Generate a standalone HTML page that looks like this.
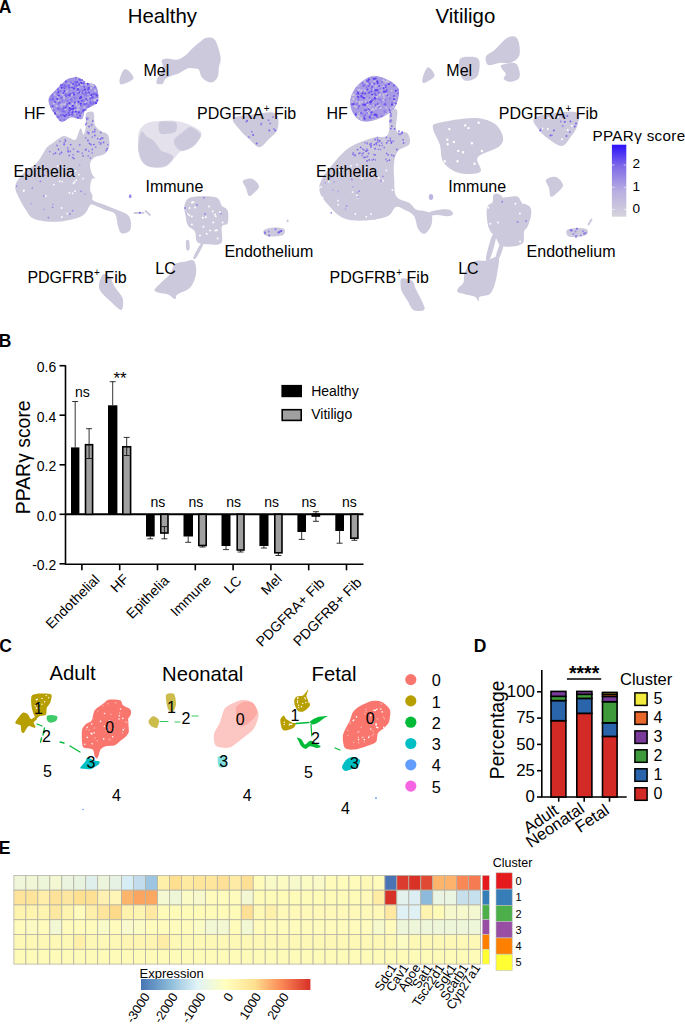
<!DOCTYPE html>
<html><head><meta charset="utf-8"><style>
html,body{margin:0;padding:0;background:#fff;width:685px;height:1025px;overflow:hidden;}
svg{display:block;font-family:"Liberation Sans",sans-serif;}
</style></head><body>
<svg width="685" height="1025" viewBox="0 0 685 1025" font-family="Liberation Sans, sans-serif"><text x="-1.2" y="12.9" font-size="17.5" font-weight="bold" fill="#000" >A</text>
<text x="127.8" y="22.8" font-size="20.4" fill="#000" >Healthy</text>
<text x="435.6" y="22.9" font-size="20.4" fill="#000" >Vitiligo</text>
<path d="M138.4,134.0 C139.5,128.3 142.7,125.8 146.3,123.6 C149.9,121.4 155.1,121.4 160.0,121.0 C164.9,120.6 171.0,120.3 176.0,121.0 C181.0,121.7 185.9,123.2 190.0,125.0 C194.1,126.8 199.0,129.3 200.7,131.5 C202.4,133.7 201.3,135.4 200.0,138.0 C198.7,140.6 196.3,144.7 193.0,147.0 C189.7,149.3 183.3,149.8 180.0,152.0 C176.7,154.2 175.5,157.5 173.0,160.0 C170.5,162.5 168.8,165.8 165.0,167.0 C161.2,168.2 154.2,168.5 150.0,167.0 C145.8,165.5 141.9,163.5 140.0,158.0 C138.1,152.5 137.3,139.7 138.4,134.0Z" fill="#e4e1ec"/>
<path d="M73.9,77.4 C71.9,77.7 69.8,77.6 66.9,79.6 C64.0,81.6 59.4,86.2 56.4,89.3 C53.4,92.4 49.9,95.1 48.9,98.0 C47.9,100.9 49.3,104.2 50.3,106.8 C51.2,109.4 53.3,111.8 54.6,113.8 C55.9,115.8 56.8,117.7 58.1,119.0 C59.4,120.3 60.3,122.0 62.5,121.7 C64.7,121.4 68.7,117.8 71.3,117.3 C73.9,116.8 76.4,118.8 78.3,119.0 C80.2,119.2 81.7,119.5 82.7,118.2 C83.7,116.9 83.4,113.0 84.4,111.2 C85.4,109.5 86.8,109.0 88.8,107.7 C90.8,106.4 95.1,105.2 96.7,103.3 C98.3,101.4 98.4,98.9 98.4,96.3 C98.4,93.7 97.6,89.5 96.7,87.5 C95.8,85.5 95.1,84.7 93.2,84.0 C91.3,83.3 86.9,83.7 85.3,83.1 C83.7,82.5 84.5,81.4 83.5,80.5 C82.5,79.6 80.8,78.4 79.2,77.9 C77.6,77.4 76.0,77.1 73.9,77.4Z" fill="#cdc9dc"/>
<path d="M15.4,189.2 C15.0,186.2 15.4,184.1 17.0,181.2 C18.6,178.3 21.9,174.8 25.0,172.0 C28.1,169.2 32.7,167.1 35.5,164.3 C38.3,161.6 40.0,158.3 41.9,155.5 C43.8,152.7 44.9,149.6 46.8,147.5 C48.7,145.4 50.5,144.6 53.2,142.7 C55.9,140.8 60.1,137.0 62.8,136.2 C65.5,135.4 67.0,137.2 69.2,137.8 C71.4,138.4 73.8,141.1 75.7,139.5 C77.6,137.9 79.2,129.0 80.5,128.2 C81.8,127.4 82.8,135.1 83.7,134.6 C84.6,134.1 85.6,128.5 86.0,125.0 C86.4,121.5 84.8,115.6 86.0,113.5 C87.2,111.4 92.0,110.6 93.5,112.5 C95.0,114.4 93.6,121.8 94.9,125.0 C96.2,128.2 99.2,129.8 101.4,131.4 C103.6,133.0 106.5,132.2 107.8,134.6 C109.1,137.0 109.9,142.7 109.4,145.9 C108.9,149.1 107.0,152.0 104.6,153.9 C102.2,155.8 97.3,155.5 94.9,157.1 C92.5,158.7 90.6,160.8 90.1,163.5 C89.6,166.2 90.9,170.8 91.7,173.2 C92.5,175.6 94.9,176.9 94.9,178.0 C94.9,179.1 92.5,177.7 91.7,179.6 C90.9,181.5 90.0,186.5 90.1,189.2 C90.2,191.9 92.0,193.8 92.5,195.7 C93.0,197.6 91.2,198.9 93.3,200.5 C95.4,202.1 101.1,203.4 105.0,205.0 C108.9,206.6 113.1,208.2 116.8,209.8 C120.5,211.4 125.0,212.6 127.3,214.5 C129.6,216.4 130.4,218.8 130.8,221.5 C131.2,224.2 131.2,228.9 129.7,230.8 C128.1,232.8 123.5,234.0 121.5,233.2 C119.5,232.4 119.1,229.4 118.0,226.2 C116.9,223.0 117.2,216.7 115.0,214.0 C112.8,211.3 108.6,211.3 105.0,209.8 C101.4,208.3 96.0,205.8 93.5,205.0 C91.0,204.2 91.5,203.9 90.1,205.3 C88.7,206.7 87.4,211.2 85.3,213.3 C83.2,215.4 81.3,216.8 77.3,218.1 C73.3,219.4 66.6,220.8 61.2,221.4 C55.8,222.0 49.9,222.0 45.1,221.4 C40.3,220.8 35.5,220.0 32.3,218.1 C29.1,216.2 28.0,213.3 25.9,210.1 C23.8,206.9 21.2,202.4 19.5,198.9 C17.8,195.4 15.8,192.1 15.4,189.2Z" fill="#cdc9dc"/>
<path d="M125.3,69.0 C127.5,69.0 134.2,75.6 133.5,78.2 C132.8,80.8 123.5,84.4 121.2,84.4 C119.0,84.4 119.3,80.6 120.0,78.0 C120.7,75.4 123.0,69.0 125.3,69.0Z" fill="#cdc9dc"/>
<path d="M161.7,60.4 C162.5,59.1 165.0,58.7 167.5,58.6 C170.0,58.5 174.0,60.3 176.9,59.8 C179.8,59.3 182.5,57.6 185.0,55.7 C187.5,53.9 189.7,50.9 192.0,48.7 C194.3,46.6 196.8,44.5 199.0,42.8 C201.2,41.0 203.0,39.1 204.9,38.2 C206.8,37.3 208.9,37.2 210.7,37.6 C212.4,38.0 214.0,38.5 215.4,40.5 C216.8,42.5 218.0,46.8 218.9,49.9 C219.8,53.0 220.7,56.3 220.7,59.2 C220.7,62.1 219.4,64.5 218.9,67.4 C218.4,70.3 218.7,74.3 217.7,76.7 C216.7,79.1 214.8,81.2 213.1,82.0 C211.3,82.8 209.1,82.3 207.2,81.4 C205.2,80.5 202.8,78.7 201.4,76.7 C200.0,74.8 200.2,71.1 199.0,69.7 C197.8,68.3 196.3,68.7 194.4,68.5 C192.5,68.3 189.9,67.7 187.4,68.5 C184.9,69.3 181.7,72.0 179.2,73.2 C176.7,74.4 174.5,74.5 172.2,75.5 C169.9,76.5 166.8,77.6 165.2,79.0 C163.6,80.4 164.2,82.9 162.8,83.7 C161.4,84.5 158.0,84.5 157.0,83.7 C156.0,82.9 156.4,80.8 157.0,79.0 C157.6,77.2 159.5,75.3 160.5,73.2 C161.5,71.1 162.6,68.3 162.8,66.2 C163.0,64.1 160.9,61.7 161.7,60.4Z" fill="#cdc9dc"/>
<path d="M233.0,118.4 C234.7,115.9 243.0,115.9 250.0,115.0 C257.0,114.1 270.4,110.7 275.0,113.0 C279.6,115.3 278.8,124.5 277.6,129.0 C276.4,133.5 271.1,136.9 268.0,140.0 C264.9,143.1 262.3,147.3 259.3,147.3 C256.3,147.3 253.2,142.9 250.0,140.0 C246.8,137.1 242.8,133.6 240.0,130.0 C237.2,126.4 231.3,120.9 233.0,118.4Z" fill="#cdc9dc"/>
<path d="M140.5,133.4 C139.7,136.1 138.0,144.0 138.2,148.5 C138.4,153.0 140.1,157.3 141.7,160.2 C143.2,163.1 145.0,164.8 147.5,166.0 C150.0,167.2 154.0,167.2 156.9,167.2 C159.8,167.2 162.7,167.0 165.0,166.0 C167.3,165.0 169.5,163.0 170.9,161.4 C172.3,159.8 173.6,158.1 173.2,156.7 C172.8,155.3 170.4,154.2 168.5,153.2 C166.6,152.2 163.4,152.3 161.5,150.9 C159.6,149.5 158.2,146.8 156.9,145.0 C155.6,143.2 155.0,141.8 153.4,140.4 C151.8,139.1 149.3,138.3 147.5,136.9 C145.7,135.5 144.0,132.8 142.8,132.2 C141.6,131.6 141.3,130.7 140.5,133.4Z" fill="#cdc9dc"/>
<path d="M159.2,122.5 C160.4,120.6 164.2,121.5 167.0,121.5 C169.8,121.5 174.6,120.9 176.1,122.5 C177.6,124.1 177.0,129.2 176.0,131.0 C175.0,132.8 172.7,133.1 170.0,133.4 C167.3,133.7 161.8,134.8 160.0,133.0 C158.2,131.2 158.0,124.4 159.2,122.5Z" fill="#cdc9dc"/>
<path d="M174.4,139.2 C175.6,136.9 179.9,134.2 182.6,132.2 C185.3,130.1 187.8,126.7 190.7,126.9 C193.6,127.1 198.4,131.6 200.0,133.4 C201.6,135.2 201.2,135.9 200.0,138.0 C198.8,140.1 195.9,144.0 193.0,146.2 C190.1,148.3 185.5,150.9 182.6,150.9 C179.7,150.9 176.9,148.1 175.5,146.2 C174.1,144.2 173.2,141.5 174.4,139.2Z" fill="#cdc9dc"/>
<path d="M243.0,181.0 C244.0,179.5 249.3,178.0 252.0,178.8 C254.7,179.6 258.5,183.8 259.0,186.0 C259.5,188.2 256.7,190.3 255.0,192.0 C253.3,193.7 250.5,196.7 249.0,196.0 C247.5,195.3 247.0,190.5 246.0,188.0 C245.0,185.5 242.0,182.5 243.0,181.0Z" fill="#cdc9dc"/>
<path d="M190.2,197.5 C194.5,195.9 205.4,196.2 210.1,196.4 C214.8,196.6 216.4,197.1 218.3,198.7 C220.2,200.2 220.2,203.8 221.8,205.7 C223.4,207.6 226.6,207.5 227.6,210.4 C228.6,213.3 228.6,220.5 227.6,223.2 C226.6,225.9 222.9,223.4 221.8,226.7 C220.8,230.0 223.7,240.2 221.3,243.1 C219.0,246.0 211.7,244.4 207.7,244.2 C203.7,244.0 199.3,244.0 197.2,241.9 C195.1,239.8 196.4,234.1 194.9,231.4 C193.4,228.7 189.5,228.2 187.9,225.5 C186.3,222.8 186.1,218.3 185.5,215.0 C184.9,211.7 183.6,208.6 184.4,205.7 C185.2,202.8 185.9,199.1 190.2,197.5Z" fill="#cdc9dc"/>
<path d="M193.7,260.6 C195.6,262.5 196.7,268.9 196.1,273.4 C195.5,277.9 193.3,284.0 190.2,287.5 C187.1,291.0 179.9,292.6 177.4,294.5 C174.9,296.4 176.6,299.1 175.0,299.1 C173.4,299.1 171.1,295.7 168.0,294.5 C164.9,293.3 158.5,293.1 156.4,292.1 C154.3,291.1 154.0,290.6 155.2,288.6 C156.4,286.7 160.9,282.9 163.4,280.4 C165.9,277.9 168.5,276.1 170.4,273.4 C172.3,270.7 172.7,266.0 175.0,264.1 C177.3,262.2 181.3,262.4 184.4,261.8 C187.5,261.2 191.8,258.7 193.7,260.6Z" fill="#cdc9dc"/>
<path d="M200.5,244.0 C202.1,242.0 203.8,242.7 203.0,245.0 C202.2,247.3 197.6,256.0 196.0,258.0 C194.4,260.0 192.8,259.3 193.5,257.0 C194.2,254.7 198.9,246.0 200.5,244.0Z" fill="#cdc9dc"/>
<path d="M186.0,241.0 C186.4,239.4 188.4,239.2 189.0,240.5 C189.6,241.8 189.9,247.4 189.5,249.0 C189.1,250.6 187.1,251.3 186.5,250.0 C185.9,248.7 185.6,242.6 186.0,241.0Z" fill="#cdc9dc"/>
<path d="M264.0,230.0 C265.5,228.8 270.7,227.7 274.0,227.5 C277.3,227.3 282.5,227.8 284.0,229.0 C285.5,230.2 285.0,233.8 283.0,235.0 C281.0,236.2 275.0,236.5 272.0,236.5 C269.0,236.5 266.3,236.1 265.0,235.0 C263.7,233.9 262.5,231.2 264.0,230.0Z" fill="#cdc9dc"/>
<path d="M102.8,274.8 C104.5,272.8 107.8,275.1 109.8,277.0 C111.8,278.9 112.4,282.9 114.5,286.4 C116.6,289.9 121.4,294.1 122.6,298.0 C123.8,301.9 123.3,309.0 121.5,309.8 C119.7,310.6 115.7,306.3 112.0,302.8 C108.3,299.3 100.8,293.5 99.3,288.8 C97.8,284.1 101.0,276.8 102.8,274.8Z" fill="#cdc9dc"/>
<path d="M373.0,76.0 C378.2,75.3 385.1,78.4 389.4,80.7 C393.7,83.0 397.7,86.0 398.8,90.0 C399.9,94.0 397.5,101.3 396.0,105.0 C394.5,108.7 392.7,109.8 390.0,112.0 C387.3,114.2 384.0,116.4 380.0,118.0 C376.0,119.6 369.9,121.6 366.0,121.6 C362.1,121.6 359.2,120.3 356.7,118.0 C354.2,115.7 351.9,111.5 351.0,108.0 C350.1,104.5 349.8,100.8 351.0,97.0 C352.2,93.2 354.3,88.5 358.0,85.0 C361.7,81.5 367.8,76.7 373.0,76.0Z" fill="#cdc9dc"/>
<path d="M389.8,111.0 C391.3,107.1 396.1,107.7 397.2,111.0 C398.3,114.3 394.7,127.0 396.4,130.7 C398.1,134.4 405.1,130.8 407.3,133.0 C409.5,135.2 410.9,141.0 409.5,143.9 C408.1,146.8 401.2,147.6 398.6,150.5 C396.1,153.4 394.9,156.7 394.2,161.4 C393.5,166.1 393.8,173.1 394.2,178.9 C394.6,184.7 393.8,192.4 396.4,196.4 C398.9,200.4 406.2,200.8 409.5,203.0 C412.8,205.2 413.6,208.3 416.0,209.6 C418.4,210.9 421.4,210.3 424.0,211.0 C426.6,211.7 430.2,211.7 431.4,214.0 C432.6,216.3 432.5,221.7 431.4,225.0 C430.3,228.3 427.0,233.0 424.8,233.7 C422.6,234.4 420.1,232.2 418.3,229.3 C416.5,226.4 416.2,219.2 414.0,216.0 C411.8,212.8 408.0,211.5 405.0,210.0 C402.0,208.5 398.9,206.0 396.0,207.0 C393.1,208.0 392.7,213.9 387.6,216.2 C382.6,218.4 373.0,220.2 365.7,220.5 C358.4,220.8 350.0,220.9 343.8,218.3 C337.6,215.8 332.5,209.6 328.5,205.2 C324.5,200.8 320.8,196.4 319.7,192.0 C318.6,187.6 319.3,184.0 321.9,178.9 C324.4,173.8 330.6,166.5 335.0,161.4 C339.4,156.3 343.8,151.6 348.2,148.3 C352.6,145.0 356.9,143.5 361.3,141.7 C365.7,139.9 370.1,138.5 374.5,137.3 C378.9,136.1 385.4,138.9 388.0,134.5 C390.6,130.1 388.3,114.9 389.8,111.0Z" fill="#cdc9dc"/>
<path d="M430.0,212.0 C431.8,211.0 437.7,209.8 441.0,209.5 C444.3,209.2 448.0,209.2 450.0,210.0 C452.0,210.8 453.3,213.0 453.0,214.0 C452.7,215.0 450.5,216.0 448.0,216.2 C445.5,216.4 441.0,215.1 438.0,215.0 C435.0,214.9 431.3,216.0 430.0,215.5 C428.7,215.0 428.2,213.0 430.0,212.0Z" fill="#cdc9dc"/>
<path d="M422.6,78.0 C423.3,75.4 426.0,67.6 428.0,67.3 C430.0,67.0 435.2,73.4 434.5,76.0 C433.8,78.6 426.0,82.7 424.0,83.0 C422.0,83.3 421.9,80.6 422.6,78.0Z" fill="#cdc9dc"/>
<path d="M459.4,60.0 C460.7,56.5 466.7,56.8 470.0,56.8 C473.3,56.8 477.7,57.0 479.0,60.0 C480.3,63.0 479.5,71.6 478.0,75.0 C476.5,78.4 472.7,79.9 470.0,80.4 C467.3,80.9 463.8,81.4 462.0,78.0 C460.2,74.6 458.1,63.5 459.4,60.0Z" fill="#cdc9dc"/>
<path d="M486.0,56.3 C487.1,53.8 491.6,52.6 494.9,49.7 C498.2,46.8 502.6,41.0 505.9,38.8 C509.2,36.6 512.4,35.9 514.6,36.6 C516.8,37.3 518.3,39.8 519.0,43.1 C519.7,46.4 520.5,53.0 519.0,56.3 C517.5,59.6 513.5,61.8 510.2,62.9 C506.9,64.0 502.9,62.5 499.3,62.9 C495.7,63.2 490.5,66.1 488.3,65.0 C486.1,63.9 484.9,58.8 486.0,56.3Z" fill="#cdc9dc"/>
<path d="M501.5,65.0 C503.5,63.9 511.7,62.2 514.6,62.9 C517.5,63.6 518.3,66.9 519.0,69.4 C519.7,72.0 520.5,76.2 519.0,78.2 C517.5,80.2 512.8,81.6 510.2,81.7 C507.6,81.8 504.4,80.3 503.7,79.0 C503.0,77.7 506.1,75.4 505.9,73.8 C505.7,72.2 503.1,70.9 502.4,69.4 C501.7,67.9 499.5,66.1 501.5,65.0Z" fill="#cdc9dc"/>
<path d="M535.6,117.2 C541.5,114.1 568.0,110.7 575.0,112.0 C582.0,113.3 578.4,120.7 577.6,125.0 C576.8,129.3 572.6,134.5 570.0,138.0 C567.4,141.5 565.2,145.7 561.9,146.0 C558.6,146.3 553.7,142.6 550.0,140.0 C546.3,137.4 541.9,134.2 539.5,130.4 C537.1,126.6 529.7,120.3 535.6,117.2Z" fill="#cdc9dc"/>
<path d="M433.0,128.4 C432.8,124.9 431.8,124.7 438.4,123.0 C445.0,121.3 463.3,118.0 472.5,118.0 C481.7,118.0 488.6,120.0 493.6,123.0 C498.7,126.0 501.9,132.3 502.8,136.3 C503.7,140.3 503.0,143.3 498.8,146.8 C494.6,150.3 480.9,153.2 477.8,157.3 C474.7,161.5 483.5,169.1 480.4,171.7 C477.3,174.3 465.5,174.5 459.4,173.0 C453.3,171.5 446.9,167.3 443.6,162.5 C440.3,157.7 441.5,149.9 439.7,144.2 C437.9,138.5 433.2,131.9 433.0,128.4Z" fill="#cdc9dc"/>
<path d="M546.0,180.0 C547.2,178.2 553.2,176.2 556.0,177.0 C558.8,177.8 562.7,182.5 563.0,185.0 C563.3,187.5 560.0,190.1 558.0,192.0 C556.0,193.9 552.5,197.4 551.0,196.7 C549.5,196.0 549.8,190.8 549.0,188.0 C548.2,185.2 544.8,181.8 546.0,180.0Z" fill="#cdc9dc"/>
<path d="M493.3,195.2 C494.0,193.8 495.6,193.4 497.0,193.5 C498.4,193.6 500.9,195.3 501.9,196.0 C502.9,196.7 500.6,197.4 503.1,197.5 C505.6,197.6 514.0,195.6 517.1,196.4 C520.2,197.2 519.6,200.4 521.8,202.2 C523.9,203.9 528.5,204.8 530.0,206.9 C531.5,209.0 531.5,211.7 531.1,215.0 C530.7,218.3 528.8,224.0 527.6,226.7 C526.4,229.4 524.9,228.7 524.1,231.4 C523.3,234.1 524.9,240.6 522.9,243.1 C520.9,245.6 516.1,246.2 512.4,246.6 C508.7,247.0 503.4,246.8 500.7,245.4 C498.0,244.0 498.0,241.1 496.1,238.4 C494.2,235.7 490.7,233.0 489.1,229.1 C487.5,225.2 486.9,218.9 486.7,215.0 C486.5,211.1 486.9,207.8 487.9,205.7 C488.9,203.6 491.7,203.9 492.6,202.2 C493.5,200.4 492.6,196.6 493.3,195.2Z" fill="#cdc9dc"/>
<path d="M486.7,260.6 C490.2,260.0 496.6,254.9 498.4,257.0 C500.1,259.1 498.0,268.3 497.2,273.4 C496.4,278.5 495.0,284.0 493.7,287.5 C492.4,291.0 491.4,292.9 489.1,294.5 C486.8,296.1 481.5,295.6 479.7,296.8 C477.9,298.0 479.3,301.5 478.5,301.5 C477.7,301.5 477.1,298.0 475.0,296.8 C472.9,295.6 468.6,295.3 465.7,294.5 C462.8,293.7 458.7,293.3 457.5,292.1 C456.3,290.9 457.7,289.1 458.7,287.5 C459.7,285.9 462.4,285.2 463.4,282.8 C464.4,280.4 463.3,276.5 464.5,273.4 C465.7,270.3 468.2,266.2 470.4,264.1 C472.5,262.0 474.7,261.2 477.4,260.6 C480.1,260.0 483.2,261.2 486.7,260.6Z" fill="#cdc9dc"/>
<path d="M500.0,244.0 C501.3,241.9 503.7,243.1 503.5,245.5 C503.3,247.9 500.3,256.4 499.0,258.5 C497.7,260.6 495.3,260.4 495.5,258.0 C495.7,255.6 498.7,246.1 500.0,244.0Z" fill="#cdc9dc"/>
<path d="M492.0,236.0 C493.7,232.6 496.3,233.7 496.0,237.5 C495.7,241.3 491.7,255.6 490.0,259.0 C488.3,262.4 485.7,261.8 486.0,258.0 C486.3,254.2 490.3,239.4 492.0,236.0Z" fill="#cdc9dc"/>
<path d="M567.0,230.0 C568.5,228.7 573.7,228.1 577.0,228.0 C580.3,227.9 585.5,228.3 587.0,229.5 C588.5,230.7 587.8,233.8 586.0,235.0 C584.2,236.2 579.0,236.8 576.0,237.0 C573.0,237.2 569.5,237.2 568.0,236.0 C566.5,234.8 565.5,231.3 567.0,230.0Z" fill="#cdc9dc"/>
<path d="M401.8,278.5 C403.8,277.9 410.0,279.2 412.3,281.0 C414.6,282.8 414.1,285.3 415.8,289.0 C417.6,292.7 421.4,299.5 422.8,303.0 C424.2,306.5 425.6,308.8 424.0,310.0 C422.4,311.2 416.1,311.6 413.4,310.0 C410.7,308.4 409.5,303.8 407.6,300.7 C405.7,297.6 403.0,294.1 401.8,291.4 C400.6,288.7 400.6,286.5 400.6,284.4 C400.6,282.2 399.9,279.1 401.8,278.5Z" fill="#cdc9dc"/>
<ellipse cx="130.2" cy="196.2" rx="1.3" ry="2" fill="#9a88e6"/>
<path d="M134.5,213 L143.5,212.8" stroke="#cdc9dc" stroke-width="1.8" stroke-linecap="round"/>
<circle cx="139.8" cy="212.8" r="1" fill="#7a64ea"/>
<path d="M145.5,211 L150,215" stroke="#cdc9dc" stroke-width="1.8" stroke-linecap="round"/>
<ellipse cx="431" cy="197" rx="2.2" ry="3" fill="#bdb5e0"/>
<ellipse cx="287.6" cy="220.7" rx="1" ry="1.5" fill="#cdc9dc"/>
<path d="M588.5,224.5 L591.5,219.5" stroke="#cdc9dc" stroke-width="2" stroke-linecap="round"/>
<path d="M73.9,77.4 C71.9,77.7 69.8,77.6 66.9,79.6 C64.0,81.6 59.4,86.2 56.4,89.3 C53.4,92.4 49.9,95.1 48.9,98.0 C47.9,100.9 49.3,104.2 50.3,106.8 C51.2,109.4 53.3,111.8 54.6,113.8 C55.9,115.8 56.8,117.7 58.1,119.0 C59.4,120.3 60.3,122.0 62.5,121.7 C64.7,121.4 68.7,117.8 71.3,117.3 C73.9,116.8 76.4,118.8 78.3,119.0 C80.2,119.2 81.7,119.5 82.7,118.2 C83.7,116.9 83.4,113.0 84.4,111.2 C85.4,109.5 86.8,109.0 88.8,107.7 C90.8,106.4 95.1,105.2 96.7,103.3 C98.3,101.4 98.4,98.9 98.4,96.3 C98.4,93.7 97.6,89.5 96.7,87.5 C95.8,85.5 95.1,84.7 93.2,84.0 C91.3,83.3 86.9,83.7 85.3,83.1 C83.7,82.5 84.5,81.4 83.5,80.5 C82.5,79.6 80.8,78.4 79.2,77.9 C77.6,77.4 76.0,77.1 73.9,77.4Z" fill="#a093e6"/>
<path d="M373.0,76.0 C378.2,75.3 385.1,78.4 389.4,80.7 C393.7,83.0 397.7,86.0 398.8,90.0 C399.9,94.0 397.5,101.3 396.0,105.0 C394.5,108.7 392.7,109.8 390.0,112.0 C387.3,114.2 384.0,116.4 380.0,118.0 C376.0,119.6 369.9,121.6 366.0,121.6 C362.1,121.6 359.2,120.3 356.7,118.0 C354.2,115.7 351.9,111.5 351.0,108.0 C350.1,104.5 349.8,100.8 351.0,97.0 C352.2,93.2 354.3,88.5 358.0,85.0 C361.7,81.5 367.8,76.7 373.0,76.0Z" fill="#a89be4"/>
<path d="M59.6,101.5a1.1,1.1 0 1,0 2.2,0a1.1,1.1 0 1,0 -2.2,0M66.1,104.2a1.1,1.1 0 1,0 2.2,0a1.1,1.1 0 1,0 -2.2,0M78.8,80.3a1.1,1.1 0 1,0 2.2,0a1.1,1.1 0 1,0 -2.2,0M79.4,84.1a1.1,1.1 0 1,0 2.2,0a1.1,1.1 0 1,0 -2.2,0M73.7,110.2a1.1,1.1 0 1,0 2.2,0a1.1,1.1 0 1,0 -2.2,0M65.2,103.3a1.1,1.1 0 1,0 2.2,0a1.1,1.1 0 1,0 -2.2,0M81.0,84.6a1.1,1.1 0 1,0 2.2,0a1.1,1.1 0 1,0 -2.2,0M68.1,84.1a1.1,1.1 0 1,0 2.2,0a1.1,1.1 0 1,0 -2.2,0M83.4,92.1a1.1,1.1 0 1,0 2.2,0a1.1,1.1 0 1,0 -2.2,0M77.5,78.8a1.1,1.1 0 1,0 2.2,0a1.1,1.1 0 1,0 -2.2,0M75.5,104.9a1.1,1.1 0 1,0 2.2,0a1.1,1.1 0 1,0 -2.2,0M94.4,99.9a1.1,1.1 0 1,0 2.2,0a1.1,1.1 0 1,0 -2.2,0M77.1,91.6a1.1,1.1 0 1,0 2.2,0a1.1,1.1 0 1,0 -2.2,0M65.8,91.3a1.1,1.1 0 1,0 2.2,0a1.1,1.1 0 1,0 -2.2,0M62.7,94.1a1.1,1.1 0 1,0 2.2,0a1.1,1.1 0 1,0 -2.2,0M76.0,110.0a1.1,1.1 0 1,0 2.2,0a1.1,1.1 0 1,0 -2.2,0M57.1,96.7a1.1,1.1 0 1,0 2.2,0a1.1,1.1 0 1,0 -2.2,0M82.4,81.9a1.1,1.1 0 1,0 2.2,0a1.1,1.1 0 1,0 -2.2,0M63.7,92.2a1.1,1.1 0 1,0 2.2,0a1.1,1.1 0 1,0 -2.2,0M89.1,96.8a1.1,1.1 0 1,0 2.2,0a1.1,1.1 0 1,0 -2.2,0M90.1,84.9a1.1,1.1 0 1,0 2.2,0a1.1,1.1 0 1,0 -2.2,0M64.5,106.2a1.1,1.1 0 1,0 2.2,0a1.1,1.1 0 1,0 -2.2,0M80.6,100.4a1.1,1.1 0 1,0 2.2,0a1.1,1.1 0 1,0 -2.2,0M62.1,92.5a1.1,1.1 0 1,0 2.2,0a1.1,1.1 0 1,0 -2.2,0M56.3,90.7a1.1,1.1 0 1,0 2.2,0a1.1,1.1 0 1,0 -2.2,0M74.3,113.6a1.1,1.1 0 1,0 2.2,0a1.1,1.1 0 1,0 -2.2,0M56.3,112.5a1.1,1.1 0 1,0 2.2,0a1.1,1.1 0 1,0 -2.2,0M68.7,98.3a1.1,1.1 0 1,0 2.2,0a1.1,1.1 0 1,0 -2.2,0M83.2,94.2a1.1,1.1 0 1,0 2.2,0a1.1,1.1 0 1,0 -2.2,0M86.5,94.2a1.1,1.1 0 1,0 2.2,0a1.1,1.1 0 1,0 -2.2,0M87.5,105.0a1.1,1.1 0 1,0 2.2,0a1.1,1.1 0 1,0 -2.2,0M70.6,88.3a1.1,1.1 0 1,0 2.2,0a1.1,1.1 0 1,0 -2.2,0M68.9,116.4a1.1,1.1 0 1,0 2.2,0a1.1,1.1 0 1,0 -2.2,0M80.6,116.7a1.1,1.1 0 1,0 2.2,0a1.1,1.1 0 1,0 -2.2,0M84.1,102.4a1.1,1.1 0 1,0 2.2,0a1.1,1.1 0 1,0 -2.2,0M52.9,103.4a1.1,1.1 0 1,0 2.2,0a1.1,1.1 0 1,0 -2.2,0M91.4,85.3a1.1,1.1 0 1,0 2.2,0a1.1,1.1 0 1,0 -2.2,0M81.1,114.4a1.1,1.1 0 1,0 2.2,0a1.1,1.1 0 1,0 -2.2,0M60.2,104.7a1.1,1.1 0 1,0 2.2,0a1.1,1.1 0 1,0 -2.2,0M84.8,84.5a1.1,1.1 0 1,0 2.2,0a1.1,1.1 0 1,0 -2.2,0M93.2,100.3a1.1,1.1 0 1,0 2.2,0a1.1,1.1 0 1,0 -2.2,0M57.0,89.2a1.1,1.1 0 1,0 2.2,0a1.1,1.1 0 1,0 -2.2,0M71.5,94.4a1.1,1.1 0 1,0 2.2,0a1.1,1.1 0 1,0 -2.2,0M71.5,103.9a1.1,1.1 0 1,0 2.2,0a1.1,1.1 0 1,0 -2.2,0M88.5,102.1a1.1,1.1 0 1,0 2.2,0a1.1,1.1 0 1,0 -2.2,0M90.1,88.1a1.1,1.1 0 1,0 2.2,0a1.1,1.1 0 1,0 -2.2,0M60.4,115.7a1.1,1.1 0 1,0 2.2,0a1.1,1.1 0 1,0 -2.2,0M63.3,96.2a1.1,1.1 0 1,0 2.2,0a1.1,1.1 0 1,0 -2.2,0M76.5,107.3a1.1,1.1 0 1,0 2.2,0a1.1,1.1 0 1,0 -2.2,0M61.4,106.9a1.1,1.1 0 1,0 2.2,0a1.1,1.1 0 1,0 -2.2,0M94.4,94.0a1.1,1.1 0 1,0 2.2,0a1.1,1.1 0 1,0 -2.2,0M83.3,107.5a1.1,1.1 0 1,0 2.2,0a1.1,1.1 0 1,0 -2.2,0M64.2,109.3a1.1,1.1 0 1,0 2.2,0a1.1,1.1 0 1,0 -2.2,0M51.2,109.1a1.1,1.1 0 1,0 2.2,0a1.1,1.1 0 1,0 -2.2,0M85.1,101.5a1.1,1.1 0 1,0 2.2,0a1.1,1.1 0 1,0 -2.2,0M61.0,94.4a1.1,1.1 0 1,0 2.2,0a1.1,1.1 0 1,0 -2.2,0M77.1,83.9a1.1,1.1 0 1,0 2.2,0a1.1,1.1 0 1,0 -2.2,0M57.8,88.5a1.1,1.1 0 1,0 2.2,0a1.1,1.1 0 1,0 -2.2,0M94.8,94.4a1.1,1.1 0 1,0 2.2,0a1.1,1.1 0 1,0 -2.2,0M75.2,103.2a1.1,1.1 0 1,0 2.2,0a1.1,1.1 0 1,0 -2.2,0M90.4,98.8a1.1,1.1 0 1,0 2.2,0a1.1,1.1 0 1,0 -2.2,0M77.6,109.6a1.1,1.1 0 1,0 2.2,0a1.1,1.1 0 1,0 -2.2,0M80.6,99.2a1.1,1.1 0 1,0 2.2,0a1.1,1.1 0 1,0 -2.2,0M57.4,100.9a1.1,1.1 0 1,0 2.2,0a1.1,1.1 0 1,0 -2.2,0M90.4,96.8a1.1,1.1 0 1,0 2.2,0a1.1,1.1 0 1,0 -2.2,0M55.8,99.4a1.1,1.1 0 1,0 2.2,0a1.1,1.1 0 1,0 -2.2,0M68.7,106.2a1.1,1.1 0 1,0 2.2,0a1.1,1.1 0 1,0 -2.2,0M62.9,98.0a1.1,1.1 0 1,0 2.2,0a1.1,1.1 0 1,0 -2.2,0M83.4,93.7a1.1,1.1 0 1,0 2.2,0a1.1,1.1 0 1,0 -2.2,0M77.3,87.3a1.1,1.1 0 1,0 2.2,0a1.1,1.1 0 1,0 -2.2,0M70.6,86.1a1.1,1.1 0 1,0 2.2,0a1.1,1.1 0 1,0 -2.2,0M70.0,95.5a1.1,1.1 0 1,0 2.2,0a1.1,1.1 0 1,0 -2.2,0M71.3,84.7a1.1,1.1 0 1,0 2.2,0a1.1,1.1 0 1,0 -2.2,0M78.6,92.7a1.1,1.1 0 1,0 2.2,0a1.1,1.1 0 1,0 -2.2,0M86.8,98.0a1.1,1.1 0 1,0 2.2,0a1.1,1.1 0 1,0 -2.2,0M94.0,90.7a1.1,1.1 0 1,0 2.2,0a1.1,1.1 0 1,0 -2.2,0M60.2,89.2a1.1,1.1 0 1,0 2.2,0a1.1,1.1 0 1,0 -2.2,0M92.4,86.3a1.1,1.1 0 1,0 2.2,0a1.1,1.1 0 1,0 -2.2,0M96.0,98.5a1.1,1.1 0 1,0 2.2,0a1.1,1.1 0 1,0 -2.2,0M62.9,104.3a1.1,1.1 0 1,0 2.2,0a1.1,1.1 0 1,0 -2.2,0M53.5,94.7a1.1,1.1 0 1,0 2.2,0a1.1,1.1 0 1,0 -2.2,0M86.4,98.7a1.1,1.1 0 1,0 2.2,0a1.1,1.1 0 1,0 -2.2,0M70.9,111.0a1.1,1.1 0 1,0 2.2,0a1.1,1.1 0 1,0 -2.2,0M81.3,81.7a1.1,1.1 0 1,0 2.2,0a1.1,1.1 0 1,0 -2.2,0M79.6,116.3a1.1,1.1 0 1,0 2.2,0a1.1,1.1 0 1,0 -2.2,0M55.4,106.0a1.1,1.1 0 1,0 2.2,0a1.1,1.1 0 1,0 -2.2,0M76.8,77.9a1.1,1.1 0 1,0 2.2,0a1.1,1.1 0 1,0 -2.2,0M58.8,114.1a1.1,1.1 0 1,0 2.2,0a1.1,1.1 0 1,0 -2.2,0M78.3,105.8a1.1,1.1 0 1,0 2.2,0a1.1,1.1 0 1,0 -2.2,0M64.9,104.1a1.1,1.1 0 1,0 2.2,0a1.1,1.1 0 1,0 -2.2,0" fill="#c9c3df"/>
<path d="M60.6,87.8a1.1,1.1 0 1,0 2.2,0a1.1,1.1 0 1,0 -2.2,0M72.9,94.5a1.1,1.1 0 1,0 2.2,0a1.1,1.1 0 1,0 -2.2,0M57.6,95.5a1.1,1.1 0 1,0 2.2,0a1.1,1.1 0 1,0 -2.2,0M78.0,84.3a1.1,1.1 0 1,0 2.2,0a1.1,1.1 0 1,0 -2.2,0M79.7,103.8a1.1,1.1 0 1,0 2.2,0a1.1,1.1 0 1,0 -2.2,0M96.2,100.5a1.1,1.1 0 1,0 2.2,0a1.1,1.1 0 1,0 -2.2,0M68.4,103.1a1.1,1.1 0 1,0 2.2,0a1.1,1.1 0 1,0 -2.2,0M78.9,98.1a1.1,1.1 0 1,0 2.2,0a1.1,1.1 0 1,0 -2.2,0M82.8,110.1a1.1,1.1 0 1,0 2.2,0a1.1,1.1 0 1,0 -2.2,0M87.6,88.0a1.1,1.1 0 1,0 2.2,0a1.1,1.1 0 1,0 -2.2,0M87.8,105.8a1.1,1.1 0 1,0 2.2,0a1.1,1.1 0 1,0 -2.2,0M68.6,95.5a1.1,1.1 0 1,0 2.2,0a1.1,1.1 0 1,0 -2.2,0M78.1,92.5a1.1,1.1 0 1,0 2.2,0a1.1,1.1 0 1,0 -2.2,0M71.4,112.1a1.1,1.1 0 1,0 2.2,0a1.1,1.1 0 1,0 -2.2,0M63.4,91.3a1.1,1.1 0 1,0 2.2,0a1.1,1.1 0 1,0 -2.2,0M57.3,92.0a1.1,1.1 0 1,0 2.2,0a1.1,1.1 0 1,0 -2.2,0M72.4,108.5a1.1,1.1 0 1,0 2.2,0a1.1,1.1 0 1,0 -2.2,0M68.6,108.1a1.1,1.1 0 1,0 2.2,0a1.1,1.1 0 1,0 -2.2,0M53.9,113.4a1.1,1.1 0 1,0 2.2,0a1.1,1.1 0 1,0 -2.2,0M94.9,103.1a1.1,1.1 0 1,0 2.2,0a1.1,1.1 0 1,0 -2.2,0M96.0,95.7a1.1,1.1 0 1,0 2.2,0a1.1,1.1 0 1,0 -2.2,0M71.7,105.9a1.1,1.1 0 1,0 2.2,0a1.1,1.1 0 1,0 -2.2,0M69.7,109.2a1.1,1.1 0 1,0 2.2,0a1.1,1.1 0 1,0 -2.2,0M63.4,87.7a1.1,1.1 0 1,0 2.2,0a1.1,1.1 0 1,0 -2.2,0M76.7,89.2a1.1,1.1 0 1,0 2.2,0a1.1,1.1 0 1,0 -2.2,0M71.6,109.3a1.1,1.1 0 1,0 2.2,0a1.1,1.1 0 1,0 -2.2,0M90.2,95.1a1.1,1.1 0 1,0 2.2,0a1.1,1.1 0 1,0 -2.2,0M95.1,94.7a1.1,1.1 0 1,0 2.2,0a1.1,1.1 0 1,0 -2.2,0M80.2,82.9a1.1,1.1 0 1,0 2.2,0a1.1,1.1 0 1,0 -2.2,0M77.4,102.0a1.1,1.1 0 1,0 2.2,0a1.1,1.1 0 1,0 -2.2,0M79.9,97.7a1.1,1.1 0 1,0 2.2,0a1.1,1.1 0 1,0 -2.2,0M72.8,88.4a1.1,1.1 0 1,0 2.2,0a1.1,1.1 0 1,0 -2.2,0M74.6,111.6a1.1,1.1 0 1,0 2.2,0a1.1,1.1 0 1,0 -2.2,0M79.8,97.1a1.1,1.1 0 1,0 2.2,0a1.1,1.1 0 1,0 -2.2,0M63.8,116.0a1.1,1.1 0 1,0 2.2,0a1.1,1.1 0 1,0 -2.2,0M84.4,92.6a1.1,1.1 0 1,0 2.2,0a1.1,1.1 0 1,0 -2.2,0M86.6,83.8a1.1,1.1 0 1,0 2.2,0a1.1,1.1 0 1,0 -2.2,0M56.1,99.1a1.1,1.1 0 1,0 2.2,0a1.1,1.1 0 1,0 -2.2,0M83.8,89.6a1.1,1.1 0 1,0 2.2,0a1.1,1.1 0 1,0 -2.2,0M64.3,107.5a1.1,1.1 0 1,0 2.2,0a1.1,1.1 0 1,0 -2.2,0M91.0,97.3a1.1,1.1 0 1,0 2.2,0a1.1,1.1 0 1,0 -2.2,0M76.0,82.3a1.1,1.1 0 1,0 2.2,0a1.1,1.1 0 1,0 -2.2,0M77.7,112.3a1.1,1.1 0 1,0 2.2,0a1.1,1.1 0 1,0 -2.2,0" fill="#5a3ef2"/>
<path d="M89.2,98.5a1.1,1.1 0 1,0 2.2,0a1.1,1.1 0 1,0 -2.2,0M79.2,115.9a1.1,1.1 0 1,0 2.2,0a1.1,1.1 0 1,0 -2.2,0M67.4,112.9a1.1,1.1 0 1,0 2.2,0a1.1,1.1 0 1,0 -2.2,0M76.7,117.5a1.1,1.1 0 1,0 2.2,0a1.1,1.1 0 1,0 -2.2,0M78.2,79.4a1.1,1.1 0 1,0 2.2,0a1.1,1.1 0 1,0 -2.2,0M92.2,94.1a1.1,1.1 0 1,0 2.2,0a1.1,1.1 0 1,0 -2.2,0M69.1,109.3a1.1,1.1 0 1,0 2.2,0a1.1,1.1 0 1,0 -2.2,0M91.6,97.4a1.1,1.1 0 1,0 2.2,0a1.1,1.1 0 1,0 -2.2,0M56.9,89.7a1.1,1.1 0 1,0 2.2,0a1.1,1.1 0 1,0 -2.2,0M87.7,92.7a1.1,1.1 0 1,0 2.2,0a1.1,1.1 0 1,0 -2.2,0M87.1,89.4a1.1,1.1 0 1,0 2.2,0a1.1,1.1 0 1,0 -2.2,0M76.9,90.1a1.1,1.1 0 1,0 2.2,0a1.1,1.1 0 1,0 -2.2,0M80.6,100.7a1.1,1.1 0 1,0 2.2,0a1.1,1.1 0 1,0 -2.2,0M78.9,115.6a1.1,1.1 0 1,0 2.2,0a1.1,1.1 0 1,0 -2.2,0M53.9,102.0a1.1,1.1 0 1,0 2.2,0a1.1,1.1 0 1,0 -2.2,0M69.2,93.9a1.1,1.1 0 1,0 2.2,0a1.1,1.1 0 1,0 -2.2,0M59.8,85.4a1.1,1.1 0 1,0 2.2,0a1.1,1.1 0 1,0 -2.2,0M82.0,110.9a1.1,1.1 0 1,0 2.2,0a1.1,1.1 0 1,0 -2.2,0M81.2,100.3a1.1,1.1 0 1,0 2.2,0a1.1,1.1 0 1,0 -2.2,0M57.7,103.3a1.1,1.1 0 1,0 2.2,0a1.1,1.1 0 1,0 -2.2,0M62.4,108.6a1.1,1.1 0 1,0 2.2,0a1.1,1.1 0 1,0 -2.2,0M68.3,115.2a1.1,1.1 0 1,0 2.2,0a1.1,1.1 0 1,0 -2.2,0M71.0,114.4a1.1,1.1 0 1,0 2.2,0a1.1,1.1 0 1,0 -2.2,0M70.9,87.6a1.1,1.1 0 1,0 2.2,0a1.1,1.1 0 1,0 -2.2,0M57.1,108.6a1.1,1.1 0 1,0 2.2,0a1.1,1.1 0 1,0 -2.2,0M62.2,93.2a1.1,1.1 0 1,0 2.2,0a1.1,1.1 0 1,0 -2.2,0M74.3,82.4a1.1,1.1 0 1,0 2.2,0a1.1,1.1 0 1,0 -2.2,0M72.2,93.0a1.1,1.1 0 1,0 2.2,0a1.1,1.1 0 1,0 -2.2,0M75.8,85.5a1.1,1.1 0 1,0 2.2,0a1.1,1.1 0 1,0 -2.2,0M64.3,95.3a1.1,1.1 0 1,0 2.2,0a1.1,1.1 0 1,0 -2.2,0M65.3,114.9a1.1,1.1 0 1,0 2.2,0a1.1,1.1 0 1,0 -2.2,0M68.4,110.3a1.1,1.1 0 1,0 2.2,0a1.1,1.1 0 1,0 -2.2,0M73.9,102.6a1.1,1.1 0 1,0 2.2,0a1.1,1.1 0 1,0 -2.2,0M82.2,83.4a1.1,1.1 0 1,0 2.2,0a1.1,1.1 0 1,0 -2.2,0M85.3,98.9a1.1,1.1 0 1,0 2.2,0a1.1,1.1 0 1,0 -2.2,0M67.8,95.0a1.1,1.1 0 1,0 2.2,0a1.1,1.1 0 1,0 -2.2,0M64.9,81.6a1.1,1.1 0 1,0 2.2,0a1.1,1.1 0 1,0 -2.2,0M62.3,115.1a1.1,1.1 0 1,0 2.2,0a1.1,1.1 0 1,0 -2.2,0M68.3,87.6a1.1,1.1 0 1,0 2.2,0a1.1,1.1 0 1,0 -2.2,0M83.5,104.2a1.1,1.1 0 1,0 2.2,0a1.1,1.1 0 1,0 -2.2,0M71.9,84.2a1.1,1.1 0 1,0 2.2,0a1.1,1.1 0 1,0 -2.2,0M58.7,102.3a1.1,1.1 0 1,0 2.2,0a1.1,1.1 0 1,0 -2.2,0M74.3,85.7a1.1,1.1 0 1,0 2.2,0a1.1,1.1 0 1,0 -2.2,0" fill="#6f55ee"/>
<path d="M81.0,80.2a1.1,1.1 0 1,0 2.2,0a1.1,1.1 0 1,0 -2.2,0M95.6,96.7a1.1,1.1 0 1,0 2.2,0a1.1,1.1 0 1,0 -2.2,0M78.8,90.7a1.1,1.1 0 1,0 2.2,0a1.1,1.1 0 1,0 -2.2,0M89.0,102.8a1.1,1.1 0 1,0 2.2,0a1.1,1.1 0 1,0 -2.2,0M63.3,119.9a1.1,1.1 0 1,0 2.2,0a1.1,1.1 0 1,0 -2.2,0M70.6,100.4a1.1,1.1 0 1,0 2.2,0a1.1,1.1 0 1,0 -2.2,0M59.6,90.7a1.1,1.1 0 1,0 2.2,0a1.1,1.1 0 1,0 -2.2,0M74.9,77.9a1.1,1.1 0 1,0 2.2,0a1.1,1.1 0 1,0 -2.2,0M63.1,87.3a1.1,1.1 0 1,0 2.2,0a1.1,1.1 0 1,0 -2.2,0M74.0,85.9a1.1,1.1 0 1,0 2.2,0a1.1,1.1 0 1,0 -2.2,0M93.7,87.2a1.1,1.1 0 1,0 2.2,0a1.1,1.1 0 1,0 -2.2,0M65.2,86.1a1.1,1.1 0 1,0 2.2,0a1.1,1.1 0 1,0 -2.2,0M61.1,100.8a1.1,1.1 0 1,0 2.2,0a1.1,1.1 0 1,0 -2.2,0M76.8,93.4a1.1,1.1 0 1,0 2.2,0a1.1,1.1 0 1,0 -2.2,0M66.3,104.2a1.1,1.1 0 1,0 2.2,0a1.1,1.1 0 1,0 -2.2,0M51.3,96.2a1.1,1.1 0 1,0 2.2,0a1.1,1.1 0 1,0 -2.2,0M60.8,98.0a1.1,1.1 0 1,0 2.2,0a1.1,1.1 0 1,0 -2.2,0M87.0,107.0a1.1,1.1 0 1,0 2.2,0a1.1,1.1 0 1,0 -2.2,0M85.8,100.1a1.1,1.1 0 1,0 2.2,0a1.1,1.1 0 1,0 -2.2,0M83.2,82.1a1.1,1.1 0 1,0 2.2,0a1.1,1.1 0 1,0 -2.2,0M75.7,114.1a1.1,1.1 0 1,0 2.2,0a1.1,1.1 0 1,0 -2.2,0M85.1,94.8a1.1,1.1 0 1,0 2.2,0a1.1,1.1 0 1,0 -2.2,0M66.0,95.0a1.1,1.1 0 1,0 2.2,0a1.1,1.1 0 1,0 -2.2,0M65.1,95.9a1.1,1.1 0 1,0 2.2,0a1.1,1.1 0 1,0 -2.2,0M56.3,93.4a1.1,1.1 0 1,0 2.2,0a1.1,1.1 0 1,0 -2.2,0M63.7,111.7a1.1,1.1 0 1,0 2.2,0a1.1,1.1 0 1,0 -2.2,0M59.4,109.2a1.1,1.1 0 1,0 2.2,0a1.1,1.1 0 1,0 -2.2,0M57.2,88.9a1.1,1.1 0 1,0 2.2,0a1.1,1.1 0 1,0 -2.2,0M69.4,98.9a1.1,1.1 0 1,0 2.2,0a1.1,1.1 0 1,0 -2.2,0M58.2,103.3a1.1,1.1 0 1,0 2.2,0a1.1,1.1 0 1,0 -2.2,0M80.2,113.1a1.1,1.1 0 1,0 2.2,0a1.1,1.1 0 1,0 -2.2,0M60.9,110.8a1.1,1.1 0 1,0 2.2,0a1.1,1.1 0 1,0 -2.2,0M84.4,93.3a1.1,1.1 0 1,0 2.2,0a1.1,1.1 0 1,0 -2.2,0M85.9,93.1a1.1,1.1 0 1,0 2.2,0a1.1,1.1 0 1,0 -2.2,0M73.7,97.8a1.1,1.1 0 1,0 2.2,0a1.1,1.1 0 1,0 -2.2,0M87.0,105.0a1.1,1.1 0 1,0 2.2,0a1.1,1.1 0 1,0 -2.2,0M82.4,101.2a1.1,1.1 0 1,0 2.2,0a1.1,1.1 0 1,0 -2.2,0M85.3,95.2a1.1,1.1 0 1,0 2.2,0a1.1,1.1 0 1,0 -2.2,0M56.7,117.2a1.1,1.1 0 1,0 2.2,0a1.1,1.1 0 1,0 -2.2,0M66.2,100.8a1.1,1.1 0 1,0 2.2,0a1.1,1.1 0 1,0 -2.2,0M67.8,84.9a1.1,1.1 0 1,0 2.2,0a1.1,1.1 0 1,0 -2.2,0M88.1,105.3a1.1,1.1 0 1,0 2.2,0a1.1,1.1 0 1,0 -2.2,0M50.5,106.4a1.1,1.1 0 1,0 2.2,0a1.1,1.1 0 1,0 -2.2,0M84.4,109.9a1.1,1.1 0 1,0 2.2,0a1.1,1.1 0 1,0 -2.2,0M93.5,93.5a1.1,1.1 0 1,0 2.2,0a1.1,1.1 0 1,0 -2.2,0M83.0,94.5a1.1,1.1 0 1,0 2.2,0a1.1,1.1 0 1,0 -2.2,0M64.3,93.8a1.1,1.1 0 1,0 2.2,0a1.1,1.1 0 1,0 -2.2,0M51.4,95.1a1.1,1.1 0 1,0 2.2,0a1.1,1.1 0 1,0 -2.2,0M59.2,120.2a1.1,1.1 0 1,0 2.2,0a1.1,1.1 0 1,0 -2.2,0M68.6,112.0a1.1,1.1 0 1,0 2.2,0a1.1,1.1 0 1,0 -2.2,0M57.7,117.0a1.1,1.1 0 1,0 2.2,0a1.1,1.1 0 1,0 -2.2,0M52.0,98.0a1.1,1.1 0 1,0 2.2,0a1.1,1.1 0 1,0 -2.2,0M69.9,82.3a1.1,1.1 0 1,0 2.2,0a1.1,1.1 0 1,0 -2.2,0" fill="#8874ea"/>
<path d="M85.3,103.6a1.1,1.1 0 1,0 2.2,0a1.1,1.1 0 1,0 -2.2,0M90.6,98.3a1.1,1.1 0 1,0 2.2,0a1.1,1.1 0 1,0 -2.2,0M92.6,102.6a1.1,1.1 0 1,0 2.2,0a1.1,1.1 0 1,0 -2.2,0M83.1,86.8a1.1,1.1 0 1,0 2.2,0a1.1,1.1 0 1,0 -2.2,0M62.3,111.5a1.1,1.1 0 1,0 2.2,0a1.1,1.1 0 1,0 -2.2,0M79.1,80.1a1.1,1.1 0 1,0 2.2,0a1.1,1.1 0 1,0 -2.2,0M81.4,93.0a1.1,1.1 0 1,0 2.2,0a1.1,1.1 0 1,0 -2.2,0M60.2,97.6a1.1,1.1 0 1,0 2.2,0a1.1,1.1 0 1,0 -2.2,0M66.1,103.8a1.1,1.1 0 1,0 2.2,0a1.1,1.1 0 1,0 -2.2,0M64.9,95.9a1.1,1.1 0 1,0 2.2,0a1.1,1.1 0 1,0 -2.2,0M92.3,103.0a1.1,1.1 0 1,0 2.2,0a1.1,1.1 0 1,0 -2.2,0M60.3,115.6a1.1,1.1 0 1,0 2.2,0a1.1,1.1 0 1,0 -2.2,0M52.1,99.6a1.1,1.1 0 1,0 2.2,0a1.1,1.1 0 1,0 -2.2,0M65.2,106.1a1.1,1.1 0 1,0 2.2,0a1.1,1.1 0 1,0 -2.2,0M74.3,108.2a1.1,1.1 0 1,0 2.2,0a1.1,1.1 0 1,0 -2.2,0M94.2,94.0a1.1,1.1 0 1,0 2.2,0a1.1,1.1 0 1,0 -2.2,0M51.9,99.6a1.1,1.1 0 1,0 2.2,0a1.1,1.1 0 1,0 -2.2,0M52.5,110.5a1.1,1.1 0 1,0 2.2,0a1.1,1.1 0 1,0 -2.2,0M74.7,82.7a1.1,1.1 0 1,0 2.2,0a1.1,1.1 0 1,0 -2.2,0M62.4,107.3a1.1,1.1 0 1,0 2.2,0a1.1,1.1 0 1,0 -2.2,0M79.8,105.3a1.1,1.1 0 1,0 2.2,0a1.1,1.1 0 1,0 -2.2,0M56.7,116.8a1.1,1.1 0 1,0 2.2,0a1.1,1.1 0 1,0 -2.2,0M63.3,85.2a1.1,1.1 0 1,0 2.2,0a1.1,1.1 0 1,0 -2.2,0M67.5,86.0a1.1,1.1 0 1,0 2.2,0a1.1,1.1 0 1,0 -2.2,0M81.8,90.7a1.1,1.1 0 1,0 2.2,0a1.1,1.1 0 1,0 -2.2,0M49.6,99.6a1.1,1.1 0 1,0 2.2,0a1.1,1.1 0 1,0 -2.2,0M90.3,104.0a1.1,1.1 0 1,0 2.2,0a1.1,1.1 0 1,0 -2.2,0M89.2,101.9a1.1,1.1 0 1,0 2.2,0a1.1,1.1 0 1,0 -2.2,0M61.1,84.9a1.1,1.1 0 1,0 2.2,0a1.1,1.1 0 1,0 -2.2,0M59.5,114.8a1.1,1.1 0 1,0 2.2,0a1.1,1.1 0 1,0 -2.2,0M51.8,106.2a1.1,1.1 0 1,0 2.2,0a1.1,1.1 0 1,0 -2.2,0" fill="#7d66ec"/>
<path d="M351.6,95.0a1.1,1.1 0 1,0 2.2,0a1.1,1.1 0 1,0 -2.2,0M369.7,117.0a1.1,1.1 0 1,0 2.2,0a1.1,1.1 0 1,0 -2.2,0M385.2,107.8a1.1,1.1 0 1,0 2.2,0a1.1,1.1 0 1,0 -2.2,0M355.8,114.2a1.1,1.1 0 1,0 2.2,0a1.1,1.1 0 1,0 -2.2,0M372.0,89.2a1.1,1.1 0 1,0 2.2,0a1.1,1.1 0 1,0 -2.2,0M376.6,84.0a1.1,1.1 0 1,0 2.2,0a1.1,1.1 0 1,0 -2.2,0M382.9,97.3a1.1,1.1 0 1,0 2.2,0a1.1,1.1 0 1,0 -2.2,0M379.9,90.2a1.1,1.1 0 1,0 2.2,0a1.1,1.1 0 1,0 -2.2,0M357.2,85.8a1.1,1.1 0 1,0 2.2,0a1.1,1.1 0 1,0 -2.2,0M387.1,95.8a1.1,1.1 0 1,0 2.2,0a1.1,1.1 0 1,0 -2.2,0M372.5,109.7a1.1,1.1 0 1,0 2.2,0a1.1,1.1 0 1,0 -2.2,0M368.3,110.5a1.1,1.1 0 1,0 2.2,0a1.1,1.1 0 1,0 -2.2,0M365.0,114.3a1.1,1.1 0 1,0 2.2,0a1.1,1.1 0 1,0 -2.2,0M358.4,102.1a1.1,1.1 0 1,0 2.2,0a1.1,1.1 0 1,0 -2.2,0M367.8,107.8a1.1,1.1 0 1,0 2.2,0a1.1,1.1 0 1,0 -2.2,0M363.1,97.1a1.1,1.1 0 1,0 2.2,0a1.1,1.1 0 1,0 -2.2,0M377.7,90.9a1.1,1.1 0 1,0 2.2,0a1.1,1.1 0 1,0 -2.2,0M371.7,101.7a1.1,1.1 0 1,0 2.2,0a1.1,1.1 0 1,0 -2.2,0M380.3,103.0a1.1,1.1 0 1,0 2.2,0a1.1,1.1 0 1,0 -2.2,0M358.6,103.5a1.1,1.1 0 1,0 2.2,0a1.1,1.1 0 1,0 -2.2,0M373.5,81.4a1.1,1.1 0 1,0 2.2,0a1.1,1.1 0 1,0 -2.2,0M384.9,93.8a1.1,1.1 0 1,0 2.2,0a1.1,1.1 0 1,0 -2.2,0M370.9,117.4a1.1,1.1 0 1,0 2.2,0a1.1,1.1 0 1,0 -2.2,0M382.7,80.8a1.1,1.1 0 1,0 2.2,0a1.1,1.1 0 1,0 -2.2,0M384.9,90.3a1.1,1.1 0 1,0 2.2,0a1.1,1.1 0 1,0 -2.2,0M371.1,92.6a1.1,1.1 0 1,0 2.2,0a1.1,1.1 0 1,0 -2.2,0M360.1,91.5a1.1,1.1 0 1,0 2.2,0a1.1,1.1 0 1,0 -2.2,0M356.5,90.0a1.1,1.1 0 1,0 2.2,0a1.1,1.1 0 1,0 -2.2,0M358.2,116.2a1.1,1.1 0 1,0 2.2,0a1.1,1.1 0 1,0 -2.2,0M395.3,89.6a1.1,1.1 0 1,0 2.2,0a1.1,1.1 0 1,0 -2.2,0M390.5,90.8a1.1,1.1 0 1,0 2.2,0a1.1,1.1 0 1,0 -2.2,0M393.5,104.8a1.1,1.1 0 1,0 2.2,0a1.1,1.1 0 1,0 -2.2,0M354.4,106.1a1.1,1.1 0 1,0 2.2,0a1.1,1.1 0 1,0 -2.2,0M360.7,90.7a1.1,1.1 0 1,0 2.2,0a1.1,1.1 0 1,0 -2.2,0M352.4,99.6a1.1,1.1 0 1,0 2.2,0a1.1,1.1 0 1,0 -2.2,0M358.5,113.4a1.1,1.1 0 1,0 2.2,0a1.1,1.1 0 1,0 -2.2,0M371.7,119.8a1.1,1.1 0 1,0 2.2,0a1.1,1.1 0 1,0 -2.2,0M360.7,102.1a1.1,1.1 0 1,0 2.2,0a1.1,1.1 0 1,0 -2.2,0M371.3,108.9a1.1,1.1 0 1,0 2.2,0a1.1,1.1 0 1,0 -2.2,0M392.0,107.0a1.1,1.1 0 1,0 2.2,0a1.1,1.1 0 1,0 -2.2,0M384.8,86.8a1.1,1.1 0 1,0 2.2,0a1.1,1.1 0 1,0 -2.2,0M363.5,91.8a1.1,1.1 0 1,0 2.2,0a1.1,1.1 0 1,0 -2.2,0M364.4,83.9a1.1,1.1 0 1,0 2.2,0a1.1,1.1 0 1,0 -2.2,0M367.3,86.6a1.1,1.1 0 1,0 2.2,0a1.1,1.1 0 1,0 -2.2,0M382.6,100.2a1.1,1.1 0 1,0 2.2,0a1.1,1.1 0 1,0 -2.2,0M378.5,95.4a1.1,1.1 0 1,0 2.2,0a1.1,1.1 0 1,0 -2.2,0M358.4,89.8a1.1,1.1 0 1,0 2.2,0a1.1,1.1 0 1,0 -2.2,0M375.5,96.8a1.1,1.1 0 1,0 2.2,0a1.1,1.1 0 1,0 -2.2,0M386.1,81.2a1.1,1.1 0 1,0 2.2,0a1.1,1.1 0 1,0 -2.2,0M356.8,90.7a1.1,1.1 0 1,0 2.2,0a1.1,1.1 0 1,0 -2.2,0M366.6,82.7a1.1,1.1 0 1,0 2.2,0a1.1,1.1 0 1,0 -2.2,0M357.2,118.0a1.1,1.1 0 1,0 2.2,0a1.1,1.1 0 1,0 -2.2,0M366.5,104.9a1.1,1.1 0 1,0 2.2,0a1.1,1.1 0 1,0 -2.2,0M379.7,108.0a1.1,1.1 0 1,0 2.2,0a1.1,1.1 0 1,0 -2.2,0M363.7,90.7a1.1,1.1 0 1,0 2.2,0a1.1,1.1 0 1,0 -2.2,0M370.1,101.5a1.1,1.1 0 1,0 2.2,0a1.1,1.1 0 1,0 -2.2,0M367.6,84.3a1.1,1.1 0 1,0 2.2,0a1.1,1.1 0 1,0 -2.2,0M389.8,108.5a1.1,1.1 0 1,0 2.2,0a1.1,1.1 0 1,0 -2.2,0M365.4,83.4a1.1,1.1 0 1,0 2.2,0a1.1,1.1 0 1,0 -2.2,0M393.6,98.2a1.1,1.1 0 1,0 2.2,0a1.1,1.1 0 1,0 -2.2,0M375.8,97.2a1.1,1.1 0 1,0 2.2,0a1.1,1.1 0 1,0 -2.2,0M393.3,101.2a1.1,1.1 0 1,0 2.2,0a1.1,1.1 0 1,0 -2.2,0M378.9,108.0a1.1,1.1 0 1,0 2.2,0a1.1,1.1 0 1,0 -2.2,0M355.6,101.2a1.1,1.1 0 1,0 2.2,0a1.1,1.1 0 1,0 -2.2,0M382.6,86.5a1.1,1.1 0 1,0 2.2,0a1.1,1.1 0 1,0 -2.2,0M355.2,92.9a1.1,1.1 0 1,0 2.2,0a1.1,1.1 0 1,0 -2.2,0M381.8,87.3a1.1,1.1 0 1,0 2.2,0a1.1,1.1 0 1,0 -2.2,0M351.9,98.4a1.1,1.1 0 1,0 2.2,0a1.1,1.1 0 1,0 -2.2,0M387.7,82.0a1.1,1.1 0 1,0 2.2,0a1.1,1.1 0 1,0 -2.2,0M383.3,105.4a1.1,1.1 0 1,0 2.2,0a1.1,1.1 0 1,0 -2.2,0M360.3,119.6a1.1,1.1 0 1,0 2.2,0a1.1,1.1 0 1,0 -2.2,0M353.4,95.5a1.1,1.1 0 1,0 2.2,0a1.1,1.1 0 1,0 -2.2,0M363.7,81.3a1.1,1.1 0 1,0 2.2,0a1.1,1.1 0 1,0 -2.2,0M384.8,87.8a1.1,1.1 0 1,0 2.2,0a1.1,1.1 0 1,0 -2.2,0M382.4,80.3a1.1,1.1 0 1,0 2.2,0a1.1,1.1 0 1,0 -2.2,0M374.7,108.3a1.1,1.1 0 1,0 2.2,0a1.1,1.1 0 1,0 -2.2,0M376.3,106.2a1.1,1.1 0 1,0 2.2,0a1.1,1.1 0 1,0 -2.2,0M371.1,84.0a1.1,1.1 0 1,0 2.2,0a1.1,1.1 0 1,0 -2.2,0M382.5,94.9a1.1,1.1 0 1,0 2.2,0a1.1,1.1 0 1,0 -2.2,0M384.6,114.0a1.1,1.1 0 1,0 2.2,0a1.1,1.1 0 1,0 -2.2,0M375.5,118.7a1.1,1.1 0 1,0 2.2,0a1.1,1.1 0 1,0 -2.2,0M355.4,106.4a1.1,1.1 0 1,0 2.2,0a1.1,1.1 0 1,0 -2.2,0M377.9,105.0a1.1,1.1 0 1,0 2.2,0a1.1,1.1 0 1,0 -2.2,0M374.8,86.3a1.1,1.1 0 1,0 2.2,0a1.1,1.1 0 1,0 -2.2,0M375.0,89.5a1.1,1.1 0 1,0 2.2,0a1.1,1.1 0 1,0 -2.2,0M352.7,99.2a1.1,1.1 0 1,0 2.2,0a1.1,1.1 0 1,0 -2.2,0M372.8,76.6a1.1,1.1 0 1,0 2.2,0a1.1,1.1 0 1,0 -2.2,0M387.1,112.6a1.1,1.1 0 1,0 2.2,0a1.1,1.1 0 1,0 -2.2,0M364.7,101.7a1.1,1.1 0 1,0 2.2,0a1.1,1.1 0 1,0 -2.2,0M369.3,105.6a1.1,1.1 0 1,0 2.2,0a1.1,1.1 0 1,0 -2.2,0M355.3,107.0a1.1,1.1 0 1,0 2.2,0a1.1,1.1 0 1,0 -2.2,0M384.4,82.3a1.1,1.1 0 1,0 2.2,0a1.1,1.1 0 1,0 -2.2,0M367.2,98.8a1.1,1.1 0 1,0 2.2,0a1.1,1.1 0 1,0 -2.2,0M354.0,106.4a1.1,1.1 0 1,0 2.2,0a1.1,1.1 0 1,0 -2.2,0M365.8,111.7a1.1,1.1 0 1,0 2.2,0a1.1,1.1 0 1,0 -2.2,0M372.9,105.0a1.1,1.1 0 1,0 2.2,0a1.1,1.1 0 1,0 -2.2,0M387.5,110.1a1.1,1.1 0 1,0 2.2,0a1.1,1.1 0 1,0 -2.2,0M370.0,110.3a1.1,1.1 0 1,0 2.2,0a1.1,1.1 0 1,0 -2.2,0M352.2,94.3a1.1,1.1 0 1,0 2.2,0a1.1,1.1 0 1,0 -2.2,0M368.3,90.6a1.1,1.1 0 1,0 2.2,0a1.1,1.1 0 1,0 -2.2,0M371.5,95.7a1.1,1.1 0 1,0 2.2,0a1.1,1.1 0 1,0 -2.2,0M370.0,102.3a1.1,1.1 0 1,0 2.2,0a1.1,1.1 0 1,0 -2.2,0M367.9,113.3a1.1,1.1 0 1,0 2.2,0a1.1,1.1 0 1,0 -2.2,0M367.3,113.2a1.1,1.1 0 1,0 2.2,0a1.1,1.1 0 1,0 -2.2,0M368.6,100.0a1.1,1.1 0 1,0 2.2,0a1.1,1.1 0 1,0 -2.2,0M356.5,116.1a1.1,1.1 0 1,0 2.2,0a1.1,1.1 0 1,0 -2.2,0M378.8,94.3a1.1,1.1 0 1,0 2.2,0a1.1,1.1 0 1,0 -2.2,0M350.9,101.8a1.1,1.1 0 1,0 2.2,0a1.1,1.1 0 1,0 -2.2,0M368.8,99.4a1.1,1.1 0 1,0 2.2,0a1.1,1.1 0 1,0 -2.2,0M360.2,117.9a1.1,1.1 0 1,0 2.2,0a1.1,1.1 0 1,0 -2.2,0M357.4,107.5a1.1,1.1 0 1,0 2.2,0a1.1,1.1 0 1,0 -2.2,0" fill="#c9c3df"/>
<path d="M355.4,104.8a1.1,1.1 0 1,0 2.2,0a1.1,1.1 0 1,0 -2.2,0M357.1,108.2a1.1,1.1 0 1,0 2.2,0a1.1,1.1 0 1,0 -2.2,0M380.9,82.0a1.1,1.1 0 1,0 2.2,0a1.1,1.1 0 1,0 -2.2,0M356.9,99.9a1.1,1.1 0 1,0 2.2,0a1.1,1.1 0 1,0 -2.2,0M367.6,82.5a1.1,1.1 0 1,0 2.2,0a1.1,1.1 0 1,0 -2.2,0M375.6,89.9a1.1,1.1 0 1,0 2.2,0a1.1,1.1 0 1,0 -2.2,0M385.6,89.7a1.1,1.1 0 1,0 2.2,0a1.1,1.1 0 1,0 -2.2,0M356.1,103.5a1.1,1.1 0 1,0 2.2,0a1.1,1.1 0 1,0 -2.2,0M383.5,111.2a1.1,1.1 0 1,0 2.2,0a1.1,1.1 0 1,0 -2.2,0M396.6,89.6a1.1,1.1 0 1,0 2.2,0a1.1,1.1 0 1,0 -2.2,0M370.7,88.2a1.1,1.1 0 1,0 2.2,0a1.1,1.1 0 1,0 -2.2,0M356.1,91.3a1.1,1.1 0 1,0 2.2,0a1.1,1.1 0 1,0 -2.2,0M379.6,99.8a1.1,1.1 0 1,0 2.2,0a1.1,1.1 0 1,0 -2.2,0M379.1,89.3a1.1,1.1 0 1,0 2.2,0a1.1,1.1 0 1,0 -2.2,0M373.6,90.7a1.1,1.1 0 1,0 2.2,0a1.1,1.1 0 1,0 -2.2,0M384.4,112.5a1.1,1.1 0 1,0 2.2,0a1.1,1.1 0 1,0 -2.2,0M377.8,99.2a1.1,1.1 0 1,0 2.2,0a1.1,1.1 0 1,0 -2.2,0M368.2,98.4a1.1,1.1 0 1,0 2.2,0a1.1,1.1 0 1,0 -2.2,0M380.3,102.7a1.1,1.1 0 1,0 2.2,0a1.1,1.1 0 1,0 -2.2,0M380.7,116.2a1.1,1.1 0 1,0 2.2,0a1.1,1.1 0 1,0 -2.2,0M361.3,113.8a1.1,1.1 0 1,0 2.2,0a1.1,1.1 0 1,0 -2.2,0M391.0,102.7a1.1,1.1 0 1,0 2.2,0a1.1,1.1 0 1,0 -2.2,0M384.4,100.0a1.1,1.1 0 1,0 2.2,0a1.1,1.1 0 1,0 -2.2,0M371.7,118.3a1.1,1.1 0 1,0 2.2,0a1.1,1.1 0 1,0 -2.2,0M365.5,87.3a1.1,1.1 0 1,0 2.2,0a1.1,1.1 0 1,0 -2.2,0M384.9,85.5a1.1,1.1 0 1,0 2.2,0a1.1,1.1 0 1,0 -2.2,0M357.9,98.0a1.1,1.1 0 1,0 2.2,0a1.1,1.1 0 1,0 -2.2,0M369.3,104.2a1.1,1.1 0 1,0 2.2,0a1.1,1.1 0 1,0 -2.2,0M369.9,115.4a1.1,1.1 0 1,0 2.2,0a1.1,1.1 0 1,0 -2.2,0M377.8,106.9a1.1,1.1 0 1,0 2.2,0a1.1,1.1 0 1,0 -2.2,0M369.5,118.1a1.1,1.1 0 1,0 2.2,0a1.1,1.1 0 1,0 -2.2,0M364.0,84.6a1.1,1.1 0 1,0 2.2,0a1.1,1.1 0 1,0 -2.2,0M355.5,93.7a1.1,1.1 0 1,0 2.2,0a1.1,1.1 0 1,0 -2.2,0M362.2,91.9a1.1,1.1 0 1,0 2.2,0a1.1,1.1 0 1,0 -2.2,0M366.3,80.9a1.1,1.1 0 1,0 2.2,0a1.1,1.1 0 1,0 -2.2,0M389.5,82.5a1.1,1.1 0 1,0 2.2,0a1.1,1.1 0 1,0 -2.2,0M370.5,89.5a1.1,1.1 0 1,0 2.2,0a1.1,1.1 0 1,0 -2.2,0M366.0,113.2a1.1,1.1 0 1,0 2.2,0a1.1,1.1 0 1,0 -2.2,0M397.0,93.4a1.1,1.1 0 1,0 2.2,0a1.1,1.1 0 1,0 -2.2,0M388.1,84.1a1.1,1.1 0 1,0 2.2,0a1.1,1.1 0 1,0 -2.2,0M388.9,98.4a1.1,1.1 0 1,0 2.2,0a1.1,1.1 0 1,0 -2.2,0M361.3,83.2a1.1,1.1 0 1,0 2.2,0a1.1,1.1 0 1,0 -2.2,0M368.6,110.1a1.1,1.1 0 1,0 2.2,0a1.1,1.1 0 1,0 -2.2,0M384.3,103.4a1.1,1.1 0 1,0 2.2,0a1.1,1.1 0 1,0 -2.2,0M369.7,114.5a1.1,1.1 0 1,0 2.2,0a1.1,1.1 0 1,0 -2.2,0M372.8,98.9a1.1,1.1 0 1,0 2.2,0a1.1,1.1 0 1,0 -2.2,0M354.6,113.2a1.1,1.1 0 1,0 2.2,0a1.1,1.1 0 1,0 -2.2,0" fill="#8e7cea"/>
<path d="M373.2,83.7a1.1,1.1 0 1,0 2.2,0a1.1,1.1 0 1,0 -2.2,0M368.6,84.2a1.1,1.1 0 1,0 2.2,0a1.1,1.1 0 1,0 -2.2,0M394.7,103.5a1.1,1.1 0 1,0 2.2,0a1.1,1.1 0 1,0 -2.2,0M376.0,116.8a1.1,1.1 0 1,0 2.2,0a1.1,1.1 0 1,0 -2.2,0M364.0,110.2a1.1,1.1 0 1,0 2.2,0a1.1,1.1 0 1,0 -2.2,0M378.1,86.0a1.1,1.1 0 1,0 2.2,0a1.1,1.1 0 1,0 -2.2,0M384.7,87.3a1.1,1.1 0 1,0 2.2,0a1.1,1.1 0 1,0 -2.2,0M367.7,92.9a1.1,1.1 0 1,0 2.2,0a1.1,1.1 0 1,0 -2.2,0M359.9,95.8a1.1,1.1 0 1,0 2.2,0a1.1,1.1 0 1,0 -2.2,0M363.6,105.2a1.1,1.1 0 1,0 2.2,0a1.1,1.1 0 1,0 -2.2,0M385.6,90.6a1.1,1.1 0 1,0 2.2,0a1.1,1.1 0 1,0 -2.2,0M368.8,91.7a1.1,1.1 0 1,0 2.2,0a1.1,1.1 0 1,0 -2.2,0M366.3,102.8a1.1,1.1 0 1,0 2.2,0a1.1,1.1 0 1,0 -2.2,0M377.7,92.6a1.1,1.1 0 1,0 2.2,0a1.1,1.1 0 1,0 -2.2,0M373.9,114.4a1.1,1.1 0 1,0 2.2,0a1.1,1.1 0 1,0 -2.2,0M365.0,110.4a1.1,1.1 0 1,0 2.2,0a1.1,1.1 0 1,0 -2.2,0M367.4,86.2a1.1,1.1 0 1,0 2.2,0a1.1,1.1 0 1,0 -2.2,0M359.9,113.0a1.1,1.1 0 1,0 2.2,0a1.1,1.1 0 1,0 -2.2,0M374.7,95.1a1.1,1.1 0 1,0 2.2,0a1.1,1.1 0 1,0 -2.2,0M373.6,93.7a1.1,1.1 0 1,0 2.2,0a1.1,1.1 0 1,0 -2.2,0M386.4,95.3a1.1,1.1 0 1,0 2.2,0a1.1,1.1 0 1,0 -2.2,0M367.4,109.0a1.1,1.1 0 1,0 2.2,0a1.1,1.1 0 1,0 -2.2,0M357.8,106.3a1.1,1.1 0 1,0 2.2,0a1.1,1.1 0 1,0 -2.2,0M362.4,85.7a1.1,1.1 0 1,0 2.2,0a1.1,1.1 0 1,0 -2.2,0M365.9,81.2a1.1,1.1 0 1,0 2.2,0a1.1,1.1 0 1,0 -2.2,0M392.9,96.1a1.1,1.1 0 1,0 2.2,0a1.1,1.1 0 1,0 -2.2,0M362.9,117.1a1.1,1.1 0 1,0 2.2,0a1.1,1.1 0 1,0 -2.2,0M384.7,85.5a1.1,1.1 0 1,0 2.2,0a1.1,1.1 0 1,0 -2.2,0M367.0,81.4a1.1,1.1 0 1,0 2.2,0a1.1,1.1 0 1,0 -2.2,0M383.3,104.7a1.1,1.1 0 1,0 2.2,0a1.1,1.1 0 1,0 -2.2,0M384.4,104.6a1.1,1.1 0 1,0 2.2,0a1.1,1.1 0 1,0 -2.2,0M371.0,86.8a1.1,1.1 0 1,0 2.2,0a1.1,1.1 0 1,0 -2.2,0M357.4,93.9a1.1,1.1 0 1,0 2.2,0a1.1,1.1 0 1,0 -2.2,0M369.3,102.8a1.1,1.1 0 1,0 2.2,0a1.1,1.1 0 1,0 -2.2,0M374.3,105.2a1.1,1.1 0 1,0 2.2,0a1.1,1.1 0 1,0 -2.2,0M392.8,85.5a1.1,1.1 0 1,0 2.2,0a1.1,1.1 0 1,0 -2.2,0M371.5,100.2a1.1,1.1 0 1,0 2.2,0a1.1,1.1 0 1,0 -2.2,0M374.7,90.1a1.1,1.1 0 1,0 2.2,0a1.1,1.1 0 1,0 -2.2,0M388.3,109.8a1.1,1.1 0 1,0 2.2,0a1.1,1.1 0 1,0 -2.2,0M351.0,104.3a1.1,1.1 0 1,0 2.2,0a1.1,1.1 0 1,0 -2.2,0M364.3,115.0a1.1,1.1 0 1,0 2.2,0a1.1,1.1 0 1,0 -2.2,0M370.6,91.7a1.1,1.1 0 1,0 2.2,0a1.1,1.1 0 1,0 -2.2,0M376.6,103.9a1.1,1.1 0 1,0 2.2,0a1.1,1.1 0 1,0 -2.2,0" fill="#7760ee"/>
<path d="M364.0,93.5a1.1,1.1 0 1,0 2.2,0a1.1,1.1 0 1,0 -2.2,0M372.8,78.9a1.1,1.1 0 1,0 2.2,0a1.1,1.1 0 1,0 -2.2,0M354.9,114.6a1.1,1.1 0 1,0 2.2,0a1.1,1.1 0 1,0 -2.2,0M375.3,114.9a1.1,1.1 0 1,0 2.2,0a1.1,1.1 0 1,0 -2.2,0M371.0,94.6a1.1,1.1 0 1,0 2.2,0a1.1,1.1 0 1,0 -2.2,0M357.0,96.8a1.1,1.1 0 1,0 2.2,0a1.1,1.1 0 1,0 -2.2,0M352.6,104.0a1.1,1.1 0 1,0 2.2,0a1.1,1.1 0 1,0 -2.2,0M369.2,101.9a1.1,1.1 0 1,0 2.2,0a1.1,1.1 0 1,0 -2.2,0M384.5,91.7a1.1,1.1 0 1,0 2.2,0a1.1,1.1 0 1,0 -2.2,0M382.9,91.6a1.1,1.1 0 1,0 2.2,0a1.1,1.1 0 1,0 -2.2,0M387.6,84.0a1.1,1.1 0 1,0 2.2,0a1.1,1.1 0 1,0 -2.2,0M369.9,101.1a1.1,1.1 0 1,0 2.2,0a1.1,1.1 0 1,0 -2.2,0M361.2,93.4a1.1,1.1 0 1,0 2.2,0a1.1,1.1 0 1,0 -2.2,0M374.5,78.5a1.1,1.1 0 1,0 2.2,0a1.1,1.1 0 1,0 -2.2,0M376.3,81.4a1.1,1.1 0 1,0 2.2,0a1.1,1.1 0 1,0 -2.2,0M370.5,112.3a1.1,1.1 0 1,0 2.2,0a1.1,1.1 0 1,0 -2.2,0M393.1,99.2a1.1,1.1 0 1,0 2.2,0a1.1,1.1 0 1,0 -2.2,0M374.7,90.4a1.1,1.1 0 1,0 2.2,0a1.1,1.1 0 1,0 -2.2,0M390.9,104.7a1.1,1.1 0 1,0 2.2,0a1.1,1.1 0 1,0 -2.2,0M373.5,114.9a1.1,1.1 0 1,0 2.2,0a1.1,1.1 0 1,0 -2.2,0M367.8,79.6a1.1,1.1 0 1,0 2.2,0a1.1,1.1 0 1,0 -2.2,0M373.8,98.1a1.1,1.1 0 1,0 2.2,0a1.1,1.1 0 1,0 -2.2,0M364.1,104.7a1.1,1.1 0 1,0 2.2,0a1.1,1.1 0 1,0 -2.2,0M376.5,90.4a1.1,1.1 0 1,0 2.2,0a1.1,1.1 0 1,0 -2.2,0M363.0,97.9a1.1,1.1 0 1,0 2.2,0a1.1,1.1 0 1,0 -2.2,0M356.9,92.8a1.1,1.1 0 1,0 2.2,0a1.1,1.1 0 1,0 -2.2,0M382.5,88.1a1.1,1.1 0 1,0 2.2,0a1.1,1.1 0 1,0 -2.2,0M370.4,101.8a1.1,1.1 0 1,0 2.2,0a1.1,1.1 0 1,0 -2.2,0M362.2,104.6a1.1,1.1 0 1,0 2.2,0a1.1,1.1 0 1,0 -2.2,0M360.6,96.7a1.1,1.1 0 1,0 2.2,0a1.1,1.1 0 1,0 -2.2,0M363.5,118.8a1.1,1.1 0 1,0 2.2,0a1.1,1.1 0 1,0 -2.2,0M366.4,89.5a1.1,1.1 0 1,0 2.2,0a1.1,1.1 0 1,0 -2.2,0M374.3,98.6a1.1,1.1 0 1,0 2.2,0a1.1,1.1 0 1,0 -2.2,0M394.7,90.7a1.1,1.1 0 1,0 2.2,0a1.1,1.1 0 1,0 -2.2,0M362.4,97.8a1.1,1.1 0 1,0 2.2,0a1.1,1.1 0 1,0 -2.2,0M368.7,117.2a1.1,1.1 0 1,0 2.2,0a1.1,1.1 0 1,0 -2.2,0M372.6,78.7a1.1,1.1 0 1,0 2.2,0a1.1,1.1 0 1,0 -2.2,0M376.7,83.4a1.1,1.1 0 1,0 2.2,0a1.1,1.1 0 1,0 -2.2,0M376.2,81.9a1.1,1.1 0 1,0 2.2,0a1.1,1.1 0 1,0 -2.2,0" fill="#5f44f0"/>
<path d="M101.8,138.1a0.9,0.9 0 1,0 1.8,0a0.9,0.9 0 1,0 -1.8,0M76.6,151.6a0.9,0.9 0 1,0 1.8,0a0.9,0.9 0 1,0 -1.8,0M102.7,142.4a0.9,0.9 0 1,0 1.8,0a0.9,0.9 0 1,0 -1.8,0M54.6,153.1a0.9,0.9 0 1,0 1.8,0a0.9,0.9 0 1,0 -1.8,0M84.6,149.8a0.9,0.9 0 1,0 1.8,0a0.9,0.9 0 1,0 -1.8,0M67.3,151.7a0.9,0.9 0 1,0 1.8,0a0.9,0.9 0 1,0 -1.8,0M88.2,126.5a0.9,0.9 0 1,0 1.8,0a0.9,0.9 0 1,0 -1.8,0M106.4,148.7a0.9,0.9 0 1,0 1.8,0a0.9,0.9 0 1,0 -1.8,0M60.6,152.5a0.9,0.9 0 1,0 1.8,0a0.9,0.9 0 1,0 -1.8,0M88.6,143.4a0.9,0.9 0 1,0 1.8,0a0.9,0.9 0 1,0 -1.8,0M93.0,144.6a0.9,0.9 0 1,0 1.8,0a0.9,0.9 0 1,0 -1.8,0M87.1,140.5a0.9,0.9 0 1,0 1.8,0a0.9,0.9 0 1,0 -1.8,0M93.9,135.5a0.9,0.9 0 1,0 1.8,0a0.9,0.9 0 1,0 -1.8,0M99.5,139.2a0.9,0.9 0 1,0 1.8,0a0.9,0.9 0 1,0 -1.8,0M87.5,133.5a0.9,0.9 0 1,0 1.8,0a0.9,0.9 0 1,0 -1.8,0M90.0,144.6a0.9,0.9 0 1,0 1.8,0a0.9,0.9 0 1,0 -1.8,0M69.8,144.6a0.9,0.9 0 1,0 1.8,0a0.9,0.9 0 1,0 -1.8,0M63.2,144.6a0.9,0.9 0 1,0 1.8,0a0.9,0.9 0 1,0 -1.8,0M57.6,149.4a0.9,0.9 0 1,0 1.8,0a0.9,0.9 0 1,0 -1.8,0" fill="#7a64ea"/>
<path d="M91.9,121.0a0.9,0.9 0 1,0 1.8,0a0.9,0.9 0 1,0 -1.8,0M73.1,158.4a0.9,0.9 0 1,0 1.8,0a0.9,0.9 0 1,0 -1.8,0M100.7,138.1a0.9,0.9 0 1,0 1.8,0a0.9,0.9 0 1,0 -1.8,0M91.4,149.5a0.9,0.9 0 1,0 1.8,0a0.9,0.9 0 1,0 -1.8,0M93.9,131.5a0.9,0.9 0 1,0 1.8,0a0.9,0.9 0 1,0 -1.8,0M87.0,118.5a0.9,0.9 0 1,0 1.8,0a0.9,0.9 0 1,0 -1.8,0M82.2,155.9a0.9,0.9 0 1,0 1.8,0a0.9,0.9 0 1,0 -1.8,0M78.8,144.9a0.9,0.9 0 1,0 1.8,0a0.9,0.9 0 1,0 -1.8,0M64.4,139.8a0.9,0.9 0 1,0 1.8,0a0.9,0.9 0 1,0 -1.8,0M94.0,129.3a0.9,0.9 0 1,0 1.8,0a0.9,0.9 0 1,0 -1.8,0M105.4,150.5a0.9,0.9 0 1,0 1.8,0a0.9,0.9 0 1,0 -1.8,0M87.9,132.8a0.9,0.9 0 1,0 1.8,0a0.9,0.9 0 1,0 -1.8,0M71.7,157.6a0.9,0.9 0 1,0 1.8,0a0.9,0.9 0 1,0 -1.8,0M91.9,132.0a0.9,0.9 0 1,0 1.8,0a0.9,0.9 0 1,0 -1.8,0M99.6,144.1a0.9,0.9 0 1,0 1.8,0a0.9,0.9 0 1,0 -1.8,0M85.1,149.3a0.9,0.9 0 1,0 1.8,0a0.9,0.9 0 1,0 -1.8,0M64.6,141.2a0.9,0.9 0 1,0 1.8,0a0.9,0.9 0 1,0 -1.8,0M69.4,151.5a0.9,0.9 0 1,0 1.8,0a0.9,0.9 0 1,0 -1.8,0M85.5,123.1a0.9,0.9 0 1,0 1.8,0a0.9,0.9 0 1,0 -1.8,0M58.9,153.9a0.9,0.9 0 1,0 1.8,0a0.9,0.9 0 1,0 -1.8,0M99.9,132.4a0.9,0.9 0 1,0 1.8,0a0.9,0.9 0 1,0 -1.8,0M96.8,138.7a0.9,0.9 0 1,0 1.8,0a0.9,0.9 0 1,0 -1.8,0M63.3,142.9a0.9,0.9 0 1,0 1.8,0a0.9,0.9 0 1,0 -1.8,0M84.8,124.6a0.9,0.9 0 1,0 1.8,0a0.9,0.9 0 1,0 -1.8,0M68.4,155.4a0.9,0.9 0 1,0 1.8,0a0.9,0.9 0 1,0 -1.8,0M86.0,119.6a0.9,0.9 0 1,0 1.8,0a0.9,0.9 0 1,0 -1.8,0M100.1,143.1a0.9,0.9 0 1,0 1.8,0a0.9,0.9 0 1,0 -1.8,0" fill="#8a76e8"/>
<path d="M84.8,137.9a0.9,0.9 0 1,0 1.8,0a0.9,0.9 0 1,0 -1.8,0M91.3,152.8a0.9,0.9 0 1,0 1.8,0a0.9,0.9 0 1,0 -1.8,0M88.0,151.2a0.9,0.9 0 1,0 1.8,0a0.9,0.9 0 1,0 -1.8,0M89.5,158.1a0.9,0.9 0 1,0 1.8,0a0.9,0.9 0 1,0 -1.8,0M48.8,151.6a0.9,0.9 0 1,0 1.8,0a0.9,0.9 0 1,0 -1.8,0M86.7,132.0a0.9,0.9 0 1,0 1.8,0a0.9,0.9 0 1,0 -1.8,0M59.0,141.1a0.9,0.9 0 1,0 1.8,0a0.9,0.9 0 1,0 -1.8,0M90.9,124.4a0.9,0.9 0 1,0 1.8,0a0.9,0.9 0 1,0 -1.8,0M52.8,154.0a0.9,0.9 0 1,0 1.8,0a0.9,0.9 0 1,0 -1.8,0M77.8,151.7a0.9,0.9 0 1,0 1.8,0a0.9,0.9 0 1,0 -1.8,0M72.2,154.7a0.9,0.9 0 1,0 1.8,0a0.9,0.9 0 1,0 -1.8,0M67.1,150.2a0.9,0.9 0 1,0 1.8,0a0.9,0.9 0 1,0 -1.8,0M94.8,147.2a0.9,0.9 0 1,0 1.8,0a0.9,0.9 0 1,0 -1.8,0M56.4,145.6a0.9,0.9 0 1,0 1.8,0a0.9,0.9 0 1,0 -1.8,0M91.5,137.1a0.9,0.9 0 1,0 1.8,0a0.9,0.9 0 1,0 -1.8,0M66.8,147.9a0.9,0.9 0 1,0 1.8,0a0.9,0.9 0 1,0 -1.8,0M106.9,144.6a0.9,0.9 0 1,0 1.8,0a0.9,0.9 0 1,0 -1.8,0M81.4,153.2a0.9,0.9 0 1,0 1.8,0a0.9,0.9 0 1,0 -1.8,0M90.6,125.4a0.9,0.9 0 1,0 1.8,0a0.9,0.9 0 1,0 -1.8,0M87.3,155.9a0.9,0.9 0 1,0 1.8,0a0.9,0.9 0 1,0 -1.8,0M85.7,117.9a0.9,0.9 0 1,0 1.8,0a0.9,0.9 0 1,0 -1.8,0M55.8,145.4a0.9,0.9 0 1,0 1.8,0a0.9,0.9 0 1,0 -1.8,0M72.6,149.2a0.9,0.9 0 1,0 1.8,0a0.9,0.9 0 1,0 -1.8,0M98.4,142.4a0.9,0.9 0 1,0 1.8,0a0.9,0.9 0 1,0 -1.8,0" fill="#9a88e6"/>
<path d="M380.8,143.0a0.9,0.9 0 1,0 1.8,0a0.9,0.9 0 1,0 -1.8,0M371.2,160.0a0.9,0.9 0 1,0 1.8,0a0.9,0.9 0 1,0 -1.8,0M385.0,159.2a0.9,0.9 0 1,0 1.8,0a0.9,0.9 0 1,0 -1.8,0M379.6,149.4a0.9,0.9 0 1,0 1.8,0a0.9,0.9 0 1,0 -1.8,0M375.7,144.7a0.9,0.9 0 1,0 1.8,0a0.9,0.9 0 1,0 -1.8,0M392.5,140.8a0.9,0.9 0 1,0 1.8,0a0.9,0.9 0 1,0 -1.8,0M376.6,137.5a0.9,0.9 0 1,0 1.8,0a0.9,0.9 0 1,0 -1.8,0M390.2,120.0a0.9,0.9 0 1,0 1.8,0a0.9,0.9 0 1,0 -1.8,0M366.3,143.7a0.9,0.9 0 1,0 1.8,0a0.9,0.9 0 1,0 -1.8,0M377.4,149.3a0.9,0.9 0 1,0 1.8,0a0.9,0.9 0 1,0 -1.8,0M352.4,152.7a0.9,0.9 0 1,0 1.8,0a0.9,0.9 0 1,0 -1.8,0M354.4,154.8a0.9,0.9 0 1,0 1.8,0a0.9,0.9 0 1,0 -1.8,0M374.7,139.1a0.9,0.9 0 1,0 1.8,0a0.9,0.9 0 1,0 -1.8,0M366.7,156.5a0.9,0.9 0 1,0 1.8,0a0.9,0.9 0 1,0 -1.8,0M361.1,155.6a0.9,0.9 0 1,0 1.8,0a0.9,0.9 0 1,0 -1.8,0M362.7,157.5a0.9,0.9 0 1,0 1.8,0a0.9,0.9 0 1,0 -1.8,0M351.9,154.4a0.9,0.9 0 1,0 1.8,0a0.9,0.9 0 1,0 -1.8,0M390.6,120.9a0.9,0.9 0 1,0 1.8,0a0.9,0.9 0 1,0 -1.8,0M366.0,156.7a0.9,0.9 0 1,0 1.8,0a0.9,0.9 0 1,0 -1.8,0M372.8,154.6a0.9,0.9 0 1,0 1.8,0a0.9,0.9 0 1,0 -1.8,0M399.5,134.1a0.9,0.9 0 1,0 1.8,0a0.9,0.9 0 1,0 -1.8,0M364.1,142.8a0.9,0.9 0 1,0 1.8,0a0.9,0.9 0 1,0 -1.8,0M374.5,159.9a0.9,0.9 0 1,0 1.8,0a0.9,0.9 0 1,0 -1.8,0M399.0,134.6a0.9,0.9 0 1,0 1.8,0a0.9,0.9 0 1,0 -1.8,0M362.9,149.9a0.9,0.9 0 1,0 1.8,0a0.9,0.9 0 1,0 -1.8,0M397.9,133.8a0.9,0.9 0 1,0 1.8,0a0.9,0.9 0 1,0 -1.8,0M362.5,153.0a0.9,0.9 0 1,0 1.8,0a0.9,0.9 0 1,0 -1.8,0M386.3,160.9a0.9,0.9 0 1,0 1.8,0a0.9,0.9 0 1,0 -1.8,0M381.4,145.5a0.9,0.9 0 1,0 1.8,0a0.9,0.9 0 1,0 -1.8,0M389.9,121.0a0.9,0.9 0 1,0 1.8,0a0.9,0.9 0 1,0 -1.8,0M401.0,132.9a0.9,0.9 0 1,0 1.8,0a0.9,0.9 0 1,0 -1.8,0M366.8,150.3a0.9,0.9 0 1,0 1.8,0a0.9,0.9 0 1,0 -1.8,0M366.3,142.9a0.9,0.9 0 1,0 1.8,0a0.9,0.9 0 1,0 -1.8,0M365.9,149.2a0.9,0.9 0 1,0 1.8,0a0.9,0.9 0 1,0 -1.8,0" fill="#9a88e6"/>
<path d="M389.5,121.9a0.9,0.9 0 1,0 1.8,0a0.9,0.9 0 1,0 -1.8,0M389.1,121.0a0.9,0.9 0 1,0 1.8,0a0.9,0.9 0 1,0 -1.8,0M370.1,147.0a0.9,0.9 0 1,0 1.8,0a0.9,0.9 0 1,0 -1.8,0M374.2,139.7a0.9,0.9 0 1,0 1.8,0a0.9,0.9 0 1,0 -1.8,0M392.9,155.9a0.9,0.9 0 1,0 1.8,0a0.9,0.9 0 1,0 -1.8,0M361.5,153.7a0.9,0.9 0 1,0 1.8,0a0.9,0.9 0 1,0 -1.8,0M390.9,155.2a0.9,0.9 0 1,0 1.8,0a0.9,0.9 0 1,0 -1.8,0M368.9,144.3a0.9,0.9 0 1,0 1.8,0a0.9,0.9 0 1,0 -1.8,0M387.1,140.9a0.9,0.9 0 1,0 1.8,0a0.9,0.9 0 1,0 -1.8,0M372.6,159.3a0.9,0.9 0 1,0 1.8,0a0.9,0.9 0 1,0 -1.8,0M358.0,153.6a0.9,0.9 0 1,0 1.8,0a0.9,0.9 0 1,0 -1.8,0M400.8,133.6a0.9,0.9 0 1,0 1.8,0a0.9,0.9 0 1,0 -1.8,0M385.6,137.5a0.9,0.9 0 1,0 1.8,0a0.9,0.9 0 1,0 -1.8,0M359.0,152.9a0.9,0.9 0 1,0 1.8,0a0.9,0.9 0 1,0 -1.8,0M385.7,153.4a0.9,0.9 0 1,0 1.8,0a0.9,0.9 0 1,0 -1.8,0M365.9,150.7a0.9,0.9 0 1,0 1.8,0a0.9,0.9 0 1,0 -1.8,0M378.6,145.5a0.9,0.9 0 1,0 1.8,0a0.9,0.9 0 1,0 -1.8,0M367.7,153.5a0.9,0.9 0 1,0 1.8,0a0.9,0.9 0 1,0 -1.8,0M390.2,113.9a0.9,0.9 0 1,0 1.8,0a0.9,0.9 0 1,0 -1.8,0M362.1,149.2a0.9,0.9 0 1,0 1.8,0a0.9,0.9 0 1,0 -1.8,0M376.2,142.3a0.9,0.9 0 1,0 1.8,0a0.9,0.9 0 1,0 -1.8,0M370.2,143.5a0.9,0.9 0 1,0 1.8,0a0.9,0.9 0 1,0 -1.8,0M398.0,131.2a0.9,0.9 0 1,0 1.8,0a0.9,0.9 0 1,0 -1.8,0M354.1,155.7a0.9,0.9 0 1,0 1.8,0a0.9,0.9 0 1,0 -1.8,0M389.4,138.3a0.9,0.9 0 1,0 1.8,0a0.9,0.9 0 1,0 -1.8,0M352.6,154.3a0.9,0.9 0 1,0 1.8,0a0.9,0.9 0 1,0 -1.8,0M383.3,147.6a0.9,0.9 0 1,0 1.8,0a0.9,0.9 0 1,0 -1.8,0" fill="#8a76e8"/>
<path d="M388.5,160.2a0.9,0.9 0 1,0 1.8,0a0.9,0.9 0 1,0 -1.8,0M379.0,140.6a0.9,0.9 0 1,0 1.8,0a0.9,0.9 0 1,0 -1.8,0M390.4,143.0a0.9,0.9 0 1,0 1.8,0a0.9,0.9 0 1,0 -1.8,0M390.9,141.8a0.9,0.9 0 1,0 1.8,0a0.9,0.9 0 1,0 -1.8,0M390.9,126.2a0.9,0.9 0 1,0 1.8,0a0.9,0.9 0 1,0 -1.8,0M365.0,151.2a0.9,0.9 0 1,0 1.8,0a0.9,0.9 0 1,0 -1.8,0M370.2,145.5a0.9,0.9 0 1,0 1.8,0a0.9,0.9 0 1,0 -1.8,0M385.8,142.9a0.9,0.9 0 1,0 1.8,0a0.9,0.9 0 1,0 -1.8,0M359.8,147.4a0.9,0.9 0 1,0 1.8,0a0.9,0.9 0 1,0 -1.8,0M356.6,149.6a0.9,0.9 0 1,0 1.8,0a0.9,0.9 0 1,0 -1.8,0M402.3,139.8a0.9,0.9 0 1,0 1.8,0a0.9,0.9 0 1,0 -1.8,0M395.9,149.5a0.9,0.9 0 1,0 1.8,0a0.9,0.9 0 1,0 -1.8,0M389.4,140.5a0.9,0.9 0 1,0 1.8,0a0.9,0.9 0 1,0 -1.8,0M376.9,139.9a0.9,0.9 0 1,0 1.8,0a0.9,0.9 0 1,0 -1.8,0M364.1,157.5a0.9,0.9 0 1,0 1.8,0a0.9,0.9 0 1,0 -1.8,0M374.2,154.8a0.9,0.9 0 1,0 1.8,0a0.9,0.9 0 1,0 -1.8,0M401.4,132.2a0.9,0.9 0 1,0 1.8,0a0.9,0.9 0 1,0 -1.8,0M389.3,112.2a0.9,0.9 0 1,0 1.8,0a0.9,0.9 0 1,0 -1.8,0M368.3,159.9a0.9,0.9 0 1,0 1.8,0a0.9,0.9 0 1,0 -1.8,0M393.7,128.9a0.9,0.9 0 1,0 1.8,0a0.9,0.9 0 1,0 -1.8,0M373.4,144.7a0.9,0.9 0 1,0 1.8,0a0.9,0.9 0 1,0 -1.8,0M375.2,143.4a0.9,0.9 0 1,0 1.8,0a0.9,0.9 0 1,0 -1.8,0M378.2,141.6a0.9,0.9 0 1,0 1.8,0a0.9,0.9 0 1,0 -1.8,0M366.2,160.9a0.9,0.9 0 1,0 1.8,0a0.9,0.9 0 1,0 -1.8,0M390.0,128.6a0.9,0.9 0 1,0 1.8,0a0.9,0.9 0 1,0 -1.8,0M387.3,154.8a0.9,0.9 0 1,0 1.8,0a0.9,0.9 0 1,0 -1.8,0M402.7,142.9a0.9,0.9 0 1,0 1.8,0a0.9,0.9 0 1,0 -1.8,0M390.0,116.0a0.9,0.9 0 1,0 1.8,0a0.9,0.9 0 1,0 -1.8,0M374.3,148.7a0.9,0.9 0 1,0 1.8,0a0.9,0.9 0 1,0 -1.8,0" fill="#7a64ea"/>
<path d="M82.1,178.6a0.9,0.9 0 1,0 1.8,0a0.9,0.9 0 1,0 -1.8,0M23.1,190.2a0.9,0.9 0 1,0 1.8,0a0.9,0.9 0 1,0 -1.8,0M78.0,174.6a0.9,0.9 0 1,0 1.8,0a0.9,0.9 0 1,0 -1.8,0M58.7,181.3a0.9,0.9 0 1,0 1.8,0a0.9,0.9 0 1,0 -1.8,0M74.7,171.1a0.9,0.9 0 1,0 1.8,0a0.9,0.9 0 1,0 -1.8,0M74.1,191.2a0.9,0.9 0 1,0 1.8,0a0.9,0.9 0 1,0 -1.8,0M71.7,193.3a0.9,0.9 0 1,0 1.8,0a0.9,0.9 0 1,0 -1.8,0M45.0,196.0a0.9,0.9 0 1,0 1.8,0a0.9,0.9 0 1,0 -1.8,0M68.5,192.9a0.9,0.9 0 1,0 1.8,0a0.9,0.9 0 1,0 -1.8,0M52.9,184.6a0.9,0.9 0 1,0 1.8,0a0.9,0.9 0 1,0 -1.8,0M61.3,181.6a0.9,0.9 0 1,0 1.8,0a0.9,0.9 0 1,0 -1.8,0M73.7,182.0a0.9,0.9 0 1,0 1.8,0a0.9,0.9 0 1,0 -1.8,0M75.4,180.2a0.9,0.9 0 1,0 1.8,0a0.9,0.9 0 1,0 -1.8,0M22.8,191.0a0.9,0.9 0 1,0 1.8,0a0.9,0.9 0 1,0 -1.8,0M66.3,213.6a0.9,0.9 0 1,0 1.8,0a0.9,0.9 0 1,0 -1.8,0M61.0,217.0a0.9,0.9 0 1,0 1.8,0a0.9,0.9 0 1,0 -1.8,0M72.6,183.4a0.9,0.9 0 1,0 1.8,0a0.9,0.9 0 1,0 -1.8,0M57.1,166.0a0.9,0.9 0 1,0 1.8,0a0.9,0.9 0 1,0 -1.8,0M52.7,175.2a0.9,0.9 0 1,0 1.8,0a0.9,0.9 0 1,0 -1.8,0M60.7,208.0a0.9,0.9 0 1,0 1.8,0a0.9,0.9 0 1,0 -1.8,0M90.2,189.8a0.9,0.9 0 1,0 1.8,0a0.9,0.9 0 1,0 -1.8,0" fill="#ffffff"/>
<path d="M61.1,168.2a0.9,0.9 0 1,0 1.8,0a0.9,0.9 0 1,0 -1.8,0M78.8,165.1a0.9,0.9 0 1,0 1.8,0a0.9,0.9 0 1,0 -1.8,0M30.5,203.6a0.9,0.9 0 1,0 1.8,0a0.9,0.9 0 1,0 -1.8,0M84.1,193.9a0.9,0.9 0 1,0 1.8,0a0.9,0.9 0 1,0 -1.8,0M43.3,209.5a0.9,0.9 0 1,0 1.8,0a0.9,0.9 0 1,0 -1.8,0M50.7,175.9a0.9,0.9 0 1,0 1.8,0a0.9,0.9 0 1,0 -1.8,0M58.5,165.8a0.9,0.9 0 1,0 1.8,0a0.9,0.9 0 1,0 -1.8,0M52.1,204.3a0.9,0.9 0 1,0 1.8,0a0.9,0.9 0 1,0 -1.8,0" fill="#b0a4e4"/>
<path d="M43.0,196.1a0.9,0.9 0 1,0 1.8,0a0.9,0.9 0 1,0 -1.8,0M80.2,191.3a0.9,0.9 0 1,0 1.8,0a0.9,0.9 0 1,0 -1.8,0M71.7,210.7a0.9,0.9 0 1,0 1.8,0a0.9,0.9 0 1,0 -1.8,0M46.2,171.7a0.9,0.9 0 1,0 1.8,0a0.9,0.9 0 1,0 -1.8,0M31.4,188.1a0.9,0.9 0 1,0 1.8,0a0.9,0.9 0 1,0 -1.8,0M39.5,181.4a0.9,0.9 0 1,0 1.8,0a0.9,0.9 0 1,0 -1.8,0M47.5,217.6a0.9,0.9 0 1,0 1.8,0a0.9,0.9 0 1,0 -1.8,0M43.7,175.3a0.9,0.9 0 1,0 1.8,0a0.9,0.9 0 1,0 -1.8,0M69.0,213.9a0.9,0.9 0 1,0 1.8,0a0.9,0.9 0 1,0 -1.8,0M15.8,186.1a0.9,0.9 0 1,0 1.8,0a0.9,0.9 0 1,0 -1.8,0M51.7,207.3a0.9,0.9 0 1,0 1.8,0a0.9,0.9 0 1,0 -1.8,0" fill="#9a88e6"/>
<path d="M356.1,164.6a0.9,0.9 0 1,0 1.8,0a0.9,0.9 0 1,0 -1.8,0M322.0,197.6a0.9,0.9 0 1,0 1.8,0a0.9,0.9 0 1,0 -1.8,0M318.4,188.1a0.9,0.9 0 1,0 1.8,0a0.9,0.9 0 1,0 -1.8,0M356.6,197.8a0.9,0.9 0 1,0 1.8,0a0.9,0.9 0 1,0 -1.8,0M320.3,187.0a0.9,0.9 0 1,0 1.8,0a0.9,0.9 0 1,0 -1.8,0M337.4,204.8a0.9,0.9 0 1,0 1.8,0a0.9,0.9 0 1,0 -1.8,0M337.1,200.8a0.9,0.9 0 1,0 1.8,0a0.9,0.9 0 1,0 -1.8,0M370.6,174.3a0.9,0.9 0 1,0 1.8,0a0.9,0.9 0 1,0 -1.8,0M365.4,216.7a0.9,0.9 0 1,0 1.8,0a0.9,0.9 0 1,0 -1.8,0M338.5,170.3a0.9,0.9 0 1,0 1.8,0a0.9,0.9 0 1,0 -1.8,0M356.0,195.3a0.9,0.9 0 1,0 1.8,0a0.9,0.9 0 1,0 -1.8,0M354.4,214.0a0.9,0.9 0 1,0 1.8,0a0.9,0.9 0 1,0 -1.8,0M353.2,171.7a0.9,0.9 0 1,0 1.8,0a0.9,0.9 0 1,0 -1.8,0M391.5,189.9a0.9,0.9 0 1,0 1.8,0a0.9,0.9 0 1,0 -1.8,0M350.2,165.8a0.9,0.9 0 1,0 1.8,0a0.9,0.9 0 1,0 -1.8,0M370.2,214.0a0.9,0.9 0 1,0 1.8,0a0.9,0.9 0 1,0 -1.8,0M360.8,178.4a0.9,0.9 0 1,0 1.8,0a0.9,0.9 0 1,0 -1.8,0M328.0,181.8a0.9,0.9 0 1,0 1.8,0a0.9,0.9 0 1,0 -1.8,0M351.6,192.1a0.9,0.9 0 1,0 1.8,0a0.9,0.9 0 1,0 -1.8,0M377.9,178.0a0.9,0.9 0 1,0 1.8,0a0.9,0.9 0 1,0 -1.8,0M382.2,180.7a0.9,0.9 0 1,0 1.8,0a0.9,0.9 0 1,0 -1.8,0M385.5,170.4a0.9,0.9 0 1,0 1.8,0a0.9,0.9 0 1,0 -1.8,0M365.3,167.8a0.9,0.9 0 1,0 1.8,0a0.9,0.9 0 1,0 -1.8,0" fill="#ffffff"/>
<path d="M331.9,169.4a0.9,0.9 0 1,0 1.8,0a0.9,0.9 0 1,0 -1.8,0M358.4,191.2a0.9,0.9 0 1,0 1.8,0a0.9,0.9 0 1,0 -1.8,0M350.9,179.4a0.9,0.9 0 1,0 1.8,0a0.9,0.9 0 1,0 -1.8,0M382.1,176.3a0.9,0.9 0 1,0 1.8,0a0.9,0.9 0 1,0 -1.8,0M330.4,212.8a0.9,0.9 0 1,0 1.8,0a0.9,0.9 0 1,0 -1.8,0M345.7,205.8a0.9,0.9 0 1,0 1.8,0a0.9,0.9 0 1,0 -1.8,0M380.1,180.8a0.9,0.9 0 1,0 1.8,0a0.9,0.9 0 1,0 -1.8,0" fill="#9a88e6"/>
<path d="M324.3,182.8a0.9,0.9 0 1,0 1.8,0a0.9,0.9 0 1,0 -1.8,0M344.6,209.1a0.9,0.9 0 1,0 1.8,0a0.9,0.9 0 1,0 -1.8,0M345.2,167.6a0.9,0.9 0 1,0 1.8,0a0.9,0.9 0 1,0 -1.8,0M356.9,197.2a0.9,0.9 0 1,0 1.8,0a0.9,0.9 0 1,0 -1.8,0M337.4,191.5a0.9,0.9 0 1,0 1.8,0a0.9,0.9 0 1,0 -1.8,0M332.1,190.1a0.9,0.9 0 1,0 1.8,0a0.9,0.9 0 1,0 -1.8,0M351.9,186.8a0.9,0.9 0 1,0 1.8,0a0.9,0.9 0 1,0 -1.8,0M333.4,182.0a0.9,0.9 0 1,0 1.8,0a0.9,0.9 0 1,0 -1.8,0M330.3,178.0a0.9,0.9 0 1,0 1.8,0a0.9,0.9 0 1,0 -1.8,0M356.4,192.5a0.9,0.9 0 1,0 1.8,0a0.9,0.9 0 1,0 -1.8,0" fill="#b0a4e4"/>
<path d="M268.3,130.6a1.0,1.0 0 1,0 2.0,0a1.0,1.0 0 1,0 -2.0,0M255.7,143.6a1.0,1.0 0 1,0 2.0,0a1.0,1.0 0 1,0 -2.0,0M246.2,120.8a1.0,1.0 0 1,0 2.0,0a1.0,1.0 0 1,0 -2.0,0M252.1,135.1a1.0,1.0 0 1,0 2.0,0a1.0,1.0 0 1,0 -2.0,0M274.2,130.4a1.0,1.0 0 1,0 2.0,0a1.0,1.0 0 1,0 -2.0,0" fill="#7a64ea"/>
<path d="M250.8,131.7a1.0,1.0 0 1,0 2.0,0a1.0,1.0 0 1,0 -2.0,0M248.0,137.1a1.0,1.0 0 1,0 2.0,0a1.0,1.0 0 1,0 -2.0,0M245.3,121.8a1.0,1.0 0 1,0 2.0,0a1.0,1.0 0 1,0 -2.0,0M272.8,128.9a1.0,1.0 0 1,0 2.0,0a1.0,1.0 0 1,0 -2.0,0M272.0,116.9a1.0,1.0 0 1,0 2.0,0a1.0,1.0 0 1,0 -2.0,0M260.0,124.6a1.0,1.0 0 1,0 2.0,0a1.0,1.0 0 1,0 -2.0,0M260.5,123.5a1.0,1.0 0 1,0 2.0,0a1.0,1.0 0 1,0 -2.0,0M267.5,120.2a1.0,1.0 0 1,0 2.0,0a1.0,1.0 0 1,0 -2.0,0M269.2,123.5a1.0,1.0 0 1,0 2.0,0a1.0,1.0 0 1,0 -2.0,0" fill="#9a88e6"/>
<path d="M550.8,135.2a1.0,1.0 0 1,0 2.0,0a1.0,1.0 0 1,0 -2.0,0M559.8,121.6a1.0,1.0 0 1,0 2.0,0a1.0,1.0 0 1,0 -2.0,0M568.9,132.1a1.0,1.0 0 1,0 2.0,0a1.0,1.0 0 1,0 -2.0,0M561.7,126.1a1.0,1.0 0 1,0 2.0,0a1.0,1.0 0 1,0 -2.0,0M540.3,128.8a1.0,1.0 0 1,0 2.0,0a1.0,1.0 0 1,0 -2.0,0" fill="#9a88e6"/>
<path d="M565.5,135.9a1.0,1.0 0 1,0 2.0,0a1.0,1.0 0 1,0 -2.0,0M569.4,121.5a1.0,1.0 0 1,0 2.0,0a1.0,1.0 0 1,0 -2.0,0M566.3,116.0a1.0,1.0 0 1,0 2.0,0a1.0,1.0 0 1,0 -2.0,0M575.0,123.5a1.0,1.0 0 1,0 2.0,0a1.0,1.0 0 1,0 -2.0,0M539.2,130.6a1.0,1.0 0 1,0 2.0,0a1.0,1.0 0 1,0 -2.0,0M573.8,126.6a1.0,1.0 0 1,0 2.0,0a1.0,1.0 0 1,0 -2.0,0M563.8,121.9a1.0,1.0 0 1,0 2.0,0a1.0,1.0 0 1,0 -2.0,0M562.0,116.8a1.0,1.0 0 1,0 2.0,0a1.0,1.0 0 1,0 -2.0,0M552.9,130.5a1.0,1.0 0 1,0 2.0,0a1.0,1.0 0 1,0 -2.0,0M549.4,135.4a1.0,1.0 0 1,0 2.0,0a1.0,1.0 0 1,0 -2.0,0" fill="#7a64ea"/>
<path d="M547.5,118.3a1.0,1.0 0 1,0 2.0,0a1.0,1.0 0 1,0 -2.0,0M561.0,139.2a1.0,1.0 0 1,0 2.0,0a1.0,1.0 0 1,0 -2.0,0M541.4,128.6a1.0,1.0 0 1,0 2.0,0a1.0,1.0 0 1,0 -2.0,0M570.9,125.8a1.0,1.0 0 1,0 2.0,0a1.0,1.0 0 1,0 -2.0,0M566.7,129.9a1.0,1.0 0 1,0 2.0,0a1.0,1.0 0 1,0 -2.0,0M546.8,128.9a1.0,1.0 0 1,0 2.0,0a1.0,1.0 0 1,0 -2.0,0M557.2,116.8a1.0,1.0 0 1,0 2.0,0a1.0,1.0 0 1,0 -2.0,0" fill="#ffffff"/>
<path d="M280.4,230.9a1.0,1.0 0 1,0 2.0,0a1.0,1.0 0 1,0 -2.0,0M279.3,231.2a1.0,1.0 0 1,0 2.0,0a1.0,1.0 0 1,0 -2.0,0M277.3,232.4a1.0,1.0 0 1,0 2.0,0a1.0,1.0 0 1,0 -2.0,0M278.3,232.3a1.0,1.0 0 1,0 2.0,0a1.0,1.0 0 1,0 -2.0,0M263.9,232.6a1.0,1.0 0 1,0 2.0,0a1.0,1.0 0 1,0 -2.0,0M268.2,235.5a1.0,1.0 0 1,0 2.0,0a1.0,1.0 0 1,0 -2.0,0" fill="#7a64ea"/>
<path d="M274.3,229.3a1.0,1.0 0 1,0 2.0,0a1.0,1.0 0 1,0 -2.0,0M274.7,229.3a1.0,1.0 0 1,0 2.0,0a1.0,1.0 0 1,0 -2.0,0M267.7,231.6a1.0,1.0 0 1,0 2.0,0a1.0,1.0 0 1,0 -2.0,0M263.9,233.5a1.0,1.0 0 1,0 2.0,0a1.0,1.0 0 1,0 -2.0,0" fill="#9a88e6"/>
<path d="M575.4,235.8a1.0,1.0 0 1,0 2.0,0a1.0,1.0 0 1,0 -2.0,0M581.9,231.3a1.0,1.0 0 1,0 2.0,0a1.0,1.0 0 1,0 -2.0,0M572.4,234.1a1.0,1.0 0 1,0 2.0,0a1.0,1.0 0 1,0 -2.0,0M574.9,235.9a1.0,1.0 0 1,0 2.0,0a1.0,1.0 0 1,0 -2.0,0M579.9,235.5a1.0,1.0 0 1,0 2.0,0a1.0,1.0 0 1,0 -2.0,0M574.5,231.6a1.0,1.0 0 1,0 2.0,0a1.0,1.0 0 1,0 -2.0,0M575.0,236.9a1.0,1.0 0 1,0 2.0,0a1.0,1.0 0 1,0 -2.0,0M584.9,233.1a1.0,1.0 0 1,0 2.0,0a1.0,1.0 0 1,0 -2.0,0" fill="#9a88e6"/>
<path d="M569.7,230.3a1.0,1.0 0 1,0 2.0,0a1.0,1.0 0 1,0 -2.0,0M570.7,230.6a1.0,1.0 0 1,0 2.0,0a1.0,1.0 0 1,0 -2.0,0M575.9,228.7a1.0,1.0 0 1,0 2.0,0a1.0,1.0 0 1,0 -2.0,0M583.2,233.5a1.0,1.0 0 1,0 2.0,0a1.0,1.0 0 1,0 -2.0,0" fill="#7a64ea"/>
<path d="M186.1,214.3a1.0,1.0 0 1,0 2.0,0a1.0,1.0 0 1,0 -2.0,0M184.1,208.0a1.0,1.0 0 1,0 2.0,0a1.0,1.0 0 1,0 -2.0,0M195.9,205.0a1.0,1.0 0 1,0 2.0,0a1.0,1.0 0 1,0 -2.0,0M204.0,214.0a1.0,1.0 0 1,0 2.0,0a1.0,1.0 0 1,0 -2.0,0M219.7,213.4a1.0,1.0 0 1,0 2.0,0a1.0,1.0 0 1,0 -2.0,0M202.8,197.7a1.0,1.0 0 1,0 2.0,0a1.0,1.0 0 1,0 -2.0,0" fill="#9a88e6"/>
<path d="M214.0,214.6a1.0,1.0 0 1,0 2.0,0a1.0,1.0 0 1,0 -2.0,0M205.7,233.7a1.0,1.0 0 1,0 2.0,0a1.0,1.0 0 1,0 -2.0,0M212.3,222.4a1.0,1.0 0 1,0 2.0,0a1.0,1.0 0 1,0 -2.0,0M194.1,207.6a1.0,1.0 0 1,0 2.0,0a1.0,1.0 0 1,0 -2.0,0M190.9,224.5a1.0,1.0 0 1,0 2.0,0a1.0,1.0 0 1,0 -2.0,0M211.7,211.5a1.0,1.0 0 1,0 2.0,0a1.0,1.0 0 1,0 -2.0,0M209.1,230.4a1.0,1.0 0 1,0 2.0,0a1.0,1.0 0 1,0 -2.0,0M188.6,207.9a1.0,1.0 0 1,0 2.0,0a1.0,1.0 0 1,0 -2.0,0M215.9,230.3a1.0,1.0 0 1,0 2.0,0a1.0,1.0 0 1,0 -2.0,0M214.4,230.6a1.0,1.0 0 1,0 2.0,0a1.0,1.0 0 1,0 -2.0,0M202.5,226.8a1.0,1.0 0 1,0 2.0,0a1.0,1.0 0 1,0 -2.0,0M191.0,202.6a1.0,1.0 0 1,0 2.0,0a1.0,1.0 0 1,0 -2.0,0M192.4,202.1a1.0,1.0 0 1,0 2.0,0a1.0,1.0 0 1,0 -2.0,0M221.6,222.4a1.0,1.0 0 1,0 2.0,0a1.0,1.0 0 1,0 -2.0,0M204.9,217.3a1.0,1.0 0 1,0 2.0,0a1.0,1.0 0 1,0 -2.0,0M214.7,216.3a1.0,1.0 0 1,0 2.0,0a1.0,1.0 0 1,0 -2.0,0M190.8,216.5a1.0,1.0 0 1,0 2.0,0a1.0,1.0 0 1,0 -2.0,0M208.1,206.5a1.0,1.0 0 1,0 2.0,0a1.0,1.0 0 1,0 -2.0,0M219.0,212.3a1.0,1.0 0 1,0 2.0,0a1.0,1.0 0 1,0 -2.0,0M199.0,235.5a1.0,1.0 0 1,0 2.0,0a1.0,1.0 0 1,0 -2.0,0M201.7,217.7a1.0,1.0 0 1,0 2.0,0a1.0,1.0 0 1,0 -2.0,0M188.3,215.2a1.0,1.0 0 1,0 2.0,0a1.0,1.0 0 1,0 -2.0,0M216.6,238.6a1.0,1.0 0 1,0 2.0,0a1.0,1.0 0 1,0 -2.0,0M186.6,213.9a1.0,1.0 0 1,0 2.0,0a1.0,1.0 0 1,0 -2.0,0" fill="#ffffff"/>
<path d="M519.1,241.6a1.0,1.0 0 1,0 2.0,0a1.0,1.0 0 1,0 -2.0,0M497.1,222.4a1.0,1.0 0 1,0 2.0,0a1.0,1.0 0 1,0 -2.0,0M521.7,203.1a1.0,1.0 0 1,0 2.0,0a1.0,1.0 0 1,0 -2.0,0M514.4,203.7a1.0,1.0 0 1,0 2.0,0a1.0,1.0 0 1,0 -2.0,0M518.9,213.5a1.0,1.0 0 1,0 2.0,0a1.0,1.0 0 1,0 -2.0,0M489.4,223.7a1.0,1.0 0 1,0 2.0,0a1.0,1.0 0 1,0 -2.0,0M487.3,207.8a1.0,1.0 0 1,0 2.0,0a1.0,1.0 0 1,0 -2.0,0" fill="#ffffff"/>
<path d="M525.1,221.1a1.0,1.0 0 1,0 2.0,0a1.0,1.0 0 1,0 -2.0,0M501.2,201.8a1.0,1.0 0 1,0 2.0,0a1.0,1.0 0 1,0 -2.0,0M516.6,221.9a1.0,1.0 0 1,0 2.0,0a1.0,1.0 0 1,0 -2.0,0" fill="#9a88e6"/>
<path d="M446.1,139.8a1.2,1.2 0 1,0 2.4,0a1.2,1.2 0 1,0 -2.4,0M477.4,122.7a1.2,1.2 0 1,0 2.4,0a1.2,1.2 0 1,0 -2.4,0M464.0,125.4a1.2,1.2 0 1,0 2.4,0a1.2,1.2 0 1,0 -2.4,0M470.7,143.3a1.2,1.2 0 1,0 2.4,0a1.2,1.2 0 1,0 -2.4,0M457.0,150.9a1.2,1.2 0 1,0 2.4,0a1.2,1.2 0 1,0 -2.4,0M448.1,129.1a1.2,1.2 0 1,0 2.4,0a1.2,1.2 0 1,0 -2.4,0M446.5,144.2a1.2,1.2 0 1,0 2.4,0a1.2,1.2 0 1,0 -2.4,0M467.3,128.1a1.2,1.2 0 1,0 2.4,0a1.2,1.2 0 1,0 -2.4,0M456.3,161.2a1.2,1.2 0 1,0 2.4,0a1.2,1.2 0 1,0 -2.4,0M480.7,151.0a1.2,1.2 0 1,0 2.4,0a1.2,1.2 0 1,0 -2.4,0M452.7,141.9a1.2,1.2 0 1,0 2.4,0a1.2,1.2 0 1,0 -2.4,0M443.6,161.3a1.2,1.2 0 1,0 2.4,0a1.2,1.2 0 1,0 -2.4,0M473.3,163.8a1.2,1.2 0 1,0 2.4,0a1.2,1.2 0 1,0 -2.4,0M461.9,152.2a1.2,1.2 0 1,0 2.4,0a1.2,1.2 0 1,0 -2.4,0" fill="#ffffff"/>
<text x="143.5" y="75.6" font-size="16" fill="#000" >Mel</text>
<text x="446.3" y="75.6" font-size="16" fill="#000" >Mel</text>
<text x="24" y="119.3" font-size="16" fill="#000" >HF</text>
<text x="326.5" y="119.3" font-size="16" fill="#000" >HF</text>
<text x="197" y="118.9" font-size="16" font-family="Liberation Sans, sans-serif">PDGFRA<tspan font-size="10" dy="-7">+</tspan><tspan dy="7"> Fib</tspan></text>
<text x="498.8" y="119.3" font-size="16" font-family="Liberation Sans, sans-serif">PDGFRA<tspan font-size="10" dy="-7">+</tspan><tspan dy="7"> Fib</tspan></text>
<text x="13.5" y="177.1" font-size="16" fill="#000" >Epithelia</text>
<text x="316" y="177.1" font-size="16" fill="#000" >Epithelia</text>
<text x="145.5" y="192" font-size="16" fill="#000" >Immune</text>
<text x="448.3" y="192" font-size="16" fill="#000" >Immune</text>
<text x="224.4" y="256.7" font-size="16" fill="#000" >Endothelium</text>
<text x="526.6" y="256.8" font-size="16" fill="#000" >Endothelium</text>
<text x="155.3" y="274" font-size="16" fill="#000" >LC</text>
<text x="458.2" y="274" font-size="16" fill="#000" >LC</text>
<text x="27.4" y="283" font-size="16" font-family="Liberation Sans, sans-serif">PDGFRB<tspan font-size="10" dy="-7">+</tspan><tspan dy="7"> Fib</tspan></text>
<text x="329.6" y="282.7" font-size="16" font-family="Liberation Sans, sans-serif">PDGFRB<tspan font-size="10" dy="-7">+</tspan><tspan dy="7"> Fib</tspan></text>
<defs><linearGradient id="pg" x1="0" y1="1" x2="0" y2="0"><stop offset="0" stop-color="#d6d3dc"/><stop offset="0.35" stop-color="#b9afe0"/><stop offset="0.7" stop-color="#7f6ae8"/><stop offset="1" stop-color="#2a10fa"/></linearGradient></defs>
<text x="592.5" y="141.1" font-size="15.2" fill="#000" letter-spacing="0.35">PPAR&#947; score</text>
<rect x="611.9" y="144.7" width="14.4" height="72" fill="url(#pg)"/>
<line x1="611.9" y1="165" x2="614.5" y2="165" stroke="#fff" stroke-width="0.6"/>
<line x1="623.7" y1="165" x2="626.3" y2="165" stroke="#fff" stroke-width="0.6"/>
<line x1="611.9" y1="187.3" x2="614.5" y2="187.3" stroke="#fff" stroke-width="0.6"/>
<line x1="623.7" y1="187.3" x2="626.3" y2="187.3" stroke="#fff" stroke-width="0.6"/>
<line x1="611.9" y1="209.5" x2="614.5" y2="209.5" stroke="#fff" stroke-width="0.6"/>
<line x1="623.7" y1="209.5" x2="626.3" y2="209.5" stroke="#fff" stroke-width="0.6"/>
<text x="632.6" y="168.2" font-size="13.6" fill="#000" >2</text>
<text x="632.6" y="190.6" font-size="13.6" fill="#000" >1</text>
<text x="632.6" y="213.0" font-size="13.6" fill="#000" >0</text>
<text x="-1.2" y="346.5" font-size="17.5" font-weight="bold" fill="#000" >B</text>
<g stroke="#000" stroke-width="1.6" fill="none">
<path d="M65.5,365.3 V564.3 H363.5"/>
<path d="M59.5,365.7 H65.5"/>
<path d="M59.5,415.2 H65.5"/>
<path d="M59.5,464.8 H65.5"/>
<path d="M59.5,514.3 H65.5"/>
<path d="M59.5,563.8 H65.5"/>
<path d="M65.5,514.3 H363.5" stroke-width="2"/>
<path d="M81.9,564.3 V570.3"/>
<path d="M119.7,564.3 V570.3"/>
<path d="M157.5,564.3 V570.3"/>
<path d="M195.3,564.3 V570.3"/>
<path d="M233.1,564.3 V570.3"/>
<path d="M270.9,564.3 V570.3"/>
<path d="M308.7,564.3 V570.3"/>
<path d="M346.5,564.3 V570.3"/>
</g>
<text x="56.3" y="371.97999999999996" font-size="14" text-anchor="end" fill="#000" >0.6</text>
<text x="56.3" y="421.52" font-size="14" text-anchor="end" fill="#000" >0.4</text>
<text x="56.3" y="471.05999999999995" font-size="14" text-anchor="end" fill="#000" >0.2</text>
<text x="56.3" y="520.5999999999999" font-size="14" text-anchor="end" fill="#000" >0.0</text>
<text x="56.3" y="570.1399999999999" font-size="14" text-anchor="end" fill="#000" >-0.2</text>
<text transform="translate(29.6,457.3) rotate(-90)" font-size="19.4" text-anchor="middle" font-family="Liberation Sans, sans-serif">PPAR&#947; score</text>
<path d="M75.2,447.4 V401.5 M72.2,401.5 H78.2" stroke="#000" stroke-width="0.8" fill="none"/>
<rect x="71" y="447.4" width="8.4" height="66.9" fill="#000"/>
<path d="M89.1,444.7 V428.7 M86.1,428.7 H92.1" stroke="#000" stroke-width="0.8" fill="none"/>
<rect x="85.5" y="444.7" width="7.1" height="69.6" fill="#a0a0a0" stroke="#000" stroke-width="1.6"/>
<path d="M89.1,444.7 V458.5 M86.1,458.5 H92.1" stroke="#000" stroke-width="0.8" fill="none"/>
<path d="M112.7,405.3 V381.7 M109.7,381.7 H115.7" stroke="#000" stroke-width="0.8" fill="none"/>
<rect x="108" y="405.3" width="9.4" height="109.0" fill="#000"/>
<path d="M126.7,446.8 V437.4 M123.7,437.4 H129.7" stroke="#000" stroke-width="0.8" fill="none"/>
<rect x="122.8" y="446.8" width="7.8" height="67.5" fill="#a0a0a0" stroke="#000" stroke-width="1.6"/>
<path d="M126.7,446.8 V455.5 M123.7,455.5 H129.7" stroke="#000" stroke-width="0.8" fill="none"/>
<path d="M150.3,536.5 V538.8 M147.3,538.8 H153.3" stroke="#000" stroke-width="0.8" fill="none"/>
<rect x="146" y="514.3" width="8.7" height="22.2" fill="#000"/>
<path d="M164.4,533.0 V538.8 M161.4,538.8 H167.4" stroke="#000" stroke-width="0.8" fill="none"/>
<rect x="160.8" y="514.3" width="7.2" height="18.7" fill="#a0a0a0" stroke="#000" stroke-width="1.6"/>
<path d="M164.4,533.0 V526.6 M161.4,526.6 H167.4" stroke="#000" stroke-width="0.8" fill="none"/>
<path d="M188.2,536.5 V542.3 M185.2,542.3 H191.2" stroke="#000" stroke-width="0.8" fill="none"/>
<rect x="183.5" y="514.3" width="9.5" height="22.2" fill="#000"/>
<path d="M202.5,545.5 V547.0 M199.5,547.0 H205.5" stroke="#000" stroke-width="0.8" fill="none"/>
<rect x="198.8" y="514.3" width="7.4" height="31.2" fill="#a0a0a0" stroke="#000" stroke-width="1.6"/>
<path d="M226.0,546.0 V549.6 M223.0,549.6 H229.0" stroke="#000" stroke-width="0.8" fill="none"/>
<rect x="221.5" y="514.3" width="9.0" height="31.7" fill="#000"/>
<path d="M240.6,550.0 V552.0 M237.6,552.0 H243.6" stroke="#000" stroke-width="0.8" fill="none"/>
<rect x="237.2" y="514.3" width="6.8" height="35.7" fill="#a0a0a0" stroke="#000" stroke-width="1.6"/>
<path d="M263.9,546.0 V548.0 M260.9,548.0 H266.9" stroke="#000" stroke-width="0.8" fill="none"/>
<rect x="259.4" y="514.3" width="9.1" height="31.7" fill="#000"/>
<path d="M278.4,552.8 V555.5 M275.4,555.5 H281.4" stroke="#000" stroke-width="0.8" fill="none"/>
<rect x="274.8" y="514.3" width="7.2" height="38.5" fill="#a0a0a0" stroke="#000" stroke-width="1.6"/>
<path d="M301.7,532.0 V539.4 M298.7,539.4 H304.7" stroke="#000" stroke-width="0.8" fill="none"/>
<rect x="297.4" y="514.3" width="8.6" height="17.7" fill="#000"/>
<path d="M315.9,516.0 V521.3 M312.9,521.3 H318.9" stroke="#000" stroke-width="0.8" fill="none"/>
<rect x="312.3" y="514.3" width="7.1" height="1.7" fill="#a0a0a0" stroke="#000" stroke-width="1.6"/>
<path d="M315.9,516.0 V511.7 M312.9,511.7 H318.9" stroke="#000" stroke-width="0.8" fill="none"/>
<path d="M339.6,531.0 V543.2 M336.6,543.2 H342.6" stroke="#000" stroke-width="0.8" fill="none"/>
<rect x="335.3" y="514.3" width="8.7" height="16.7" fill="#000"/>
<path d="M354.4,538.2 V540.3 M351.4,540.3 H357.4" stroke="#000" stroke-width="0.8" fill="none"/>
<rect x="350.8" y="514.3" width="7.1" height="23.9" fill="#a0a0a0" stroke="#000" stroke-width="1.6"/>
<text x="82.3" y="397.4" font-size="14" text-anchor="middle" fill="#000" >ns</text>
<text x="120" y="383.8" font-size="17" text-anchor="middle" fill="#000" >**</text>
<text x="157.9" y="507" font-size="14" text-anchor="middle" fill="#000" >ns</text>
<text x="195.8" y="507" font-size="14" text-anchor="middle" fill="#000" >ns</text>
<text x="233.7" y="507" font-size="14" text-anchor="middle" fill="#000" >ns</text>
<text x="271.7" y="507" font-size="14" text-anchor="middle" fill="#000" >ns</text>
<text x="308.9" y="507" font-size="14" text-anchor="middle" fill="#000" >ns</text>
<text x="349.3" y="507" font-size="14" text-anchor="middle" fill="#000" >ns</text>
<rect x="281.4" y="384.9" width="20.6" height="12.3" fill="#000"/>
<text x="311.2" y="396.3" font-size="14" fill="#000" >Healthy</text>
<rect x="282.2" y="409.7" width="19" height="10.7" fill="#a0a0a0" stroke="#000" stroke-width="1.6"/>
<text x="311.2" y="419.2" font-size="14" fill="#000" >Vitiligo</text>
<text transform="translate(100.5,580.5) rotate(-45)" font-size="14" text-anchor="end" font-family="Liberation Sans, sans-serif">Endothelial</text>
<text transform="translate(129.5,580.0) rotate(-45)" font-size="14" text-anchor="end" font-family="Liberation Sans, sans-serif">HF</text>
<text transform="translate(170.0,581.5) rotate(-45)" font-size="14" text-anchor="end" font-family="Liberation Sans, sans-serif">Epithelia</text>
<text transform="translate(212.0,581.5) rotate(-45)" font-size="14" text-anchor="end" font-family="Liberation Sans, sans-serif">Immune</text>
<text transform="translate(242.5,581.8) rotate(-45)" font-size="14" text-anchor="end" font-family="Liberation Sans, sans-serif">LC</text>
<text transform="translate(282.8,579.8) rotate(-45)" font-size="14" text-anchor="end" font-family="Liberation Sans, sans-serif">Mel</text>
<text transform="translate(325.4,584.0) rotate(-45)" font-size="14" text-anchor="end" font-family="Liberation Sans, sans-serif">PDGFRA+ Fib</text>
<text transform="translate(362.5,583.5) rotate(-45)" font-size="14" text-anchor="end" font-family="Liberation Sans, sans-serif">PDGFRB+ Fib</text>
<text x="-0.8" y="652.2" font-size="17.5" font-weight="bold" fill="#000" >C</text>
<text x="49.5" y="680.3" font-size="20.3" fill="#000" >Adult</text>
<text x="162" y="680.5" font-size="20.3" fill="#000" >Neonatal</text>
<text x="311.5" y="680.5" font-size="20.3" fill="#000" >Fetal</text>
<path d="M108.8,699.7 C111.0,699.3 118.2,699.5 120.1,700.2 C122.0,700.9 121.7,704.1 123.1,705.3 C124.5,706.5 129.3,708.2 130.3,709.4 C131.3,710.6 131.1,713.1 130.8,714.5 C130.5,715.9 128.5,717.3 128.2,719.6 C127.9,721.9 129.3,729.4 128.8,731.9 C128.3,734.4 125.4,736.8 124.2,738.0 C123.0,739.2 121.3,740.1 120.1,741.1 C118.9,742.1 116.9,744.5 115.0,745.2 C113.1,745.9 107.7,745.7 105.8,746.2 C103.9,746.7 101.7,748.1 100.7,749.3 C99.7,750.5 99.1,754.2 98.6,755.4 C98.1,756.6 97.1,758.5 96.6,758.5 C96.1,758.5 95.0,756.6 94.5,755.4 C94.0,754.2 94.0,750.4 92.5,749.3 C91.0,748.2 84.7,748.7 83.3,747.2 C81.9,745.7 81.9,740.5 81.8,738.0 C81.7,735.5 81.7,730.7 82.3,728.8 C82.9,726.9 85.1,724.8 86.3,723.7 C87.5,722.6 90.4,722.5 91.5,720.7 C92.6,718.9 93.4,712.3 94.5,710.4 C95.6,708.5 98.4,707.2 99.6,706.3 C100.8,705.4 102.5,704.2 103.7,703.3 C104.9,702.4 106.6,700.1 108.8,699.7Z" fill="#F8766D" fill-opacity="1"/>
<path d="M31.9,695.5 C33.2,693.8 38.4,693.6 41.0,693.5 C43.6,693.4 50.0,693.4 51.2,694.6 C52.4,695.8 50.9,700.7 50.3,702.5 C49.7,704.3 47.4,706.2 46.8,707.8 C46.2,709.4 46.8,713.7 45.9,714.8 C45.0,715.9 41.3,715.5 40.0,716.0 C38.7,716.5 37.2,718.6 36.3,718.3 C35.4,718.0 34.2,715.6 33.6,714.0 C33.0,712.4 31.7,708.5 31.5,706.0 C31.3,703.5 30.6,697.2 31.9,695.5Z" fill="#B79F00" fill-opacity="1"/>
<path d="M15.3,722.7 C15.5,721.1 20.7,714.2 22.3,713.0 C23.9,711.8 26.3,713.1 27.5,713.9 C28.7,714.7 30.0,718.6 31.0,719.0 C32.0,719.4 34.2,717.0 35.0,717.0 C35.8,717.0 37.2,718.2 37.0,719.0 C36.8,719.8 33.8,721.7 33.6,722.7 C33.4,723.7 35.3,725.5 35.4,726.2 C35.5,726.9 35.4,727.9 34.5,727.9 C33.6,727.9 29.8,725.6 28.4,726.2 C27.0,726.8 24.9,732.0 24.0,732.7 C23.1,733.4 21.9,732.4 21.4,731.4 C20.9,730.4 21.3,726.5 20.5,725.3 C19.7,724.1 15.1,724.3 15.3,722.7Z" fill="#B79F00" fill-opacity="1"/>
<path d="M80.2,767.7 C80.6,766.7 84.3,762.9 85.3,761.5 C86.3,760.1 86.2,757.5 87.4,757.4 C88.6,757.3 92.9,760.0 94.5,760.5 C96.1,761.0 99.1,761.0 99.6,761.5 C100.1,762.0 99.4,763.8 98.6,764.6 C97.8,765.4 94.6,767.1 93.5,767.7 C92.4,768.3 91.9,769.1 90.4,769.2 C88.9,769.3 83.7,768.9 82.3,768.7 C80.9,768.5 79.8,768.7 80.2,767.7Z" fill="#00BFC4" fill-opacity="1"/>
<path d="M47.0,716.0 C47.7,715.3 50.6,714.9 52.0,715.0 C53.4,715.1 56.8,715.7 57.3,716.5 C57.8,717.3 57.0,720.2 56.0,721.0 C55.0,721.8 51.2,722.8 50.0,722.7 C48.8,722.6 47.4,720.9 47.0,720.0 C46.6,719.1 46.3,716.7 47.0,716.0Z" fill="#00BA38" fill-opacity="0.75"/>
<path d="M44.5,728 L43,735 M41.5,738 L40.5,742 M37,724 L42,726 M60,742 L64,743 M70,746 L80,752" stroke="#00BA38" stroke-width="1.3" fill="none" stroke-linecap="round"/>
<circle cx="83" cy="809.5" r="0.8" fill="#619CFF"/>
<path d="M225.4,707.8 C228.2,704.8 237.1,701.0 240.6,700.2 C244.1,699.4 249.6,700.3 252.0,702.1 C254.4,703.9 258.3,710.0 258.6,713.5 C258.9,717.0 256.3,725.1 253.9,728.6 C251.5,732.1 243.9,737.5 240.6,740.0 C237.3,742.5 232.5,746.8 229.2,747.6 C225.9,748.4 217.9,747.5 215.9,745.7 C213.9,743.9 213.5,737.3 214.0,734.3 C214.5,731.3 218.2,726.5 219.7,723.0 C221.2,719.5 222.6,710.8 225.4,707.8Z" fill="#F8766D" fill-opacity="0.42"/>
<path d="M236.0,708.0 C236.7,704.7 242.6,702.0 245.0,701.5 C247.4,701.0 252.4,702.5 254.0,704.0 C255.6,705.5 257.5,710.6 257.0,713.0 C256.5,715.4 252.3,720.3 250.0,722.0 C247.7,723.7 241.9,727.9 240.0,726.0 C238.1,724.1 235.3,711.3 236.0,708.0Z" fill="#F8766D" fill-opacity="0.35"/>
<path d="M166.0,695.0 C166.8,693.0 172.7,692.8 174.0,694.0 C175.3,695.2 176.1,701.7 176.0,704.0 C175.9,706.3 174.1,710.9 173.0,711.6 C171.9,712.3 168.9,711.2 168.0,709.0 C167.1,706.8 165.2,697.0 166.0,695.0Z" fill="#B79F00" fill-opacity="0.7"/>
<path d="M148.5,721.0 C148.8,719.7 151.6,716.4 153.0,716.3 C154.4,716.2 158.5,718.5 159.0,720.0 C159.5,721.5 158.1,726.9 157.0,727.7 C155.9,728.5 152.1,726.9 151.0,726.0 C149.9,725.1 148.2,722.3 148.5,721.0Z" fill="#B79F00" fill-opacity="0.7"/>
<path d="M160,721.5 H168 M175,722 H180 M192,716 H198" stroke="#00BA38" stroke-width="0.8" fill="none" stroke-linecap="round"/>
<path d="M218.0,757.0 C218.8,755.5 223.9,754.8 225.0,756.0 C226.1,757.2 226.8,764.5 226.0,766.0 C225.2,767.5 220.1,768.2 219.0,767.0 C217.9,765.8 217.2,758.5 218.0,757.0Z" fill="#00BFC4" fill-opacity="0.5"/>
<path d="M360.0,706.0 C362.5,704.5 369.1,701.5 372.0,701.0 C374.9,700.5 379.6,700.8 382.0,702.0 C384.4,703.2 389.1,707.3 390.0,710.0 C390.9,712.7 389.8,719.6 389.0,722.0 C388.2,724.4 385.5,726.5 384.0,728.0 C382.5,729.5 379.1,731.1 378.0,733.0 C376.9,734.9 377.5,740.3 376.0,742.0 C374.5,743.7 369.8,745.0 367.0,746.0 C364.2,747.0 357.9,749.2 355.0,749.5 C352.1,749.8 346.6,749.9 345.0,748.0 C343.4,746.1 342.3,738.7 343.0,735.0 C343.7,731.3 348.7,723.1 350.0,720.0 C351.3,716.9 351.7,713.9 353.0,712.0 C354.3,710.1 357.5,707.5 360.0,706.0Z" fill="#F8766D" fill-opacity="1"/>
<path d="M294.3,699.9 C294.5,698.6 295.7,697.0 296.9,696.4 C298.1,695.8 301.5,696.4 303.0,695.5 C304.5,694.6 307.8,689.3 308.3,689.4 C308.8,689.5 306.3,694.3 306.5,696.4 C306.7,698.5 310.3,703.1 310.0,705.1 C309.7,707.1 305.4,710.5 303.9,711.3 C302.4,712.1 299.8,712.0 298.6,711.3 C297.4,710.6 295.7,707.5 295.1,706.0 C294.5,704.5 294.1,701.2 294.3,699.9Z" fill="#B79F00" fill-opacity="1"/>
<path d="M280.3,720.0 C280.5,718.2 283.0,715.7 283.8,715.6 C284.6,715.5 285.2,718.3 286.4,719.2 C287.6,720.1 291.2,722.1 292.5,722.7 C293.8,723.3 295.9,722.8 296.0,723.5 C296.1,724.2 294.8,727.0 293.4,727.9 C292.0,728.8 287.0,730.4 285.5,730.5 C284.0,730.6 282.7,730.2 282.0,728.8 C281.3,727.4 280.1,721.8 280.3,720.0Z" fill="#B79F00" fill-opacity="1"/>
<path d="M296,723.5 L309,722.5" stroke="#00BA38" stroke-width="1.4" fill="none" stroke-linecap="round"/>
<path d="M310.0,721.5 C310.6,720.6 314.7,718.1 317.0,717.4 C319.3,716.7 326.6,716.0 327.5,716.1 C328.4,716.2 325.3,717.4 324.0,718.3 C322.7,719.2 319.4,721.9 317.9,722.7 C316.4,723.5 313.8,724.6 312.7,724.4 C311.6,724.2 309.4,722.4 310.0,721.5Z" fill="#00BA38" fill-opacity="1"/>
<path d="M311,724.4 L311.8,736" stroke="#00BA38" stroke-width="1.2" fill="none" stroke-linecap="round"/>
<path d="M296.9,737.5 C297.3,737.3 300.2,738.4 301.3,739.3 C302.4,740.2 303.9,744.2 304.8,744.5 C305.7,744.8 307.4,742.4 308.3,741.9 C309.2,741.4 310.2,740.4 311.8,741.0 C313.4,741.6 319.8,745.4 320.5,746.3 C321.2,747.2 318.4,748.0 317.0,748.0 C315.6,748.0 311.5,746.2 310.0,746.3 C308.5,746.4 306.8,748.9 305.6,748.9 C304.4,748.9 302.2,747.4 301.3,746.3 C300.4,745.2 299.2,742.2 298.6,741.0 C298.0,739.8 296.5,737.7 296.9,737.5Z" fill="#00BA38" fill-opacity="1"/>
<path d="M342.0,767.0 C342.1,765.5 344.7,761.3 346.0,760.0 C347.3,758.7 350.1,757.0 352.0,757.0 C353.9,757.0 359.2,758.8 360.0,760.0 C360.8,761.2 359.1,764.8 358.0,766.0 C356.9,767.2 353.7,768.3 352.0,769.0 C350.3,769.7 346.3,771.3 345.0,771.0 C343.7,770.7 341.9,768.5 342.0,767.0Z" fill="#00BFC4" fill-opacity="1"/>
<path d="M335,748 L340,750" stroke="#00BA38" stroke-width="1.2" fill="none" stroke-linecap="round"/>
<circle cx="376" cy="798" r="0.9" fill="#619CFF"/>
<path d="M103.5,726.2a0.8,0.8 0 1,0 1.6,0a0.8,0.8 0 1,0 -1.6,0M106.1,727.4a0.8,0.8 0 1,0 1.6,0a0.8,0.8 0 1,0 -1.6,0M90.9,724.0a0.8,0.8 0 1,0 1.6,0a0.8,0.8 0 1,0 -1.6,0M111.8,736.7a0.8,0.8 0 1,0 1.6,0a0.8,0.8 0 1,0 -1.6,0M86.5,737.4a0.8,0.8 0 1,0 1.6,0a0.8,0.8 0 1,0 -1.6,0M102.9,738.9a0.8,0.8 0 1,0 1.6,0a0.8,0.8 0 1,0 -1.6,0M106.6,729.8a0.8,0.8 0 1,0 1.6,0a0.8,0.8 0 1,0 -1.6,0M105.7,730.8a0.8,0.8 0 1,0 1.6,0a0.8,0.8 0 1,0 -1.6,0M103.7,713.5a0.8,0.8 0 1,0 1.6,0a0.8,0.8 0 1,0 -1.6,0M118.2,719.0a0.8,0.8 0 1,0 1.6,0a0.8,0.8 0 1,0 -1.6,0M122.0,718.4a0.8,0.8 0 1,0 1.6,0a0.8,0.8 0 1,0 -1.6,0M128.3,718.9a0.8,0.8 0 1,0 1.6,0a0.8,0.8 0 1,0 -1.6,0M119.7,709.0a0.8,0.8 0 1,0 1.6,0a0.8,0.8 0 1,0 -1.6,0M108.5,721.1a0.8,0.8 0 1,0 1.6,0a0.8,0.8 0 1,0 -1.6,0M91.2,733.9a0.8,0.8 0 1,0 1.6,0a0.8,0.8 0 1,0 -1.6,0M122.4,729.9a0.8,0.8 0 1,0 1.6,0a0.8,0.8 0 1,0 -1.6,0M118.5,715.8a0.8,0.8 0 1,0 1.6,0a0.8,0.8 0 1,0 -1.6,0M86.4,727.2a0.8,0.8 0 1,0 1.6,0a0.8,0.8 0 1,0 -1.6,0M99.7,721.4a0.8,0.8 0 1,0 1.6,0a0.8,0.8 0 1,0 -1.6,0M124.9,737.8a0.8,0.8 0 1,0 1.6,0a0.8,0.8 0 1,0 -1.6,0M93.9,709.5a0.8,0.8 0 1,0 1.6,0a0.8,0.8 0 1,0 -1.6,0M91.4,743.8a0.8,0.8 0 1,0 1.6,0a0.8,0.8 0 1,0 -1.6,0M84.0,744.3a0.8,0.8 0 1,0 1.6,0a0.8,0.8 0 1,0 -1.6,0M93.4,732.7a0.8,0.8 0 1,0 1.6,0a0.8,0.8 0 1,0 -1.6,0M90.4,733.4a0.8,0.8 0 1,0 1.6,0a0.8,0.8 0 1,0 -1.6,0" fill="#ffffff"/>
<path d="M125.6,722.0a0.8,0.8 0 1,0 1.6,0a0.8,0.8 0 1,0 -1.6,0M114.8,702.9a0.8,0.8 0 1,0 1.6,0a0.8,0.8 0 1,0 -1.6,0M112.9,728.7a0.8,0.8 0 1,0 1.6,0a0.8,0.8 0 1,0 -1.6,0M107.0,703.7a0.8,0.8 0 1,0 1.6,0a0.8,0.8 0 1,0 -1.6,0M121.7,732.9a0.8,0.8 0 1,0 1.6,0a0.8,0.8 0 1,0 -1.6,0M97.0,711.3a0.8,0.8 0 1,0 1.6,0a0.8,0.8 0 1,0 -1.6,0M125.0,722.1a0.8,0.8 0 1,0 1.6,0a0.8,0.8 0 1,0 -1.6,0M85.6,729.3a0.8,0.8 0 1,0 1.6,0a0.8,0.8 0 1,0 -1.6,0M118.8,713.1a0.8,0.8 0 1,0 1.6,0a0.8,0.8 0 1,0 -1.6,0M88.4,730.0a0.8,0.8 0 1,0 1.6,0a0.8,0.8 0 1,0 -1.6,0M96.5,740.8a0.8,0.8 0 1,0 1.6,0a0.8,0.8 0 1,0 -1.6,0M92.1,718.7a0.8,0.8 0 1,0 1.6,0a0.8,0.8 0 1,0 -1.6,0M93.6,728.1a0.8,0.8 0 1,0 1.6,0a0.8,0.8 0 1,0 -1.6,0M127.3,722.8a0.8,0.8 0 1,0 1.6,0a0.8,0.8 0 1,0 -1.6,0M109.2,740.0a0.8,0.8 0 1,0 1.6,0a0.8,0.8 0 1,0 -1.6,0M123.7,728.2a0.8,0.8 0 1,0 1.6,0a0.8,0.8 0 1,0 -1.6,0M102.0,705.7a0.8,0.8 0 1,0 1.6,0a0.8,0.8 0 1,0 -1.6,0M94.3,738.1a0.8,0.8 0 1,0 1.6,0a0.8,0.8 0 1,0 -1.6,0M110.2,714.2a0.8,0.8 0 1,0 1.6,0a0.8,0.8 0 1,0 -1.6,0M108.5,739.4a0.8,0.8 0 1,0 1.6,0a0.8,0.8 0 1,0 -1.6,0" fill="#fbb0aa"/>
<path d="M362.4,737.4a0.8,0.8 0 1,0 1.6,0a0.8,0.8 0 1,0 -1.6,0M371.9,718.6a0.8,0.8 0 1,0 1.6,0a0.8,0.8 0 1,0 -1.6,0M346.9,730.4a0.8,0.8 0 1,0 1.6,0a0.8,0.8 0 1,0 -1.6,0M376.7,718.9a0.8,0.8 0 1,0 1.6,0a0.8,0.8 0 1,0 -1.6,0M347.1,735.5a0.8,0.8 0 1,0 1.6,0a0.8,0.8 0 1,0 -1.6,0M365.3,711.6a0.8,0.8 0 1,0 1.6,0a0.8,0.8 0 1,0 -1.6,0M357.0,732.2a0.8,0.8 0 1,0 1.6,0a0.8,0.8 0 1,0 -1.6,0M363.5,742.0a0.8,0.8 0 1,0 1.6,0a0.8,0.8 0 1,0 -1.6,0M358.2,731.6a0.8,0.8 0 1,0 1.6,0a0.8,0.8 0 1,0 -1.6,0M383.7,718.7a0.8,0.8 0 1,0 1.6,0a0.8,0.8 0 1,0 -1.6,0M349.5,723.8a0.8,0.8 0 1,0 1.6,0a0.8,0.8 0 1,0 -1.6,0M363.9,713.7a0.8,0.8 0 1,0 1.6,0a0.8,0.8 0 1,0 -1.6,0M372.0,723.7a0.8,0.8 0 1,0 1.6,0a0.8,0.8 0 1,0 -1.6,0M357.4,737.4a0.8,0.8 0 1,0 1.6,0a0.8,0.8 0 1,0 -1.6,0M372.2,731.1a0.8,0.8 0 1,0 1.6,0a0.8,0.8 0 1,0 -1.6,0M365.1,709.2a0.8,0.8 0 1,0 1.6,0a0.8,0.8 0 1,0 -1.6,0M371.5,735.8a0.8,0.8 0 1,0 1.6,0a0.8,0.8 0 1,0 -1.6,0M361.3,737.4a0.8,0.8 0 1,0 1.6,0a0.8,0.8 0 1,0 -1.6,0M349.2,721.9a0.8,0.8 0 1,0 1.6,0a0.8,0.8 0 1,0 -1.6,0M360.5,727.2a0.8,0.8 0 1,0 1.6,0a0.8,0.8 0 1,0 -1.6,0M372.7,734.0a0.8,0.8 0 1,0 1.6,0a0.8,0.8 0 1,0 -1.6,0M353.0,742.4a0.8,0.8 0 1,0 1.6,0a0.8,0.8 0 1,0 -1.6,0M357.9,742.9a0.8,0.8 0 1,0 1.6,0a0.8,0.8 0 1,0 -1.6,0M382.6,717.0a0.8,0.8 0 1,0 1.6,0a0.8,0.8 0 1,0 -1.6,0M368.5,736.3a0.8,0.8 0 1,0 1.6,0a0.8,0.8 0 1,0 -1.6,0M380.4,703.9a0.8,0.8 0 1,0 1.6,0a0.8,0.8 0 1,0 -1.6,0" fill="#fbb0aa"/>
<path d="M382.9,727.3a0.8,0.8 0 1,0 1.6,0a0.8,0.8 0 1,0 -1.6,0M370.0,729.0a0.8,0.8 0 1,0 1.6,0a0.8,0.8 0 1,0 -1.6,0M377.0,727.7a0.8,0.8 0 1,0 1.6,0a0.8,0.8 0 1,0 -1.6,0M363.5,739.6a0.8,0.8 0 1,0 1.6,0a0.8,0.8 0 1,0 -1.6,0M375.3,723.9a0.8,0.8 0 1,0 1.6,0a0.8,0.8 0 1,0 -1.6,0M352.3,720.8a0.8,0.8 0 1,0 1.6,0a0.8,0.8 0 1,0 -1.6,0M370.0,715.6a0.8,0.8 0 1,0 1.6,0a0.8,0.8 0 1,0 -1.6,0M353.0,720.0a0.8,0.8 0 1,0 1.6,0a0.8,0.8 0 1,0 -1.6,0M357.7,739.6a0.8,0.8 0 1,0 1.6,0a0.8,0.8 0 1,0 -1.6,0M375.8,727.2a0.8,0.8 0 1,0 1.6,0a0.8,0.8 0 1,0 -1.6,0M381.4,711.9a0.8,0.8 0 1,0 1.6,0a0.8,0.8 0 1,0 -1.6,0M372.1,721.5a0.8,0.8 0 1,0 1.6,0a0.8,0.8 0 1,0 -1.6,0M374.7,710.2a0.8,0.8 0 1,0 1.6,0a0.8,0.8 0 1,0 -1.6,0M376.1,709.2a0.8,0.8 0 1,0 1.6,0a0.8,0.8 0 1,0 -1.6,0M355.7,716.9a0.8,0.8 0 1,0 1.6,0a0.8,0.8 0 1,0 -1.6,0M375.3,724.9a0.8,0.8 0 1,0 1.6,0a0.8,0.8 0 1,0 -1.6,0M373.2,710.4a0.8,0.8 0 1,0 1.6,0a0.8,0.8 0 1,0 -1.6,0M367.9,737.4a0.8,0.8 0 1,0 1.6,0a0.8,0.8 0 1,0 -1.6,0M380.0,709.0a0.8,0.8 0 1,0 1.6,0a0.8,0.8 0 1,0 -1.6,0" fill="#ffffff"/>
<path d="M35.6,708.0a0.7,0.7 0 1,0 1.4,0a0.7,0.7 0 1,0 -1.4,0M48.0,697.7a0.7,0.7 0 1,0 1.4,0a0.7,0.7 0 1,0 -1.4,0M45.5,695.5a0.7,0.7 0 1,0 1.4,0a0.7,0.7 0 1,0 -1.4,0M35.6,699.8a0.7,0.7 0 1,0 1.4,0a0.7,0.7 0 1,0 -1.4,0M44.0,701.8a0.7,0.7 0 1,0 1.4,0a0.7,0.7 0 1,0 -1.4,0M38.3,708.0a0.7,0.7 0 1,0 1.4,0a0.7,0.7 0 1,0 -1.4,0M34.4,705.7a0.7,0.7 0 1,0 1.4,0a0.7,0.7 0 1,0 -1.4,0M36.6,699.2a0.7,0.7 0 1,0 1.4,0a0.7,0.7 0 1,0 -1.4,0M41.3,704.2a0.7,0.7 0 1,0 1.4,0a0.7,0.7 0 1,0 -1.4,0M38.7,703.7a0.7,0.7 0 1,0 1.4,0a0.7,0.7 0 1,0 -1.4,0M41.3,698.4a0.7,0.7 0 1,0 1.4,0a0.7,0.7 0 1,0 -1.4,0M35.8,708.3a0.7,0.7 0 1,0 1.4,0a0.7,0.7 0 1,0 -1.4,0" fill="#ffffff"/>
<path d="M297.0,698.6a0.7,0.7 0 1,0 1.4,0a0.7,0.7 0 1,0 -1.4,0M304.7,698.9a0.7,0.7 0 1,0 1.4,0a0.7,0.7 0 1,0 -1.4,0M300.8,706.8a0.7,0.7 0 1,0 1.4,0a0.7,0.7 0 1,0 -1.4,0M296.9,701.0a0.7,0.7 0 1,0 1.4,0a0.7,0.7 0 1,0 -1.4,0M297.9,705.2a0.7,0.7 0 1,0 1.4,0a0.7,0.7 0 1,0 -1.4,0M296.8,702.6a0.7,0.7 0 1,0 1.4,0a0.7,0.7 0 1,0 -1.4,0M305.2,702.5a0.7,0.7 0 1,0 1.4,0a0.7,0.7 0 1,0 -1.4,0M304.2,697.8a0.7,0.7 0 1,0 1.4,0a0.7,0.7 0 1,0 -1.4,0M302.0,703.5a0.7,0.7 0 1,0 1.4,0a0.7,0.7 0 1,0 -1.4,0M297.2,697.8a0.7,0.7 0 1,0 1.4,0a0.7,0.7 0 1,0 -1.4,0M298.0,707.6a0.7,0.7 0 1,0 1.4,0a0.7,0.7 0 1,0 -1.4,0M307.7,701.9a0.7,0.7 0 1,0 1.4,0a0.7,0.7 0 1,0 -1.4,0" fill="#ffffff"/>
<path d="M283.5,724.6a0.7,0.7 0 1,0 1.4,0a0.7,0.7 0 1,0 -1.4,0M290.2,724.2a0.7,0.7 0 1,0 1.4,0a0.7,0.7 0 1,0 -1.4,0M283.6,722.3a0.7,0.7 0 1,0 1.4,0a0.7,0.7 0 1,0 -1.4,0M288.9,724.2a0.7,0.7 0 1,0 1.4,0a0.7,0.7 0 1,0 -1.4,0M288.5,725.0a0.7,0.7 0 1,0 1.4,0a0.7,0.7 0 1,0 -1.4,0M291.1,724.2a0.7,0.7 0 1,0 1.4,0a0.7,0.7 0 1,0 -1.4,0" fill="#ffffff"/>
<text x="105.3" y="732.9" font-size="16" fill="#000" >0</text>
<text x="34" y="713.5" font-size="16" fill="#000" >1</text>
<text x="42" y="741.5" font-size="16" fill="#000" >2</text>
<text x="86.5" y="768.2" font-size="16" fill="#000" >3</text>
<text x="112" y="801" font-size="16" fill="#000" >4</text>
<text x="43" y="777" font-size="16" fill="#000" >5</text>
<text x="235.8" y="724.8" font-size="16" fill="#000" >0</text>
<text x="167" y="712.5" font-size="16" fill="#000" >1</text>
<text x="181.5" y="723.9" font-size="16" fill="#000" >2</text>
<text x="219.3" y="766.6" font-size="16" fill="#000" >3</text>
<text x="242.8" y="801" font-size="16" fill="#000" >4</text>
<text x="365.7" y="724" font-size="16" fill="#000" >0</text>
<text x="290.5" y="721.3" font-size="16" fill="#000" >1</text>
<text x="311" y="743.7" font-size="16" fill="#000" >2</text>
<text x="350" y="769" font-size="16" fill="#000" >3</text>
<text x="341" y="814" font-size="16" fill="#000" >4</text>
<text x="304" y="778" font-size="16" fill="#000" >5</text>
<circle cx="410.8" cy="679.6" r="5.6" fill="#F8766D"/>
<text x="431.7" y="686.2" font-size="16.3" fill="#000" >0</text>
<circle cx="410.8" cy="700.9" r="5.6" fill="#B79F00"/>
<text x="431.7" y="707.5" font-size="16.3" fill="#000" >1</text>
<circle cx="410.8" cy="722.2" r="5.6" fill="#00BA38"/>
<text x="431.7" y="728.8000000000001" font-size="16.3" fill="#000" >2</text>
<circle cx="410.8" cy="743.5" r="5.6" fill="#00BFC4"/>
<text x="431.7" y="750.1" font-size="16.3" fill="#000" >3</text>
<circle cx="410.8" cy="764.8" r="5.6" fill="#619CFF"/>
<text x="431.7" y="771.4000000000001" font-size="16.3" fill="#000" >4</text>
<circle cx="410.8" cy="786.1" r="5.6" fill="#F564E3"/>
<text x="431.7" y="792.7" font-size="16.3" fill="#000" >5</text>
<text x="473.8" y="651.9" font-size="17.5" font-weight="bold" fill="#000" >D</text>
<g stroke="#000" stroke-width="1.6" fill="none">
<path d="M541.8,670 V797 H626.7"/>
<path d="M537,797.0 H541.8"/>
<path d="M537,770.7 H541.8"/>
<path d="M537,744.4 H541.8"/>
<path d="M537,718.1 H541.8"/>
<path d="M537,691.8 H541.8"/>
<path d="M558.7,797 V801.7"/>
<path d="M584.2,797 V801.7"/>
<path d="M609.5,797 V801.7"/>
</g>
<text x="534.8" y="802.2" font-size="16.8" text-anchor="end" fill="#000" >0</text>
<text x="534.8" y="775.9000000000001" font-size="16.8" text-anchor="end" fill="#000" >25</text>
<text x="534.8" y="749.6" font-size="16.8" text-anchor="end" fill="#000" >50</text>
<text x="534.8" y="723.3000000000001" font-size="16.8" text-anchor="end" fill="#000" >75</text>
<text x="534.8" y="697.0" font-size="16.8" text-anchor="end" fill="#000" >100</text>
<text transform="translate(504.1,729.9) rotate(-90)" font-size="19.3" text-anchor="middle" font-family="Liberation Sans, sans-serif">Percentage</text>
<rect x="551.0" y="720.7" width="14.9" height="76.3" fill="#d42a25" stroke="#000" stroke-width="1.6"/>
<rect x="551.0" y="700.6" width="14.9" height="20.1" fill="#2a65ab" stroke="#000" stroke-width="1.6"/>
<rect x="551.0" y="696.3" width="14.9" height="4.3" fill="#3e9a3a" stroke="#000" stroke-width="1.6"/>
<rect x="551.0" y="691.4" width="14.9" height="4.9" fill="#7a3a9a" stroke="#000" stroke-width="1.6"/>
<rect x="576.8" y="713.4" width="15.1" height="83.6" fill="#d42a25" stroke="#000" stroke-width="1.6"/>
<rect x="576.8" y="698.4" width="15.1" height="14.9" fill="#2a65ab" stroke="#000" stroke-width="1.6"/>
<rect x="576.8" y="694.3" width="15.1" height="4.1" fill="#3e9a3a" stroke="#000" stroke-width="1.6"/>
<rect x="576.8" y="691.4" width="15.1" height="2.9" fill="#7a3a9a" stroke="#000" stroke-width="1.6"/>
<rect x="602.5" y="736.4" width="14.6" height="60.6" fill="#d42a25" stroke="#000" stroke-width="1.6"/>
<rect x="602.5" y="722.8" width="14.6" height="13.6" fill="#2a65ab" stroke="#000" stroke-width="1.6"/>
<rect x="602.5" y="701.7" width="14.6" height="21.1" fill="#3e9a3a" stroke="#000" stroke-width="1.6"/>
<rect x="602.5" y="696.4" width="14.6" height="5.3" fill="#7a3a9a" stroke="#000" stroke-width="1.6"/>
<rect x="602.5" y="694.3" width="14.6" height="2.1" fill="#e8672a" stroke="#000" stroke-width="1.6"/>
<rect x="602.5" y="692.4" width="14.6" height="1.9" fill="#f2ea3c" stroke="#000" stroke-width="1.6"/>
<path d="M566.9,679.1 H601.2" stroke="#000" stroke-width="1.5"/>
<text x="584.1" y="680.3" font-size="19.5" text-anchor="middle" font-weight="bold" fill="#000" >****</text>
<text x="620" y="685" font-size="16.5" fill="#000" >Cluster</text>
<rect x="634.9" y="787.8" width="12.2" height="12.5" fill="#d42a25" stroke="#000" stroke-width="1.5"/>
<text x="653.5" y="799.0999999999999" font-size="16" fill="#000" >0</text>
<rect x="634.9" y="768.8" width="12.2" height="12.5" fill="#2a65ab" stroke="#000" stroke-width="1.5"/>
<text x="653.5" y="780.1199999999999" font-size="16" fill="#000" >1</text>
<rect x="634.9" y="749.8" width="12.2" height="12.5" fill="#3e9a3a" stroke="#000" stroke-width="1.5"/>
<text x="653.5" y="761.1399999999999" font-size="16" fill="#000" >2</text>
<rect x="634.9" y="730.9" width="12.2" height="12.5" fill="#7a3a9a" stroke="#000" stroke-width="1.5"/>
<text x="653.5" y="742.16" font-size="16" fill="#000" >3</text>
<rect x="634.9" y="711.9" width="12.2" height="12.5" fill="#e8672a" stroke="#000" stroke-width="1.5"/>
<text x="653.5" y="723.18" font-size="16" fill="#000" >4</text>
<rect x="634.9" y="692.9" width="12.2" height="12.5" fill="#f2ea3c" stroke="#000" stroke-width="1.5"/>
<text x="653.5" y="704.1999999999999" font-size="16" fill="#000" >5</text>
<text transform="translate(559.5,813) rotate(-34)" font-size="16.5" text-anchor="end" font-family="Liberation Sans, sans-serif">Adult</text>
<text transform="translate(585.5,811.2) rotate(-34)" font-size="16.5" text-anchor="end" font-family="Liberation Sans, sans-serif">Neonatal</text>
<text transform="translate(610.3,812.7) rotate(-34)" font-size="16.5" text-anchor="end" font-family="Liberation Sans, sans-serif">Fetal</text>
<text x="-1.3" y="854.3" font-size="17.5" font-weight="bold" fill="#000" >E</text>
<rect x="13.90" y="875.40" width="11.97" height="14.78" fill="#eff6d9" stroke="#b4b2a4" stroke-width="0.8"/>
<rect x="25.87" y="875.40" width="11.97" height="14.78" fill="#f1f7d6" stroke="#b4b2a4" stroke-width="0.8"/>
<rect x="37.83" y="875.40" width="11.97" height="14.78" fill="#eef6da" stroke="#b4b2a4" stroke-width="0.8"/>
<rect x="49.80" y="875.40" width="11.97" height="14.78" fill="#f4f8d2" stroke="#b4b2a4" stroke-width="0.8"/>
<rect x="61.77" y="875.40" width="11.97" height="14.78" fill="#eaf4de" stroke="#b4b2a4" stroke-width="0.8"/>
<rect x="73.73" y="875.40" width="11.97" height="14.78" fill="#e8f3e0" stroke="#b4b2a4" stroke-width="0.8"/>
<rect x="85.70" y="875.40" width="11.97" height="14.78" fill="#dff0ec" stroke="#b4b2a4" stroke-width="0.8"/>
<rect x="97.67" y="875.40" width="11.97" height="14.78" fill="#ecf5dc" stroke="#b4b2a4" stroke-width="0.8"/>
<rect x="109.64" y="875.40" width="11.97" height="14.78" fill="#e6f3e4" stroke="#b4b2a4" stroke-width="0.8"/>
<rect x="121.60" y="875.40" width="11.97" height="14.78" fill="#d6edf5" stroke="#b4b2a4" stroke-width="0.8"/>
<rect x="133.57" y="875.40" width="11.97" height="14.78" fill="#c2dcee" stroke="#b4b2a4" stroke-width="0.8"/>
<rect x="145.54" y="875.40" width="11.97" height="14.78" fill="#9dc4e0" stroke="#b4b2a4" stroke-width="0.8"/>
<rect x="157.50" y="875.40" width="11.97" height="14.78" fill="#fef0a8" stroke="#b4b2a4" stroke-width="0.8"/>
<rect x="169.47" y="875.40" width="11.97" height="14.78" fill="#fedf90" stroke="#b4b2a4" stroke-width="0.8"/>
<rect x="181.44" y="875.40" width="11.97" height="14.78" fill="#feeaa0" stroke="#b4b2a4" stroke-width="0.8"/>
<rect x="193.41" y="875.40" width="11.97" height="14.78" fill="#fee59c" stroke="#b4b2a4" stroke-width="0.8"/>
<rect x="205.37" y="875.40" width="11.97" height="14.78" fill="#fee69c" stroke="#b4b2a4" stroke-width="0.8"/>
<rect x="217.34" y="875.40" width="11.97" height="14.78" fill="#fee196" stroke="#b4b2a4" stroke-width="0.8"/>
<rect x="229.31" y="875.40" width="11.97" height="14.78" fill="#feeca6" stroke="#b4b2a4" stroke-width="0.8"/>
<rect x="241.27" y="875.40" width="11.97" height="14.78" fill="#fedf96" stroke="#b4b2a4" stroke-width="0.8"/>
<rect x="253.24" y="875.40" width="11.97" height="14.78" fill="#fefbbb" stroke="#b4b2a4" stroke-width="0.8"/>
<rect x="265.21" y="875.40" width="11.97" height="14.78" fill="#f8fac8" stroke="#b4b2a4" stroke-width="0.8"/>
<rect x="277.17" y="875.40" width="11.97" height="14.78" fill="#fcfbc2" stroke="#b4b2a4" stroke-width="0.8"/>
<rect x="289.14" y="875.40" width="11.97" height="14.78" fill="#f6f9cc" stroke="#b4b2a4" stroke-width="0.8"/>
<rect x="301.11" y="875.40" width="11.97" height="14.78" fill="#fbfbc4" stroke="#b4b2a4" stroke-width="0.8"/>
<rect x="313.07" y="875.40" width="11.97" height="14.78" fill="#f9fac8" stroke="#b4b2a4" stroke-width="0.8"/>
<rect x="325.04" y="875.40" width="11.97" height="14.78" fill="#fefbbb" stroke="#b4b2a4" stroke-width="0.8"/>
<rect x="337.01" y="875.40" width="11.97" height="14.78" fill="#fefbbb" stroke="#b4b2a4" stroke-width="0.8"/>
<rect x="348.98" y="875.40" width="11.97" height="14.78" fill="#fefbbb" stroke="#b4b2a4" stroke-width="0.8"/>
<rect x="360.94" y="875.40" width="11.97" height="14.78" fill="#fef8b6" stroke="#b4b2a4" stroke-width="0.8"/>
<rect x="372.91" y="875.40" width="11.97" height="14.78" fill="#fefbbd" stroke="#b4b2a4" stroke-width="0.8"/>
<rect x="384.88" y="875.40" width="11.97" height="14.78" fill="#4a74b4" stroke="#b4b2a4" stroke-width="0.8"/>
<rect x="396.84" y="875.40" width="11.97" height="14.78" fill="#db3b2e" stroke="#b4b2a4" stroke-width="0.8"/>
<rect x="408.81" y="875.40" width="11.97" height="14.78" fill="#d93328" stroke="#b4b2a4" stroke-width="0.8"/>
<rect x="420.78" y="875.40" width="11.97" height="14.78" fill="#e04a35" stroke="#b4b2a4" stroke-width="0.8"/>
<rect x="432.75" y="875.40" width="11.97" height="14.78" fill="#fdb56c" stroke="#b4b2a4" stroke-width="0.8"/>
<rect x="444.71" y="875.40" width="11.97" height="14.78" fill="#fdb36b" stroke="#b4b2a4" stroke-width="0.8"/>
<rect x="456.68" y="875.40" width="11.97" height="14.78" fill="#f98857" stroke="#b4b2a4" stroke-width="0.8"/>
<rect x="468.65" y="875.40" width="11.97" height="14.78" fill="#f57c52" stroke="#b4b2a4" stroke-width="0.8"/>
<rect x="13.90" y="890.18" width="11.97" height="14.78" fill="#fde49a" stroke="#b4b2a4" stroke-width="0.8"/>
<rect x="25.87" y="890.18" width="11.97" height="14.78" fill="#fde49a" stroke="#b4b2a4" stroke-width="0.8"/>
<rect x="37.83" y="890.18" width="11.97" height="14.78" fill="#feeeaa" stroke="#b4b2a4" stroke-width="0.8"/>
<rect x="49.80" y="890.18" width="11.97" height="14.78" fill="#fde299" stroke="#b4b2a4" stroke-width="0.8"/>
<rect x="61.77" y="890.18" width="11.97" height="14.78" fill="#fde7a0" stroke="#b4b2a4" stroke-width="0.8"/>
<rect x="73.73" y="890.18" width="11.97" height="14.78" fill="#fde090" stroke="#b4b2a4" stroke-width="0.8"/>
<rect x="85.70" y="890.18" width="11.97" height="14.78" fill="#fde094" stroke="#b4b2a4" stroke-width="0.8"/>
<rect x="97.67" y="890.18" width="11.97" height="14.78" fill="#fef0b0" stroke="#b4b2a4" stroke-width="0.8"/>
<rect x="109.64" y="890.18" width="11.97" height="14.78" fill="#fef5b6" stroke="#b4b2a4" stroke-width="0.8"/>
<rect x="121.60" y="890.18" width="11.97" height="14.78" fill="#fdb56c" stroke="#b4b2a4" stroke-width="0.8"/>
<rect x="133.57" y="890.18" width="11.97" height="14.78" fill="#fca560" stroke="#b4b2a4" stroke-width="0.8"/>
<rect x="145.54" y="890.18" width="11.97" height="14.78" fill="#fca862" stroke="#b4b2a4" stroke-width="0.8"/>
<rect x="157.50" y="890.18" width="11.97" height="14.78" fill="#f4f9d2" stroke="#b4b2a4" stroke-width="0.8"/>
<rect x="169.47" y="890.18" width="11.97" height="14.78" fill="#eef6d8" stroke="#b4b2a4" stroke-width="0.8"/>
<rect x="181.44" y="890.18" width="11.97" height="14.78" fill="#fbfbc6" stroke="#b4b2a4" stroke-width="0.8"/>
<rect x="193.41" y="890.18" width="11.97" height="14.78" fill="#f7f9cc" stroke="#b4b2a4" stroke-width="0.8"/>
<rect x="205.37" y="890.18" width="11.97" height="14.78" fill="#fefbbc" stroke="#b4b2a4" stroke-width="0.8"/>
<rect x="217.34" y="890.18" width="11.97" height="14.78" fill="#fefbbc" stroke="#b4b2a4" stroke-width="0.8"/>
<rect x="229.31" y="890.18" width="11.97" height="14.78" fill="#fefbbc" stroke="#b4b2a4" stroke-width="0.8"/>
<rect x="241.27" y="890.18" width="11.97" height="14.78" fill="#f4f8d2" stroke="#b4b2a4" stroke-width="0.8"/>
<rect x="253.24" y="890.18" width="11.97" height="14.78" fill="#fefab8" stroke="#b4b2a4" stroke-width="0.8"/>
<rect x="265.21" y="890.18" width="11.97" height="14.78" fill="#fefab8" stroke="#b4b2a4" stroke-width="0.8"/>
<rect x="277.17" y="890.18" width="11.97" height="14.78" fill="#fefab8" stroke="#b4b2a4" stroke-width="0.8"/>
<rect x="289.14" y="890.18" width="11.97" height="14.78" fill="#fefab8" stroke="#b4b2a4" stroke-width="0.8"/>
<rect x="301.11" y="890.18" width="11.97" height="14.78" fill="#fefab8" stroke="#b4b2a4" stroke-width="0.8"/>
<rect x="313.07" y="890.18" width="11.97" height="14.78" fill="#fefab8" stroke="#b4b2a4" stroke-width="0.8"/>
<rect x="325.04" y="890.18" width="11.97" height="14.78" fill="#fefab8" stroke="#b4b2a4" stroke-width="0.8"/>
<rect x="337.01" y="890.18" width="11.97" height="14.78" fill="#fefab8" stroke="#b4b2a4" stroke-width="0.8"/>
<rect x="348.98" y="890.18" width="11.97" height="14.78" fill="#fefab8" stroke="#b4b2a4" stroke-width="0.8"/>
<rect x="360.94" y="890.18" width="11.97" height="14.78" fill="#fef9b8" stroke="#b4b2a4" stroke-width="0.8"/>
<rect x="372.91" y="890.18" width="11.97" height="14.78" fill="#feeba4" stroke="#b4b2a4" stroke-width="0.8"/>
<rect x="384.88" y="890.18" width="11.97" height="14.78" fill="#d73027" stroke="#b4b2a4" stroke-width="0.8"/>
<rect x="396.84" y="890.18" width="11.97" height="14.78" fill="#e4f2ee" stroke="#b4b2a4" stroke-width="0.8"/>
<rect x="408.81" y="890.18" width="11.97" height="14.78" fill="#dcedf3" stroke="#b4b2a4" stroke-width="0.8"/>
<rect x="420.78" y="890.18" width="11.97" height="14.78" fill="#8db9da" stroke="#b4b2a4" stroke-width="0.8"/>
<rect x="432.75" y="890.18" width="11.97" height="14.78" fill="#eaf4e2" stroke="#b4b2a4" stroke-width="0.8"/>
<rect x="444.71" y="890.18" width="11.97" height="14.78" fill="#eaf5e2" stroke="#b4b2a4" stroke-width="0.8"/>
<rect x="456.68" y="890.18" width="11.97" height="14.78" fill="#c8e0ec" stroke="#b4b2a4" stroke-width="0.8"/>
<rect x="468.65" y="890.18" width="11.97" height="14.78" fill="#c7e0ed" stroke="#b4b2a4" stroke-width="0.8"/>
<rect x="13.90" y="904.96" width="11.97" height="14.78" fill="#fef4b0" stroke="#b4b2a4" stroke-width="0.8"/>
<rect x="25.87" y="904.96" width="11.97" height="14.78" fill="#fef4b0" stroke="#b4b2a4" stroke-width="0.8"/>
<rect x="37.83" y="904.96" width="11.97" height="14.78" fill="#fef4b0" stroke="#b4b2a4" stroke-width="0.8"/>
<rect x="49.80" y="904.96" width="11.97" height="14.78" fill="#fde8a2" stroke="#b4b2a4" stroke-width="0.8"/>
<rect x="61.77" y="904.96" width="11.97" height="14.78" fill="#fef4b0" stroke="#b4b2a4" stroke-width="0.8"/>
<rect x="73.73" y="904.96" width="11.97" height="14.78" fill="#fefbbc" stroke="#b4b2a4" stroke-width="0.8"/>
<rect x="85.70" y="904.96" width="11.97" height="14.78" fill="#fef0aa" stroke="#b4b2a4" stroke-width="0.8"/>
<rect x="97.67" y="904.96" width="11.97" height="14.78" fill="#fde69c" stroke="#b4b2a4" stroke-width="0.8"/>
<rect x="109.64" y="904.96" width="11.97" height="14.78" fill="#fdd98a" stroke="#b4b2a4" stroke-width="0.8"/>
<rect x="121.60" y="904.96" width="11.97" height="14.78" fill="#fef2ad" stroke="#b4b2a4" stroke-width="0.8"/>
<rect x="133.57" y="904.96" width="11.97" height="14.78" fill="#fef4b2" stroke="#b4b2a4" stroke-width="0.8"/>
<rect x="145.54" y="904.96" width="11.97" height="14.78" fill="#fee8a2" stroke="#b4b2a4" stroke-width="0.8"/>
<rect x="157.50" y="904.96" width="11.97" height="14.78" fill="#fefab8" stroke="#b4b2a4" stroke-width="0.8"/>
<rect x="169.47" y="904.96" width="11.97" height="14.78" fill="#fefab8" stroke="#b4b2a4" stroke-width="0.8"/>
<rect x="181.44" y="904.96" width="11.97" height="14.78" fill="#fefab8" stroke="#b4b2a4" stroke-width="0.8"/>
<rect x="193.41" y="904.96" width="11.97" height="14.78" fill="#fefab8" stroke="#b4b2a4" stroke-width="0.8"/>
<rect x="205.37" y="904.96" width="11.97" height="14.78" fill="#fefab8" stroke="#b4b2a4" stroke-width="0.8"/>
<rect x="217.34" y="904.96" width="11.97" height="14.78" fill="#fefab8" stroke="#b4b2a4" stroke-width="0.8"/>
<rect x="229.31" y="904.96" width="11.97" height="14.78" fill="#fefab8" stroke="#b4b2a4" stroke-width="0.8"/>
<rect x="241.27" y="904.96" width="11.97" height="14.78" fill="#fedf96" stroke="#b4b2a4" stroke-width="0.8"/>
<rect x="253.24" y="904.96" width="11.97" height="14.78" fill="#fef8b6" stroke="#b4b2a4" stroke-width="0.8"/>
<rect x="265.21" y="904.96" width="11.97" height="14.78" fill="#fef1ab" stroke="#b4b2a4" stroke-width="0.8"/>
<rect x="277.17" y="904.96" width="11.97" height="14.78" fill="#fef9b8" stroke="#b4b2a4" stroke-width="0.8"/>
<rect x="289.14" y="904.96" width="11.97" height="14.78" fill="#fef9b8" stroke="#b4b2a4" stroke-width="0.8"/>
<rect x="301.11" y="904.96" width="11.97" height="14.78" fill="#fef9b8" stroke="#b4b2a4" stroke-width="0.8"/>
<rect x="313.07" y="904.96" width="11.97" height="14.78" fill="#fef9b8" stroke="#b4b2a4" stroke-width="0.8"/>
<rect x="325.04" y="904.96" width="11.97" height="14.78" fill="#fef9b8" stroke="#b4b2a4" stroke-width="0.8"/>
<rect x="337.01" y="904.96" width="11.97" height="14.78" fill="#fef9b8" stroke="#b4b2a4" stroke-width="0.8"/>
<rect x="348.98" y="904.96" width="11.97" height="14.78" fill="#fef9b8" stroke="#b4b2a4" stroke-width="0.8"/>
<rect x="360.94" y="904.96" width="11.97" height="14.78" fill="#fef9b8" stroke="#b4b2a4" stroke-width="0.8"/>
<rect x="372.91" y="904.96" width="11.97" height="14.78" fill="#fef9b8" stroke="#b4b2a4" stroke-width="0.8"/>
<rect x="384.88" y="904.96" width="11.97" height="14.78" fill="#fee8a2" stroke="#b4b2a4" stroke-width="0.8"/>
<rect x="396.84" y="904.96" width="11.97" height="14.78" fill="#e0f1f5" stroke="#b4b2a4" stroke-width="0.8"/>
<rect x="408.81" y="904.96" width="11.97" height="14.78" fill="#e0f1f5" stroke="#b4b2a4" stroke-width="0.8"/>
<rect x="420.78" y="904.96" width="11.97" height="14.78" fill="#fef4b0" stroke="#b4b2a4" stroke-width="0.8"/>
<rect x="432.75" y="904.96" width="11.97" height="14.78" fill="#fefab8" stroke="#b4b2a4" stroke-width="0.8"/>
<rect x="444.71" y="904.96" width="11.97" height="14.78" fill="#f6f9cc" stroke="#b4b2a4" stroke-width="0.8"/>
<rect x="456.68" y="904.96" width="11.97" height="14.78" fill="#f6f9cc" stroke="#b4b2a4" stroke-width="0.8"/>
<rect x="468.65" y="904.96" width="11.97" height="14.78" fill="#f4f8d0" stroke="#b4b2a4" stroke-width="0.8"/>
<rect x="13.90" y="919.74" width="11.97" height="14.78" fill="#fefbbd" stroke="#b4b2a4" stroke-width="0.8"/>
<rect x="25.87" y="919.74" width="11.97" height="14.78" fill="#fcf9c3" stroke="#b4b2a4" stroke-width="0.8"/>
<rect x="37.83" y="919.74" width="11.97" height="14.78" fill="#fefbbd" stroke="#b4b2a4" stroke-width="0.8"/>
<rect x="49.80" y="919.74" width="11.97" height="14.78" fill="#f3f8d4" stroke="#b4b2a4" stroke-width="0.8"/>
<rect x="61.77" y="919.74" width="11.97" height="14.78" fill="#fefbbd" stroke="#b4b2a4" stroke-width="0.8"/>
<rect x="73.73" y="919.74" width="11.97" height="14.78" fill="#fefbbd" stroke="#b4b2a4" stroke-width="0.8"/>
<rect x="85.70" y="919.74" width="11.97" height="14.78" fill="#fefbbd" stroke="#b4b2a4" stroke-width="0.8"/>
<rect x="97.67" y="919.74" width="11.97" height="14.78" fill="#f8fac8" stroke="#b4b2a4" stroke-width="0.8"/>
<rect x="109.64" y="919.74" width="11.97" height="14.78" fill="#fefbbd" stroke="#b4b2a4" stroke-width="0.8"/>
<rect x="121.60" y="919.74" width="11.97" height="14.78" fill="#f8f9cc" stroke="#b4b2a4" stroke-width="0.8"/>
<rect x="133.57" y="919.74" width="11.97" height="14.78" fill="#fbfbc5" stroke="#b4b2a4" stroke-width="0.8"/>
<rect x="145.54" y="919.74" width="11.97" height="14.78" fill="#fefbbd" stroke="#b4b2a4" stroke-width="0.8"/>
<rect x="157.50" y="919.74" width="11.97" height="14.78" fill="#fefbbd" stroke="#b4b2a4" stroke-width="0.8"/>
<rect x="169.47" y="919.74" width="11.97" height="14.78" fill="#fefbbd" stroke="#b4b2a4" stroke-width="0.8"/>
<rect x="181.44" y="919.74" width="11.97" height="14.78" fill="#fefbbd" stroke="#b4b2a4" stroke-width="0.8"/>
<rect x="193.41" y="919.74" width="11.97" height="14.78" fill="#fbfbc6" stroke="#b4b2a4" stroke-width="0.8"/>
<rect x="205.37" y="919.74" width="11.97" height="14.78" fill="#f3f8d4" stroke="#b4b2a4" stroke-width="0.8"/>
<rect x="217.34" y="919.74" width="11.97" height="14.78" fill="#f4f8d2" stroke="#b4b2a4" stroke-width="0.8"/>
<rect x="229.31" y="919.74" width="11.97" height="14.78" fill="#fefbbb" stroke="#b4b2a4" stroke-width="0.8"/>
<rect x="241.27" y="919.74" width="11.97" height="14.78" fill="#f3f8d4" stroke="#b4b2a4" stroke-width="0.8"/>
<rect x="253.24" y="919.74" width="11.97" height="14.78" fill="#fefbbc" stroke="#b4b2a4" stroke-width="0.8"/>
<rect x="265.21" y="919.74" width="11.97" height="14.78" fill="#fefbbc" stroke="#b4b2a4" stroke-width="0.8"/>
<rect x="277.17" y="919.74" width="11.97" height="14.78" fill="#fefbbc" stroke="#b4b2a4" stroke-width="0.8"/>
<rect x="289.14" y="919.74" width="11.97" height="14.78" fill="#fefbbc" stroke="#b4b2a4" stroke-width="0.8"/>
<rect x="301.11" y="919.74" width="11.97" height="14.78" fill="#fefbbc" stroke="#b4b2a4" stroke-width="0.8"/>
<rect x="313.07" y="919.74" width="11.97" height="14.78" fill="#fefbbc" stroke="#b4b2a4" stroke-width="0.8"/>
<rect x="325.04" y="919.74" width="11.97" height="14.78" fill="#fefbbc" stroke="#b4b2a4" stroke-width="0.8"/>
<rect x="337.01" y="919.74" width="11.97" height="14.78" fill="#fefbbc" stroke="#b4b2a4" stroke-width="0.8"/>
<rect x="348.98" y="919.74" width="11.97" height="14.78" fill="#fefbbc" stroke="#b4b2a4" stroke-width="0.8"/>
<rect x="360.94" y="919.74" width="11.97" height="14.78" fill="#fefbbc" stroke="#b4b2a4" stroke-width="0.8"/>
<rect x="372.91" y="919.74" width="11.97" height="14.78" fill="#f6f9cc" stroke="#b4b2a4" stroke-width="0.8"/>
<rect x="384.88" y="919.74" width="11.97" height="14.78" fill="#fefbbc" stroke="#b4b2a4" stroke-width="0.8"/>
<rect x="396.84" y="919.74" width="11.97" height="14.78" fill="#eef6da" stroke="#b4b2a4" stroke-width="0.8"/>
<rect x="408.81" y="919.74" width="11.97" height="14.78" fill="#eef6da" stroke="#b4b2a4" stroke-width="0.8"/>
<rect x="420.78" y="919.74" width="11.97" height="14.78" fill="#eef6da" stroke="#b4b2a4" stroke-width="0.8"/>
<rect x="432.75" y="919.74" width="11.97" height="14.78" fill="#eef6da" stroke="#b4b2a4" stroke-width="0.8"/>
<rect x="444.71" y="919.74" width="11.97" height="14.78" fill="#eef6da" stroke="#b4b2a4" stroke-width="0.8"/>
<rect x="456.68" y="919.74" width="11.97" height="14.78" fill="#eef6da" stroke="#b4b2a4" stroke-width="0.8"/>
<rect x="468.65" y="919.74" width="11.97" height="14.78" fill="#eef6da" stroke="#b4b2a4" stroke-width="0.8"/>
<rect x="13.90" y="934.52" width="11.97" height="14.78" fill="#fef8b6" stroke="#b4b2a4" stroke-width="0.8"/>
<rect x="25.87" y="934.52" width="11.97" height="14.78" fill="#fef8b6" stroke="#b4b2a4" stroke-width="0.8"/>
<rect x="37.83" y="934.52" width="11.97" height="14.78" fill="#fef8b6" stroke="#b4b2a4" stroke-width="0.8"/>
<rect x="49.80" y="934.52" width="11.97" height="14.78" fill="#fef8b6" stroke="#b4b2a4" stroke-width="0.8"/>
<rect x="61.77" y="934.52" width="11.97" height="14.78" fill="#fef8b6" stroke="#b4b2a4" stroke-width="0.8"/>
<rect x="73.73" y="934.52" width="11.97" height="14.78" fill="#fef0ab" stroke="#b4b2a4" stroke-width="0.8"/>
<rect x="85.70" y="934.52" width="11.97" height="14.78" fill="#fef8b6" stroke="#b4b2a4" stroke-width="0.8"/>
<rect x="97.67" y="934.52" width="11.97" height="14.78" fill="#fef8b6" stroke="#b4b2a4" stroke-width="0.8"/>
<rect x="109.64" y="934.52" width="11.97" height="14.78" fill="#fef8b6" stroke="#b4b2a4" stroke-width="0.8"/>
<rect x="121.60" y="934.52" width="11.97" height="14.78" fill="#fef5b2" stroke="#b4b2a4" stroke-width="0.8"/>
<rect x="133.57" y="934.52" width="11.97" height="14.78" fill="#fef5b2" stroke="#b4b2a4" stroke-width="0.8"/>
<rect x="145.54" y="934.52" width="11.97" height="14.78" fill="#fef5b2" stroke="#b4b2a4" stroke-width="0.8"/>
<rect x="157.50" y="934.52" width="11.97" height="14.78" fill="#feeda6" stroke="#b4b2a4" stroke-width="0.8"/>
<rect x="169.47" y="934.52" width="11.97" height="14.78" fill="#fef8b6" stroke="#b4b2a4" stroke-width="0.8"/>
<rect x="181.44" y="934.52" width="11.97" height="14.78" fill="#fef8b6" stroke="#b4b2a4" stroke-width="0.8"/>
<rect x="193.41" y="934.52" width="11.97" height="14.78" fill="#fef8b6" stroke="#b4b2a4" stroke-width="0.8"/>
<rect x="205.37" y="934.52" width="11.97" height="14.78" fill="#fef8b6" stroke="#b4b2a4" stroke-width="0.8"/>
<rect x="217.34" y="934.52" width="11.97" height="14.78" fill="#fef8b6" stroke="#b4b2a4" stroke-width="0.8"/>
<rect x="229.31" y="934.52" width="11.97" height="14.78" fill="#fef8b6" stroke="#b4b2a4" stroke-width="0.8"/>
<rect x="241.27" y="934.52" width="11.97" height="14.78" fill="#fef8b6" stroke="#b4b2a4" stroke-width="0.8"/>
<rect x="253.24" y="934.52" width="11.97" height="14.78" fill="#fef8b6" stroke="#b4b2a4" stroke-width="0.8"/>
<rect x="265.21" y="934.52" width="11.97" height="14.78" fill="#fef8b6" stroke="#b4b2a4" stroke-width="0.8"/>
<rect x="277.17" y="934.52" width="11.97" height="14.78" fill="#fef8b6" stroke="#b4b2a4" stroke-width="0.8"/>
<rect x="289.14" y="934.52" width="11.97" height="14.78" fill="#fef8b6" stroke="#b4b2a4" stroke-width="0.8"/>
<rect x="301.11" y="934.52" width="11.97" height="14.78" fill="#fef8b6" stroke="#b4b2a4" stroke-width="0.8"/>
<rect x="313.07" y="934.52" width="11.97" height="14.78" fill="#fef8b6" stroke="#b4b2a4" stroke-width="0.8"/>
<rect x="325.04" y="934.52" width="11.97" height="14.78" fill="#fef8b6" stroke="#b4b2a4" stroke-width="0.8"/>
<rect x="337.01" y="934.52" width="11.97" height="14.78" fill="#fef8b6" stroke="#b4b2a4" stroke-width="0.8"/>
<rect x="348.98" y="934.52" width="11.97" height="14.78" fill="#fef8b6" stroke="#b4b2a4" stroke-width="0.8"/>
<rect x="360.94" y="934.52" width="11.97" height="14.78" fill="#fef8b6" stroke="#b4b2a4" stroke-width="0.8"/>
<rect x="372.91" y="934.52" width="11.97" height="14.78" fill="#fef8b6" stroke="#b4b2a4" stroke-width="0.8"/>
<rect x="384.88" y="934.52" width="11.97" height="14.78" fill="#fef8b6" stroke="#b4b2a4" stroke-width="0.8"/>
<rect x="396.84" y="934.52" width="11.97" height="14.78" fill="#fbfbc4" stroke="#b4b2a4" stroke-width="0.8"/>
<rect x="408.81" y="934.52" width="11.97" height="14.78" fill="#fef8b6" stroke="#b4b2a4" stroke-width="0.8"/>
<rect x="420.78" y="934.52" width="11.97" height="14.78" fill="#fef8b6" stroke="#b4b2a4" stroke-width="0.8"/>
<rect x="432.75" y="934.52" width="11.97" height="14.78" fill="#fef8b6" stroke="#b4b2a4" stroke-width="0.8"/>
<rect x="444.71" y="934.52" width="11.97" height="14.78" fill="#fef8b6" stroke="#b4b2a4" stroke-width="0.8"/>
<rect x="456.68" y="934.52" width="11.97" height="14.78" fill="#fef8b6" stroke="#b4b2a4" stroke-width="0.8"/>
<rect x="468.65" y="934.52" width="11.97" height="14.78" fill="#fef8b6" stroke="#b4b2a4" stroke-width="0.8"/>
<rect x="13.90" y="949.30" width="11.97" height="14.78" fill="#fefab8" stroke="#b4b2a4" stroke-width="0.8"/>
<rect x="25.87" y="949.30" width="11.97" height="14.78" fill="#fefab8" stroke="#b4b2a4" stroke-width="0.8"/>
<rect x="37.83" y="949.30" width="11.97" height="14.78" fill="#fefab8" stroke="#b4b2a4" stroke-width="0.8"/>
<rect x="49.80" y="949.30" width="11.97" height="14.78" fill="#fefab8" stroke="#b4b2a4" stroke-width="0.8"/>
<rect x="61.77" y="949.30" width="11.97" height="14.78" fill="#fefab8" stroke="#b4b2a4" stroke-width="0.8"/>
<rect x="73.73" y="949.30" width="11.97" height="14.78" fill="#fefab8" stroke="#b4b2a4" stroke-width="0.8"/>
<rect x="85.70" y="949.30" width="11.97" height="14.78" fill="#fefab8" stroke="#b4b2a4" stroke-width="0.8"/>
<rect x="97.67" y="949.30" width="11.97" height="14.78" fill="#fefab8" stroke="#b4b2a4" stroke-width="0.8"/>
<rect x="109.64" y="949.30" width="11.97" height="14.78" fill="#fefab8" stroke="#b4b2a4" stroke-width="0.8"/>
<rect x="121.60" y="949.30" width="11.97" height="14.78" fill="#fefab8" stroke="#b4b2a4" stroke-width="0.8"/>
<rect x="133.57" y="949.30" width="11.97" height="14.78" fill="#fefab8" stroke="#b4b2a4" stroke-width="0.8"/>
<rect x="145.54" y="949.30" width="11.97" height="14.78" fill="#fefab8" stroke="#b4b2a4" stroke-width="0.8"/>
<rect x="157.50" y="949.30" width="11.97" height="14.78" fill="#fefab8" stroke="#b4b2a4" stroke-width="0.8"/>
<rect x="169.47" y="949.30" width="11.97" height="14.78" fill="#fefab8" stroke="#b4b2a4" stroke-width="0.8"/>
<rect x="181.44" y="949.30" width="11.97" height="14.78" fill="#fefab8" stroke="#b4b2a4" stroke-width="0.8"/>
<rect x="193.41" y="949.30" width="11.97" height="14.78" fill="#fefab8" stroke="#b4b2a4" stroke-width="0.8"/>
<rect x="205.37" y="949.30" width="11.97" height="14.78" fill="#fefab8" stroke="#b4b2a4" stroke-width="0.8"/>
<rect x="217.34" y="949.30" width="11.97" height="14.78" fill="#fefab8" stroke="#b4b2a4" stroke-width="0.8"/>
<rect x="229.31" y="949.30" width="11.97" height="14.78" fill="#fefab8" stroke="#b4b2a4" stroke-width="0.8"/>
<rect x="241.27" y="949.30" width="11.97" height="14.78" fill="#fefab8" stroke="#b4b2a4" stroke-width="0.8"/>
<rect x="253.24" y="949.30" width="11.97" height="14.78" fill="#fefab8" stroke="#b4b2a4" stroke-width="0.8"/>
<rect x="265.21" y="949.30" width="11.97" height="14.78" fill="#fefab8" stroke="#b4b2a4" stroke-width="0.8"/>
<rect x="277.17" y="949.30" width="11.97" height="14.78" fill="#fefab8" stroke="#b4b2a4" stroke-width="0.8"/>
<rect x="289.14" y="949.30" width="11.97" height="14.78" fill="#fefab8" stroke="#b4b2a4" stroke-width="0.8"/>
<rect x="301.11" y="949.30" width="11.97" height="14.78" fill="#fefab8" stroke="#b4b2a4" stroke-width="0.8"/>
<rect x="313.07" y="949.30" width="11.97" height="14.78" fill="#fefab8" stroke="#b4b2a4" stroke-width="0.8"/>
<rect x="325.04" y="949.30" width="11.97" height="14.78" fill="#fefab8" stroke="#b4b2a4" stroke-width="0.8"/>
<rect x="337.01" y="949.30" width="11.97" height="14.78" fill="#fefab8" stroke="#b4b2a4" stroke-width="0.8"/>
<rect x="348.98" y="949.30" width="11.97" height="14.78" fill="#fefab8" stroke="#b4b2a4" stroke-width="0.8"/>
<rect x="360.94" y="949.30" width="11.97" height="14.78" fill="#fefab8" stroke="#b4b2a4" stroke-width="0.8"/>
<rect x="372.91" y="949.30" width="11.97" height="14.78" fill="#fefab8" stroke="#b4b2a4" stroke-width="0.8"/>
<rect x="384.88" y="949.30" width="11.97" height="14.78" fill="#fefab8" stroke="#b4b2a4" stroke-width="0.8"/>
<rect x="396.84" y="949.30" width="11.97" height="14.78" fill="#fefab8" stroke="#b4b2a4" stroke-width="0.8"/>
<rect x="408.81" y="949.30" width="11.97" height="14.78" fill="#fefab8" stroke="#b4b2a4" stroke-width="0.8"/>
<rect x="420.78" y="949.30" width="11.97" height="14.78" fill="#fefab8" stroke="#b4b2a4" stroke-width="0.8"/>
<rect x="432.75" y="949.30" width="11.97" height="14.78" fill="#fefab8" stroke="#b4b2a4" stroke-width="0.8"/>
<rect x="444.71" y="949.30" width="11.97" height="14.78" fill="#fefab8" stroke="#b4b2a4" stroke-width="0.8"/>
<rect x="456.68" y="949.30" width="11.97" height="14.78" fill="#fefab8" stroke="#b4b2a4" stroke-width="0.8"/>
<rect x="468.65" y="949.30" width="11.97" height="14.78" fill="#fefab8" stroke="#b4b2a4" stroke-width="0.8"/>
<rect x="482.3" y="875.40" width="7" height="14.78" fill="#e41a1c" stroke="#c8c8c8" stroke-width="0.5"/>
<rect x="482.3" y="890.18" width="7" height="14.78" fill="#377eb8" stroke="#c8c8c8" stroke-width="0.5"/>
<rect x="482.3" y="904.96" width="7" height="14.78" fill="#4daf4a" stroke="#c8c8c8" stroke-width="0.5"/>
<rect x="482.3" y="919.74" width="7" height="14.78" fill="#984ea3" stroke="#c8c8c8" stroke-width="0.5"/>
<rect x="482.3" y="934.52" width="7" height="14.78" fill="#ff7f00" stroke="#c8c8c8" stroke-width="0.5"/>
<rect x="482.3" y="949.30" width="7" height="14.78" fill="#ffff33" stroke="#c8c8c8" stroke-width="0.5"/>
<text x="492.8" y="867.4" font-size="12.5" fill="#000" >Cluster</text>
<rect x="496" y="872.80" width="16.2" height="16.28" fill="#e41a1c" stroke="#c0c0c0" stroke-width="0.6"/>
<text x="515.6" y="885.0" font-size="11" fill="#000" >0</text>
<rect x="496" y="889.08" width="16.2" height="16.28" fill="#377eb8" stroke="#c0c0c0" stroke-width="0.6"/>
<text x="515.6" y="901.28" font-size="11" fill="#000" >1</text>
<rect x="496" y="905.36" width="16.2" height="16.28" fill="#4daf4a" stroke="#c0c0c0" stroke-width="0.6"/>
<text x="515.6" y="917.56" font-size="11" fill="#000" >2</text>
<rect x="496" y="921.64" width="16.2" height="16.28" fill="#984ea3" stroke="#c0c0c0" stroke-width="0.6"/>
<text x="515.6" y="933.84" font-size="11" fill="#000" >3</text>
<rect x="496" y="937.92" width="16.2" height="16.28" fill="#ff7f00" stroke="#c0c0c0" stroke-width="0.6"/>
<text x="515.6" y="950.12" font-size="11" fill="#000" >4</text>
<rect x="496" y="954.20" width="16.2" height="16.28" fill="#ffff33" stroke="#c0c0c0" stroke-width="0.6"/>
<text x="515.6" y="966.4" font-size="11" fill="#000" >5</text>
<text transform="translate(397.2,967.5) rotate(-57)" font-size="12.8" text-anchor="end" font-family="Liberation Sans, sans-serif">Sdc1</text>
<text transform="translate(409.1,967.5) rotate(-57)" font-size="12.8" text-anchor="end" font-family="Liberation Sans, sans-serif">Cav1</text>
<text transform="translate(421.1,967.5) rotate(-57)" font-size="12.8" text-anchor="end" font-family="Liberation Sans, sans-serif">Apoe</text>
<text transform="translate(433.1,967.5) rotate(-57)" font-size="12.8" text-anchor="end" font-family="Liberation Sans, sans-serif">Sat1</text>
<text transform="translate(445.0,967.5) rotate(-57)" font-size="12.8" text-anchor="end" font-family="Liberation Sans, sans-serif">Tsc22d1</text>
<text transform="translate(457.0,967.5) rotate(-57)" font-size="12.8" text-anchor="end" font-family="Liberation Sans, sans-serif">Sgk1</text>
<text transform="translate(469.0,967.5) rotate(-57)" font-size="12.8" text-anchor="end" font-family="Liberation Sans, sans-serif">Scarb1</text>
<text transform="translate(480.9,967.5) rotate(-57)" font-size="12.8" text-anchor="end" font-family="Liberation Sans, sans-serif">Cyp27a1</text>
<defs><linearGradient id="eg" x1="0" x2="1"><stop offset="0" stop-color="#4575b4"/><stop offset="0.18" stop-color="#91bfdb"/><stop offset="0.33" stop-color="#e0f3f8"/><stop offset="0.5" stop-color="#ffffbf"/><stop offset="0.67" stop-color="#fee090"/><stop offset="0.82" stop-color="#fc8d59"/><stop offset="1" stop-color="#d73027"/></linearGradient></defs>
<text x="139.5" y="977.5" font-size="13" fill="#000" >Expression</text>
<rect x="141" y="979" width="169.4" height="11" fill="url(#eg)"/>
<text transform="translate(150.5,996.5) rotate(-57)" font-size="12.8" text-anchor="end" font-family="Liberation Sans, sans-serif">-3000</text>
<text transform="translate(178.3,996.5) rotate(-57)" font-size="12.8" text-anchor="end" font-family="Liberation Sans, sans-serif">-2000</text>
<text transform="translate(206.1,996.5) rotate(-57)" font-size="12.8" text-anchor="end" font-family="Liberation Sans, sans-serif">-1000</text>
<text transform="translate(233.9,996.5) rotate(-57)" font-size="12.8" text-anchor="end" font-family="Liberation Sans, sans-serif">0</text>
<text transform="translate(261.7,996.5) rotate(-57)" font-size="12.8" text-anchor="end" font-family="Liberation Sans, sans-serif">1000</text>
<text transform="translate(289.5,996.5) rotate(-57)" font-size="12.8" text-anchor="end" font-family="Liberation Sans, sans-serif">2000</text></svg>
</body></html>
